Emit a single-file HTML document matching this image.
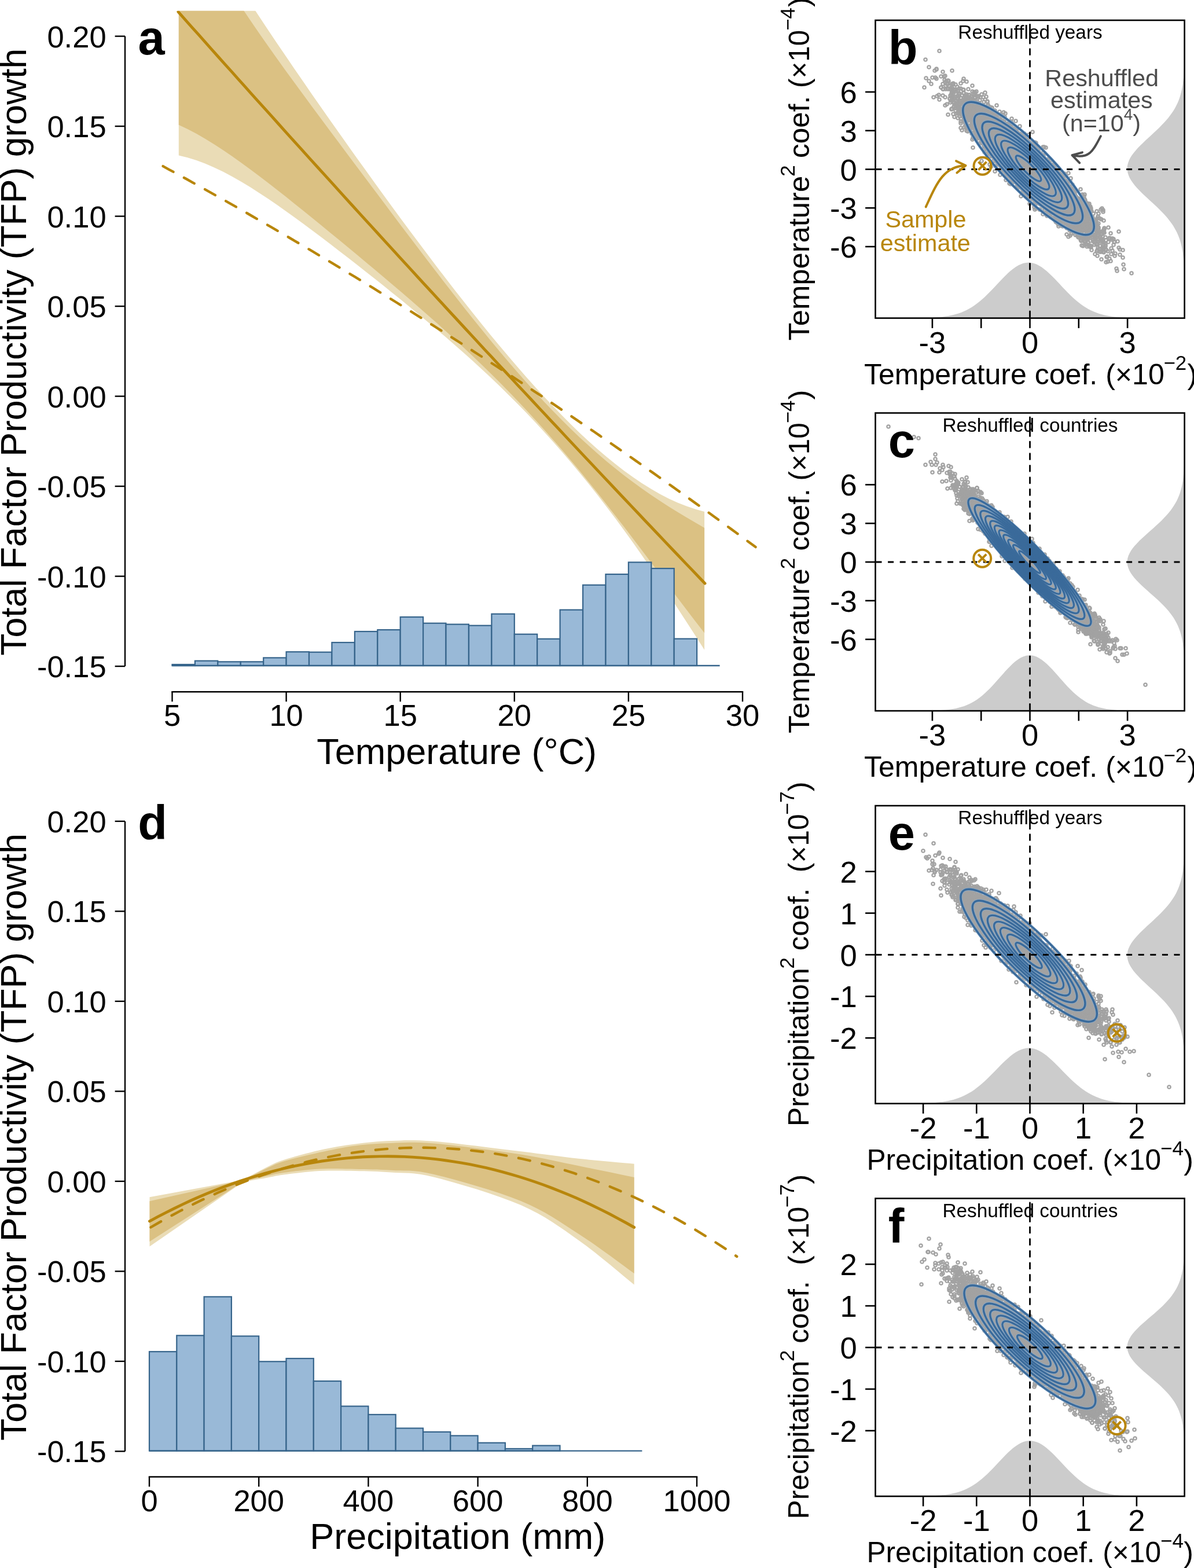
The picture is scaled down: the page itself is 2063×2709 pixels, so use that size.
<!DOCTYPE html>
<html><head><meta charset="utf-8"><title>Figure</title>
<style>html,body{margin:0;padding:0;background:#fff;}svg{display:block;}</style></head>
<body><svg xmlns="http://www.w3.org/2000/svg" width="2063" height="2709" viewBox="0 0 2063 2709" font-family="'Liberation Sans', Arial, Helvetica, sans-serif"><defs><marker id="ring" markerUnits="userSpaceOnUse" markerWidth="10" markerHeight="10" refX="5" refY="5" overflow="visible"><circle cx="5" cy="5" r="2.65" fill="none" stroke="#a2a2a2" stroke-width="2.3"/></marker><clipPath id="clipA"><rect x="216" y="18.75" width="1100" height="1176"/></clipPath><clipPath id="clipD"><rect x="216" y="1375" width="1100" height="1176"/></clipPath></defs><g clip-path="url(#clipA)"><polygon points="308.8,-194.6 324.1,-168.4 339.5,-142.5 354.9,-117.2 370.3,-92.2 385.7,-67.6 401.1,-43.3 416.5,-19.4 431.9,4.3 447.3,27.7 462.7,50.9 478.1,73.9 493.5,96.6 508.9,119.2 524.3,141.6 539.7,163.9 555.1,186 570.5,208 585.9,229.8 601.3,251.6 616.7,273.2 632.1,294.6 647.5,316 662.9,337.2 678.2,358.3 693.6,379.2 709,400 724.4,420.6 739.8,441.1 755.2,461.4 770.6,481.5 786,501.4 801.4,521.1 816.8,540.6 832.2,559.8 847.6,578.7 863,597.3 878.4,615.6 893.8,633.6 909.2,651.2 924.6,668.4 940,685.2 955.4,701.6 970.8,717.5 986.2,733 1001.6,747.9 1017,762.2 1032.4,776 1047.7,789.1 1063.1,801.6 1078.5,813.5 1093.9,824.6 1109.3,835 1124.7,844.6 1140.1,853.4 1155.5,861.4 1170.9,868.4 1186.3,874.6 1201.7,879.8 1217.1,884.1 1217.1,1122.7 1201.7,1098.6 1186.3,1074.7 1170.9,1051 1155.5,1027.6 1140.1,1004.6 1124.7,981.9 1109.3,959.7 1093.9,937.8 1078.5,916.5 1063.1,895.6 1047.7,875.2 1032.4,855.3 1017,835.8 1001.6,816.9 986.2,798.4 970.8,780.4 955.4,762.9 940,745.9 924.6,729.3 909.2,713.1 893.8,697.3 878.4,681.9 863,666.8 847.6,652.1 832.2,637.7 816.8,623.6 801.4,609.8 786,596.2 770.6,582.8 755.2,569.7 739.8,556.7 724.4,543.9 709,531.2 693.6,518.6 678.2,506.2 662.9,493.8 647.5,481.6 632.1,469.4 616.7,457.3 601.3,445.3 585.9,433.4 570.5,421.5 555.1,409.8 539.7,398.2 524.3,386.8 508.9,375.5 493.5,364.4 478.1,353.6 462.7,343.1 447.3,332.9 431.9,323.1 416.5,313.8 401.1,305 385.7,296.8 370.3,289.4 354.9,282.7 339.5,276.9 324.1,272.2 308.8,268.5" fill="#eadcb6"/><polygon points="308.8,-171.9 324.1,-142.4 339.5,-114.3 354.9,-87.4 370.3,-61.5 385.7,-36.4 401.1,-12.2 416.5,11.3 431.9,34.3 447.3,56.8 462.7,78.8 478.1,100.5 493.5,121.9 508.9,143.1 524.3,164.1 539.7,185 555.1,205.8 570.5,226.5 585.9,247.1 601.3,267.7 616.7,288.2 632.1,308.8 647.5,329.3 662.9,349.8 678.2,370.2 693.6,390.7 709,411 724.4,431.3 739.8,451.5 755.2,471.6 770.6,491.5 786,511.3 801.4,530.9 816.8,550.2 832.2,569.3 847.6,588.2 863,606.7 878.4,624.9 893.8,642.8 909.2,660.2 924.6,677.3 940,693.9 955.4,710.1 970.8,725.8 986.2,741 1001.6,755.7 1017,769.8 1032.4,783.5 1047.7,796.7 1063.1,809.3 1078.5,821.4 1093.9,833.1 1109.3,844.3 1124.7,855 1140.1,865.3 1155.5,875.2 1170.9,884.7 1186.3,894 1201.7,903.1 1217.1,912 1217.1,1093.6 1201.7,1073.7 1186.3,1053.6 1170.9,1033.2 1155.5,1012.7 1140.1,992.1 1124.7,971.6 1109.3,951.1 1093.9,930.8 1078.5,910.6 1063.1,890.7 1047.7,871 1032.4,851.5 1017,832.4 1001.6,813.6 986.2,795.2 970.8,777.1 955.4,759.4 940,742 924.6,725 909.2,708.3 893.8,692 878.4,676 863,660.3 847.6,645 832.2,629.9 816.8,615.2 801.4,600.7 786,586.4 770.6,572.4 755.2,558.5 739.8,544.9 724.4,531.4 709,518 693.6,504.8 678.2,491.7 662.9,478.7 647.5,465.7 632.1,452.9 616.7,440 601.3,427.3 585.9,414.6 570.5,401.9 555.1,389.3 539.7,376.8 524.3,364.3 508.9,351.9 493.5,339.6 478.1,327.5 462.7,315.5 447.3,303.7 431.9,292.2 416.5,280.9 401.1,270 385.7,259.5 370.3,249.5 354.9,240 339.5,231.1 324.1,223 308.8,215.7" fill="#dbc183"/><polyline points="307.9,20.4 319.4,33.4 330.9,46.3 342.5,59.2 354,72.2 365.5,85.1 377,98 388.5,110.9 400.1,123.7 411.6,136.6 423.1,149.4 434.6,162.3 446.1,175.1 457.7,187.9 469.2,200.7 480.7,213.5 492.2,226.3 503.7,239.1 515.3,251.8 526.8,264.6 538.3,277.3 549.8,290 561.3,302.7 572.9,315.4 584.4,328.1 595.9,340.8 607.4,353.5 618.9,366.1 630.5,378.8 642,391.4 653.5,404 665,416.6 676.5,429.2 688.1,441.8 699.6,454.4 711.1,466.9 722.6,479.5 734.1,492 745.7,504.5 757.2,517 768.7,529.5 780.2,542 791.8,554.5 803.3,567 814.8,579.4 826.3,591.9 837.8,604.3 849.4,616.7 860.9,629.1 872.4,641.5 883.9,653.9 895.4,666.3 907,678.7 918.5,691 930,703.3 941.5,715.7 953,728 964.6,740.3 976.1,752.6 987.6,764.9 999.1,777.1 1010.6,789.4 1022.2,801.6 1033.7,813.9 1045.2,826.1 1056.7,838.3 1068.2,850.5 1079.8,862.7 1091.3,874.9 1102.8,887 1114.3,899.2 1125.8,911.3 1137.4,923.5 1148.9,935.6 1160.4,947.7 1171.9,959.8 1183.4,971.9 1195,983.9 1206.5,996 1218,1008" fill="none" stroke="#b8860b" stroke-width="4.9" stroke-linecap="round"/><polyline points="281.6,287.1 291.9,292.8 302.3,298.4 312.6,304.1 323,309.8 333.3,315.6 343.7,321.3 354,327.1 364.3,332.9 374.7,338.7 385,344.5 395.4,350.4 405.7,356.2 416.1,362.1 426.4,368 436.7,374 447.1,379.9 457.4,385.9 467.8,391.9 478.1,397.9 488.4,403.9 498.8,410 509.1,416.1 519.5,422.2 529.8,428.3 540.2,434.4 550.5,440.6 560.8,446.7 571.2,452.9 581.5,459.2 591.9,465.4 602.2,471.7 612.6,477.9 622.9,484.2 633.2,490.6 643.6,496.9 653.9,503.3 664.3,509.6 674.6,516 685,522.5 695.3,528.9 705.6,535.4 716,541.8 726.3,548.3 736.7,554.9 747,561.4 757.4,568 767.7,574.6 778,581.2 788.4,587.8 798.7,594.4 809.1,601.1 819.4,607.8 829.7,614.5 840.1,621.2 850.4,628 860.8,634.7 871.1,641.5 881.5,648.3 891.8,655.2 902.1,662 912.5,668.9 922.8,675.8 933.2,682.7 943.5,689.6 953.9,696.6 964.2,703.6 974.5,710.6 984.9,717.6 995.2,724.6 1005.6,731.7 1015.9,738.7 1026.3,745.8 1036.6,752.9 1046.9,760.1 1057.3,767.2 1067.6,774.4 1078,781.6 1088.3,788.8 1098.7,796.1 1109,803.3 1119.3,810.6 1129.7,817.9 1140,825.2 1150.4,832.6 1160.7,839.9 1171,847.3 1181.4,854.7 1191.7,862.1 1202.1,869.6 1212.4,877 1222.8,884.5 1233.1,892 1243.4,899.5 1253.8,907.1 1264.1,914.6 1274.5,922.2 1284.8,929.8 1295.2,937.5 1305.5,945.1" fill="none" stroke="#b8860b" stroke-width="4.4" stroke-linecap="round" stroke-dasharray="20.4 21"/></g><g fill="#99b9d7" stroke="#36648b" stroke-width="2.2"><rect x="297.5" y="1148" width="39.4" height="2"/><rect x="336.9" y="1141.7" width="39.4" height="8.3"/><rect x="376.3" y="1143.3" width="39.4" height="6.7"/><rect x="415.8" y="1143.3" width="39.4" height="6.7"/><rect x="455.2" y="1136.4" width="39.4" height="13.6"/><rect x="494.6" y="1126.2" width="39.4" height="23.8"/><rect x="534" y="1126.7" width="39.4" height="23.3"/><rect x="573.4" y="1110" width="39.4" height="40"/><rect x="612.9" y="1091" width="39.4" height="59"/><rect x="652.3" y="1088.1" width="39.4" height="61.9"/><rect x="691.7" y="1066" width="39.4" height="84"/><rect x="731.1" y="1076.7" width="39.4" height="73.3"/><rect x="770.5" y="1078.6" width="39.4" height="71.4"/><rect x="810" y="1080.7" width="39.4" height="69.3"/><rect x="849.4" y="1060.7" width="39.4" height="89.3"/><rect x="888.8" y="1095.7" width="39.4" height="54.3"/><rect x="928.2" y="1103.8" width="39.4" height="46.2"/><rect x="967.6" y="1053.6" width="39.4" height="96.4"/><rect x="1007.1" y="1010.7" width="39.4" height="139.3"/><rect x="1046.5" y="992.1" width="39.4" height="157.9"/><rect x="1085.9" y="971.4" width="39.4" height="178.6"/><rect x="1125.3" y="982.1" width="39.4" height="167.9"/><rect x="1164.7" y="1103.6" width="39.4" height="46.4"/></g><line x1="297.5" y1="1150" x2="1243.6" y2="1150" stroke="#36648b" stroke-width="2.4"/><line x1="216" y1="62.6" x2="216" y2="1151.1" stroke="#000" stroke-width="2.4"/><line x1="198.6" y1="62.6" x2="216" y2="62.6" stroke="#000" stroke-width="2.4"/><text x="183.6" y="81.6" font-size="52.5" text-anchor="end" font-weight="normal" fill="#000" >0.20</text><line x1="198.6" y1="218.1" x2="216" y2="218.1" stroke="#000" stroke-width="2.4"/><text x="183.6" y="237.1" font-size="52.5" text-anchor="end" font-weight="normal" fill="#000" >0.15</text><line x1="198.6" y1="373.6" x2="216" y2="373.6" stroke="#000" stroke-width="2.4"/><text x="183.6" y="392.6" font-size="52.5" text-anchor="end" font-weight="normal" fill="#000" >0.10</text><line x1="198.6" y1="529.1" x2="216" y2="529.1" stroke="#000" stroke-width="2.4"/><text x="183.6" y="548.1" font-size="52.5" text-anchor="end" font-weight="normal" fill="#000" >0.05</text><line x1="198.6" y1="684.6" x2="216" y2="684.6" stroke="#000" stroke-width="2.4"/><text x="183.6" y="703.6" font-size="52.5" text-anchor="end" font-weight="normal" fill="#000" >0.00</text><line x1="198.6" y1="840.1" x2="216" y2="840.1" stroke="#000" stroke-width="2.4"/><text x="183.6" y="859.1" font-size="52.5" text-anchor="end" font-weight="normal" fill="#000" >-0.05</text><line x1="198.6" y1="995.6" x2="216" y2="995.6" stroke="#000" stroke-width="2.4"/><text x="183.6" y="1014.6" font-size="52.5" text-anchor="end" font-weight="normal" fill="#000" >-0.10</text><line x1="198.6" y1="1151.1" x2="216" y2="1151.1" stroke="#000" stroke-width="2.4"/><text x="183.6" y="1170.1" font-size="52.5" text-anchor="end" font-weight="normal" fill="#000" >-0.15</text><line x1="297.5" y1="1195.2" x2="1283" y2="1195.2" stroke="#000" stroke-width="2.4" stroke-linecap="square"/><line x1="297.5" y1="1195.2" x2="297.5" y2="1212.2" stroke="#000" stroke-width="2.4"/><text x="297.5" y="1254.2" font-size="52.5" text-anchor="middle" font-weight="normal" fill="#000" >5</text><line x1="494.6" y1="1195.2" x2="494.6" y2="1212.2" stroke="#000" stroke-width="2.4"/><text x="494.6" y="1254.2" font-size="52.5" text-anchor="middle" font-weight="normal" fill="#000" >10</text><line x1="691.7" y1="1195.2" x2="691.7" y2="1212.2" stroke="#000" stroke-width="2.4"/><text x="691.7" y="1254.2" font-size="52.5" text-anchor="middle" font-weight="normal" fill="#000" >15</text><line x1="888.8" y1="1195.2" x2="888.8" y2="1212.2" stroke="#000" stroke-width="2.4"/><text x="888.8" y="1254.2" font-size="52.5" text-anchor="middle" font-weight="normal" fill="#000" >20</text><line x1="1085.9" y1="1195.2" x2="1085.9" y2="1212.2" stroke="#000" stroke-width="2.4"/><text x="1085.9" y="1254.2" font-size="52.5" text-anchor="middle" font-weight="normal" fill="#000" >25</text><line x1="1283" y1="1195.2" x2="1283" y2="1212.2" stroke="#000" stroke-width="2.4"/><text x="1283" y="1254.2" font-size="52.5" text-anchor="middle" font-weight="normal" fill="#000" >30</text><text x="789.2" y="1319.6" font-size="63" text-anchor="middle" font-weight="normal" fill="#000" >Temperature (°C)</text><text transform="translate(45.3,608.2) rotate(-90)" font-size="62.5" text-anchor="middle">Total Factor Productivity (TFP) growth</text><text x="238.6" y="93.5" font-size="83" text-anchor="start" font-weight="bold" fill="#000" >a</text><g clip-path="url(#clipD)"><polygon points="258.5,2068.3 420,2038.5 423.2,2036.8 427.4,2034.4 432.5,2031.6 438.1,2028.6 444,2025.4 449.8,2022.3 455.2,2019.4 460,2017 464,2015 467.5,2013.2 470.6,2011.7 473.6,2010.2 476.9,2008.8 480.5,2007.3 484.8,2005.7 490,2004 496.2,2002 503.2,1999.9 510.9,1997.8 519,1995.5 527.3,1993.3 535.7,1991.2 543.9,1989.1 551.9,1987.3 559.6,1985.6 567.4,1984 575.1,1982.5 582.8,1981.1 590.6,1979.8 598.3,1978.6 606.1,1977.5 613.8,1976.4 621.5,1975.4 629,1974.5 636.5,1973.7 644,1973 651.6,1972.3 659.4,1971.8 667.4,1971.3 675.7,1971 683.9,1970.7 691.6,1970.4 699.3,1970.1 707.3,1970 716,1970 725.8,1970.3 737,1970.9 750,1971.8 765.5,1973.2 783.3,1975.1 802.9,1977.4 823.4,1979.8 844.1,1982.4 864.2,1984.9 883.1,1987.2 900,1989.3 914.9,1991.1 928.6,1992.9 941.4,1994.5 953.4,1996.1 965,1997.6 976.5,1999 988,2000.4 1000,2001.8 1012.8,2003.1 1026.5,2004.5 1040.4,2005.8 1054.1,2007 1067,2008.2 1078.6,2009.2 1088.3,2010 1095.7,2010.7 1095.7,2219.6 1088.3,2213.6 1078.6,2205.4 1067,2195.8 1054.1,2185.1 1040.4,2173.9 1026.5,2162.8 1012.8,2152.3 1000,2142.9 988,2134.5 976.5,2126.3 965,2118.4 953.4,2110.7 941.4,2103.3 928.6,2096.1 914.9,2089 900,2082.1 883.1,2075.2 864.2,2068.2 844.1,2061.3 823.4,2054.6 802.9,2048.4 783.3,2042.7 765.5,2037.7 750,2033.7 737,2030.7 725.8,2028.7 716,2027.4 707.3,2026.7 699.3,2026.4 691.6,2026.2 683.9,2026 675.7,2025.5 667.4,2024.9 659.4,2024.4 651.6,2024 644,2023.7 636.5,2023.5 629,2023.3 621.5,2023.2 613.8,2023 606.1,2022.8 598.3,2022.7 590.6,2022.5 582.8,2022.4 575.1,2022.4 567.4,2022.5 559.6,2022.7 551.9,2023 543.9,2023.5 535.7,2024.2 527.3,2025 519,2025.9 510.9,2026.9 503.2,2027.8 496.2,2028.7 490,2029.5 484.8,2030.2 480.5,2030.9 476.9,2031.6 473.6,2032.2 470.6,2032.9 467.5,2033.5 464,2034.2 460,2035 455.2,2035.9 449.8,2036.8 444,2037.8 438.1,2038.8 432.5,2039.8 427.4,2040.7 423.2,2041.4 420,2042 258.5,2153.5" fill="#eadcb6"/><polygon points="258.5,2075.3 420,2039 423.2,2037.4 427.4,2035.2 432.5,2032.6 438.1,2029.8 444,2026.8 449.8,2023.9 455.2,2021.3 460,2019 464,2017.1 467.5,2015.4 470.6,2013.9 473.6,2012.5 476.9,2011.1 480.5,2009.7 484.8,2008.2 490,2006.5 496.2,2004.7 503.2,2002.8 510.9,2000.8 519,1998.7 527.3,1996.7 535.7,1994.8 543.9,1992.9 551.9,1991.1 559.6,1989.4 567.4,1987.8 575.1,1986.2 582.8,1984.6 590.6,1983.2 598.3,1981.8 606.1,1980.6 613.8,1979.5 621.5,1978.6 629,1977.7 636.5,1977 644,1976.4 651.6,1975.9 659.4,1975.5 667.4,1975.2 675.7,1974.9 683.9,1974.6 691.6,1974.3 699.3,1973.9 707.3,1973.7 716,1973.7 725.8,1973.9 737,1974.5 750,1975.5 765.5,1977 783.3,1979 802.9,1981.3 823.4,1983.9 844.1,1986.6 864.2,1989.3 883.1,1992.1 900,1994.6 914.9,1997 928.6,1999.5 941.4,2001.9 953.4,2004.4 965,2006.9 976.5,2009.4 988,2011.8 1000,2014.3 1012.8,2016.9 1026.5,2019.7 1040.4,2022.5 1054.1,2025.3 1067,2028 1078.6,2030.4 1088.3,2032.4 1095.7,2033.9 1095.7,2200 1088.3,2194.7 1078.6,2187.5 1067,2179 1054.1,2169.6 1040.4,2159.7 1026.5,2149.8 1012.8,2140.4 1000,2132 988,2124.3 976.5,2116.7 965,2109.3 953.4,2102.1 941.4,2095.1 928.6,2088.2 914.9,2081.5 900,2075 883.1,2068.5 864.2,2061.8 844.1,2055.2 823.4,2048.9 802.9,2042.9 783.3,2037.5 765.5,2032.8 750,2029 737,2026.2 725.8,2024.3 716,2023.2 707.3,2022.6 699.3,2022.4 691.6,2022.3 683.9,2022.2 675.7,2021.8 667.4,2021.3 659.4,2020.9 651.6,2020.6 644,2020.4 636.5,2020.2 629,2020.1 621.5,2019.9 613.8,2019.8 606.1,2019.6 598.3,2019.4 590.6,2019.3 582.8,2019.1 575.1,2019 567.4,2019.1 559.6,2019.2 551.9,2019.5 543.9,2020 535.7,2020.7 527.3,2021.5 519,2022.4 510.9,2023.3 503.2,2024.3 496.2,2025.2 490,2026 484.8,2026.8 480.5,2027.5 476.9,2028.1 473.6,2028.8 470.6,2029.5 467.5,2030.3 464,2031.1 460,2032 455.2,2033.1 449.8,2034.4 444,2035.7 438.1,2037.1 432.5,2038.5 427.4,2039.7 423.2,2040.7 420,2041.5 258.5,2145" fill="#dbc183"/><polyline points="258.5,2109.9 272.7,2102.2 286.9,2094.8 301.1,2087.7 315.3,2080.9 329.4,2074.3 343.6,2068.1 357.8,2062 372,2056.3 386.2,2050.8 400.4,2045.6 414.6,2040.6 428.8,2036 443,2031.6 457.2,2027.4 471.3,2023.6 485.5,2020 499.7,2016.6 513.9,2013.6 528.1,2010.8 542.3,2008.3 556.5,2006 570.7,2004.1 584.9,2002.4 599.1,2000.9 613.2,1999.7 627.4,1998.8 641.6,1998.2 655.8,1997.9 670,1997.8 684.2,1998 698.4,1998.4 712.6,1999.1 726.8,2000.1 741,2001.4 755.1,2002.9 769.3,2004.7 783.5,2006.8 797.7,2009.1 811.9,2011.7 826.1,2014.6 840.3,2017.7 854.5,2021.2 868.7,2024.8 882.9,2028.8 897,2033 911.2,2037.5 925.4,2042.3 939.6,2047.3 953.8,2052.6 968,2058.2 982.2,2064 996.4,2070.1 1010.6,2076.5 1024.8,2083.2 1038.9,2090.1 1053.1,2097.3 1067.3,2104.8 1081.5,2112.5 1095.7,2120.5" fill="none" stroke="#b8860b" stroke-width="4.9" stroke-linecap="round"/><polyline points="260.5,2120.4 273.3,2113 286.1,2105.7 299,2098.7 311.8,2091.9 324.6,2085.2 337.4,2078.8 350.2,2072.6 363.1,2066.6 375.9,2060.8 388.7,2055.2 401.5,2049.9 414.3,2044.7 427.1,2039.7 440,2035 452.8,2030.4 465.6,2026.1 478.4,2021.9 491.2,2018 504.1,2014.3 516.9,2010.8 529.7,2007.5 542.5,2004.4 555.3,2001.5 568.2,1998.8 581,1996.3 593.8,1994.1 606.6,1992 619.4,1990.2 632.3,1988.5 645.1,1987.1 657.9,1985.9 670.7,1984.8 683.5,1984 696.3,1983.4 709.2,1983 722,1982.8 734.8,1982.8 747.6,1983.1 760.4,1983.5 773.3,1984.1 786.1,1985 798.9,1986 811.7,1987.3 824.5,1988.8 837.4,1990.4 850.2,1992.3 863,1994.4 875.8,1996.7 888.6,1999.2 901.4,2001.9 914.3,2004.9 927.1,2008 939.9,2011.3 952.7,2014.9 965.5,2018.6 978.4,2022.6 991.2,2026.7 1004,2031.1 1016.8,2035.7 1029.6,2040.5 1042.5,2045.5 1055.3,2050.7 1068.1,2056.1 1080.9,2061.7 1093.7,2067.5 1106.6,2073.6 1119.4,2079.8 1132.2,2086.3 1145,2092.9 1157.8,2099.8 1170.6,2106.8 1183.5,2114.1 1196.3,2121.6 1209.1,2129.3 1221.9,2137.2 1234.7,2145.3 1247.6,2153.6 1260.4,2162.1 1273.2,2170.9" fill="none" stroke="#b8860b" stroke-width="4.4" stroke-linecap="round" stroke-dasharray="20.4 21"/></g><g fill="#99b9d7" stroke="#36648b" stroke-width="2.2"><rect x="258" y="2335.2" width="47.3" height="171.4"/><rect x="305.3" y="2307.3" width="47.3" height="199.3"/><rect x="352.6" y="2240.4" width="47.3" height="266.2"/><rect x="399.9" y="2308.4" width="47.3" height="198.2"/><rect x="447.2" y="2352.3" width="47.3" height="154.3"/><rect x="494.5" y="2347" width="47.3" height="159.6"/><rect x="541.8" y="2386.1" width="47.3" height="120.5"/><rect x="589.1" y="2429.5" width="47.3" height="77.1"/><rect x="636.4" y="2443.9" width="47.3" height="62.7"/><rect x="683.7" y="2467.5" width="47.3" height="39.1"/><rect x="731" y="2473.9" width="47.3" height="32.7"/><rect x="778.3" y="2480.4" width="47.3" height="26.2"/><rect x="825.6" y="2492.7" width="47.3" height="13.9"/><rect x="872.9" y="2502.9" width="47.3" height="3.7"/><rect x="920.2" y="2497.5" width="47.3" height="9.1"/></g><line x1="258" y1="2506.6" x2="1109.4" y2="2506.6" stroke="#36648b" stroke-width="2.4"/><line x1="216" y1="1418.9" x2="216" y2="2507.4" stroke="#000" stroke-width="2.4"/><line x1="198.6" y1="1418.9" x2="216" y2="1418.9" stroke="#000" stroke-width="2.4"/><text x="183.6" y="1437.9" font-size="52.5" text-anchor="end" font-weight="normal" fill="#000" >0.20</text><line x1="198.6" y1="1574.4" x2="216" y2="1574.4" stroke="#000" stroke-width="2.4"/><text x="183.6" y="1593.4" font-size="52.5" text-anchor="end" font-weight="normal" fill="#000" >0.15</text><line x1="198.6" y1="1729.9" x2="216" y2="1729.9" stroke="#000" stroke-width="2.4"/><text x="183.6" y="1748.9" font-size="52.5" text-anchor="end" font-weight="normal" fill="#000" >0.10</text><line x1="198.6" y1="1885.4" x2="216" y2="1885.4" stroke="#000" stroke-width="2.4"/><text x="183.6" y="1904.4" font-size="52.5" text-anchor="end" font-weight="normal" fill="#000" >0.05</text><line x1="198.6" y1="2040.9" x2="216" y2="2040.9" stroke="#000" stroke-width="2.4"/><text x="183.6" y="2059.9" font-size="52.5" text-anchor="end" font-weight="normal" fill="#000" >0.00</text><line x1="198.6" y1="2196.4" x2="216" y2="2196.4" stroke="#000" stroke-width="2.4"/><text x="183.6" y="2215.4" font-size="52.5" text-anchor="end" font-weight="normal" fill="#000" >-0.05</text><line x1="198.6" y1="2351.9" x2="216" y2="2351.9" stroke="#000" stroke-width="2.4"/><text x="183.6" y="2370.9" font-size="52.5" text-anchor="end" font-weight="normal" fill="#000" >-0.10</text><line x1="198.6" y1="2507.4" x2="216" y2="2507.4" stroke="#000" stroke-width="2.4"/><text x="183.6" y="2526.4" font-size="52.5" text-anchor="end" font-weight="normal" fill="#000" >-0.15</text><line x1="258" y1="2551.5" x2="1204" y2="2551.5" stroke="#000" stroke-width="2.4" stroke-linecap="square"/><line x1="258" y1="2551.5" x2="258" y2="2568.5" stroke="#000" stroke-width="2.4"/><text x="258" y="2610.5" font-size="52.5" text-anchor="middle" font-weight="normal" fill="#000" >0</text><line x1="447.2" y1="2551.5" x2="447.2" y2="2568.5" stroke="#000" stroke-width="2.4"/><text x="447.2" y="2610.5" font-size="52.5" text-anchor="middle" font-weight="normal" fill="#000" >200</text><line x1="636.4" y1="2551.5" x2="636.4" y2="2568.5" stroke="#000" stroke-width="2.4"/><text x="636.4" y="2610.5" font-size="52.5" text-anchor="middle" font-weight="normal" fill="#000" >400</text><line x1="825.6" y1="2551.5" x2="825.6" y2="2568.5" stroke="#000" stroke-width="2.4"/><text x="825.6" y="2610.5" font-size="52.5" text-anchor="middle" font-weight="normal" fill="#000" >600</text><line x1="1014.8" y1="2551.5" x2="1014.8" y2="2568.5" stroke="#000" stroke-width="2.4"/><text x="1014.8" y="2610.5" font-size="52.5" text-anchor="middle" font-weight="normal" fill="#000" >800</text><line x1="1204" y1="2551.5" x2="1204" y2="2568.5" stroke="#000" stroke-width="2.4"/><text x="1204" y="2610.5" font-size="52.5" text-anchor="middle" font-weight="normal" fill="#000" >1000</text><text x="790.7" y="2675.9" font-size="63" text-anchor="middle" font-weight="normal" fill="#000" >Precipitation (mm)</text><text transform="translate(45.3,1964.5) rotate(-90)" font-size="62.5" text-anchor="middle">Total Factor Productivity (TFP) growth</text><text x="238.2" y="1449.8" font-size="83" text-anchor="start" font-weight="bold" fill="#000" >d</text><clipPath id="clipb"><rect x="1512.5" y="35" width="534.0999999999999" height="514.6"/></clipPath><g clip-path="url(#clipb)"><polygon points="1512.5,549.6 1512.5,549.6 1517,549.6 1521.5,549.6 1526,549.6 1530.5,549.6 1534.9,549.6 1539.4,549.6 1543.9,549.6 1548.4,549.6 1552.9,549.6 1557.4,549.6 1561.9,549.6 1566.4,549.5 1570.8,549.5 1575.3,549.5 1579.8,549.5 1584.3,549.4 1588.8,549.4 1593.3,549.3 1597.8,549.2 1602.3,549 1606.8,548.9 1611.2,548.7 1615.7,548.4 1620.2,548.1 1624.7,547.7 1629.2,547.2 1633.7,546.6 1638.2,545.9 1642.7,545 1647.1,544 1651.6,542.8 1656.1,541.5 1660.6,539.9 1665.1,538 1669.6,535.9 1674.1,533.6 1678.6,530.9 1683.1,528 1687.5,524.8 1692,521.2 1696.5,517.5 1701,513.4 1705.5,509.1 1710,504.6 1714.5,500 1719,495.3 1723.4,490.5 1727.9,485.7 1732.4,481 1736.9,476.4 1741.4,472.1 1745.9,468.1 1750.4,464.4 1754.9,461.2 1759.4,458.5 1763.8,456.4 1768.3,454.8 1772.8,453.9 1777.3,453.6 1781.8,454 1786.3,455 1790.8,456.6 1795.3,458.9 1799.7,461.6 1804.2,464.9 1808.7,468.6 1813.2,472.7 1817.7,477 1822.2,481.6 1826.7,486.3 1831.2,491.1 1835.7,495.9 1840.1,500.6 1844.6,505.3 1849.1,509.7 1853.6,514 1858.1,518 1862.6,521.7 1867.1,525.2 1871.6,528.4 1876,531.3 1880.5,533.9 1885,536.2 1889.5,538.3 1894,540.1 1898.5,541.7 1903,543 1907.5,544.2 1912,545.2 1916.4,546 1920.9,546.7 1925.4,547.3 1929.9,547.8 1934.4,548.1 1938.9,548.5 1943.4,548.7 1947.9,548.9 1952.3,549.1 1956.8,549.2 1961.3,549.3 1965.8,549.4 1970.3,549.4 1974.8,549.5 1979.3,549.5 1983.8,549.5 1988.3,549.5 1992.7,549.6 1997.2,549.6 2001.7,549.6 2006.2,549.6 2010.7,549.6 2015.2,549.6 2019.7,549.6 2024.2,549.6 2028.6,549.6 2033.1,549.6 2037.6,549.6 2042.1,549.6 2046.6,549.6 2046.6,549.6" fill="#cccccc"/><polygon points="2046.6,35 2046.6,35 2046.6,39.3 2046.6,43.6 2046.6,48 2046.6,52.3 2046.6,56.6 2046.6,60.9 2046.6,65.3 2046.6,69.6 2046.6,73.9 2046.5,78.2 2046.5,82.6 2046.5,86.9 2046.5,91.2 2046.4,95.5 2046.4,99.9 2046.3,104.2 2046.2,108.5 2046.1,112.8 2045.9,117.2 2045.7,121.5 2045.5,125.8 2045.2,130.1 2044.9,134.5 2044.4,138.8 2043.9,143.1 2043.3,147.4 2042.5,151.8 2041.7,156.1 2040.6,160.4 2039.4,164.7 2038.1,169.1 2036.5,173.4 2034.7,177.7 2032.6,182 2030.3,186.4 2027.8,190.7 2024.9,195 2021.8,199.3 2018.5,203.7 2014.8,208 2010.9,212.3 2006.8,216.6 2002.5,220.9 1998,225.3 1993.4,229.6 1988.7,233.9 1984,238.2 1979.3,242.6 1974.8,246.9 1970.3,251.2 1966.1,255.5 1962.2,259.9 1958.7,264.2 1955.5,268.5 1952.8,272.8 1950.7,277.2 1949.1,281.5 1948,285.8 1947.6,290.1 1947.8,294.5 1948.6,298.8 1950,303.1 1951.9,307.4 1954.4,311.8 1957.4,316.1 1960.8,320.4 1964.5,324.7 1968.6,329.1 1973,333.4 1977.5,337.7 1982.1,342 1986.9,346.4 1991.6,350.7 1996.2,355 2000.7,359.3 2005.1,363.7 2009.3,368 2013.3,372.3 2017,376.6 2020.5,380.9 2023.7,385.3 2026.7,389.6 2029.3,393.9 2031.7,398.2 2033.9,402.6 2035.8,406.9 2037.5,411.2 2038.9,415.5 2040.2,419.9 2041.3,424.2 2042.2,428.5 2043,432.8 2043.7,437.2 2044.2,441.5 2044.7,445.8 2045.1,450.1 2045.4,454.5 2045.6,458.8 2045.8,463.1 2046,467.4 2046.1,471.8 2046.3,476.1 2046.3,480.4 2046.4,484.7 2046.4,489.1 2046.5,493.4 2046.5,497.7 2046.5,502 2046.6,506.4 2046.6,510.7 2046.6,515 2046.6,519.3 2046.6,523.7 2046.6,528 2046.6,532.3 2046.6,536.6 2046.6,541 2046.6,545.3 2046.6,549.6 2046.6,549.6" fill="#cccccc"/><polygon points="1870.2,385.5 1868.2,386 1868.2,388.5 1866.5,389.4 1864.2,389.5 1861.4,389.2 1858.6,388.7 1855.3,387.7 1852.4,387 1849.8,386.9 1846.8,386.3 1843.3,384.9 1838.9,382.4 1834.4,379.5 1830.1,377 1825.2,373.4 1821.2,371.4 1816.9,368.8 1812.4,366 1807.4,361.9 1802.8,358.9 1798.2,356.1 1793.5,353.3 1788.4,349.6 1783.2,345.6 1777.9,341.9 1772.5,336.9 1767.3,331.5 1762.3,325.6 1757.3,320.5 1752.3,315.4 1747.6,310.1 1742.5,305.1 1737.1,300 1732.9,294.7 1728,289.4 1723.7,284.2 1719.7,279 1716.3,274 1712.4,269 1709.1,264.1 1705.4,259.2 1702.7,254.6 1699,249.6 1694.9,244.3 1691.2,239.2 1688.4,234.6 1685.5,229.9 1683.4,225.7 1680.3,220.7 1680,217.8 1679.2,214.6 1679,211.8 1676.3,207.1 1677.4,205.4 1675.4,201.2 1675.6,198.7 1674.7,195.3 1677.2,195 1678.1,193.4 1681,193.6 1680.7,190.7 1683.3,190.7 1684.7,189.5 1687.5,189.8 1690.5,190.4 1693.4,190.9 1695.5,190.4 1698.9,191.5 1700.5,190.3 1704.4,191.9 1709.4,195.2 1713.2,196.8 1717.1,198.6 1722.7,203.1 1725.9,203.7 1730,205.6 1734.2,207.5 1739.9,212.5 1744.9,216.1 1750.2,220.4 1755,223.3 1760.3,228 1765.4,231.6 1770.7,235.8 1776.1,240.5 1781.4,245.5 1786.6,251.2 1791.8,256 1796.7,261.6 1801.9,266.5 1806.3,272 1811.5,276.9 1816.5,282.1 1822,287.3 1826,292.6 1831.4,298 1835.8,303.3 1839.3,308.4 1843,313.5 1847.2,318.8 1849.6,323.3 1852.8,328.1 1857.6,333.8 1861.7,339.1 1864.1,343.6 1864.8,346.9 1867.5,351.5 1869.2,355.4 1869.8,358.4 1871.6,362.4 1875.3,367.8 1874.7,369.9 1875.4,373.1 1877.2,377.1 1877.5,379.9 1877,382 1875.9,383.5 1874.4,384.6 1872.5,385.3" fill="#a2a2a2" stroke="#a2a2a2" stroke-width="3" stroke-linejoin="round"/><path d="M1599 103 1623 88 1597 151 1605 140 1955 472 1942 465 1930 468 1693 181 1686 194 1655 157 1704 208 1860 346 1725 277 1856 358 1718 216 1829 305 1750 293 1711 185 1764 321 1790 266 1661 190 1682 209 1798 283 1826 369 1715 213 1867 369 1862 349 1681 208 1733 223 1698 229 1740 282 1706 235 1858 401 1735 216 1714 187 1748 233 1689 212 1893 382 1797 269 1761 237 1618 119 1727 222 1850 393 1821 286 1762 305 1670 213 1848 374 1730 274 1699 207 1857 366 1781 334 1725 217 1850 348 1817 361 1878 389 1785 334 1688 208 1692 178 1786 267 1788 345 1823 358 1725 211 1697 195 1819 297 1907 419 1863 366 1801 284 1703 237 1737 226 1700 213 1860 360 1791 273 1686 198 1847 333 1733 212 1874 383 1883 379 1708 202 1702 230 1874 336 1777 262 1714 254 1751 229 1873 385 1782 256 1821 304 1802 287 1689 220 1794 260 1810 296 1774 321 1859 372 1689 212 1695 201 1666 172 1842 304 1795 342 1804 356 1844 330 1758 243 1871 425 1856 368 1707 193 1706 199 1734 295 1793 347 1858 406 1668 193 1688 208 1649 184 1877 393 1694 190 1800 276 1809 294 1692 204 1851 404 1729 270 1893 407 1862 364 1871 349 1863 348 1750 224 1773 258 1778 322 1782 266 1763 239 1693 237 1693 201 1917 413 1773 247 1708 213 1692 196 1745 306 1692 199 1801 355 1768 316 1812 371 1881 393 1767 311 1700 233 1771 244 1850 339 1709 246 1900 400 1855 402 1687 182 1657 181 1746 229 1736 288 1779 327 1780 259 1787 259 1699 191 1683 177 1868 363 1823 311 1864 383 1884 362 1760 320 1845 339 1735 219 1763 234 1784 333 1847 340 1787 270 1874 344 1855 329 1723 275 1908 396 1768 330 1759 230 1759 235 1721 269 1807 368 1903 403 1703 198 1696 187 1880 353 1791 269 1825 362 1697 193 1791 339 1747 233 1704 242 1803 288 1827 364 1840 367 1701 211 1716 257 1818 285 1700 252 1745 313 1728 268 1816 360 1731 217 1866 365 1854 388 1875 357 1686 220 1811 276 1853 373 1832 381 1687 216 1907 436 1714 253 1723 212 1770 248 1724 207 1893 380 1867 375 1731 219 1717 211 1823 304 1768 241 1878 351 1920 414 1814 352 1765 231 1913 443 1878 376 1836 381 1856 370 1682 162 1862 402 1835 326 1767 312 1701 241 1892 417 1773 254 1713 211 1855 386 1745 287 1686 227 1770 231 1896 442 1709 209 1903 405 1808 286 1701 239 1903 435 1700 244 1786 334 1803 346 1925 418 1820 367 1814 301 1868 406 1815 296 1787 358 1672 204 1860 352 1771 314 1866 364 1835 325 1643 155 1868 361 1708 249 1768 312 1728 279 1703 190 1881 410 1676 186 1695 201 1852 353 1671 167 1735 227 1859 380 1730 285 1879 399 1821 308 1785 258 1722 217 1847 342 1846 377 1719 200 1802 276 1816 303 1732 219 1662 198 1666 177 1804 273 1839 318 1724 280 1821 368 1758 239 1826 362 1721 207 1892 409 1863 388 1694 215 1744 216 1721 212 1654 180 1727 220 1682 230 1870 391 1761 318 1823 360 1678 182 1757 245 1859 368 1866 379 1745 297 1884 403 1875 377 1786 256 1849 369 1815 356 1727 279 1753 309 1892 390 1872 381 1851 345 1789 332 1680 191 1693 217 1815 353 1842 384 1697 210 1724 214 1859 387 1856 398 1759 324 1802 276 1722 218 1696 207 1833 369 1806 287 1861 382 1813 298 1812 352 1732 219 1649 177 1883 401 1738 284 1880 377 1857 359 1797 278 1689 238 1694 237 1709 241 1873 371 1775 327 1694 247 1761 233 1877 386 1858 372 1852 340 1827 360 1804 288 1839 300 1807 369 1712 255 1847 338 1849 373 1886 365 1686 192 1689 229 1865 392 1777 260 1722 203 1736 228 1720 207 1776 339 1724 274 1677 197 1831 307 1830 388 1789 266 1884 376 1818 372 1717 258 1866 361 1705 200 1832 384 1695 201 1705 244 1784 228 1800 278 1719 255 1864 373 1734 293 1732 217 1912 444 1860 355 1846 386 1771 257 1702 197 1781 342 1821 286 1870 399 1813 359 1758 231 1762 238 1686 212 1843 394 1706 239 1714 207 1814 293 1659 197 1878 403 1692 216 1739 289 1745 216 1776 249 1783 329 1669 204 1726 284 1768 248 1883 392 1711 198 1754 297 1855 365 1859 373 1769 329 1790 247 1863 377 1772 255 1704 251 1698 215 1831 322 1731 215 1878 405 1748 234 1906 428 1866 387 1848 344 1693 233 1847 371 1728 270 1893 398 1690 213 1788 362 1718 205 1682 239 1690 188 1879 383 1888 383 1824 305 1853 379 1704 191 1859 368 1761 245 1673 176 1879 381 1823 364 1861 360 1878 395 1843 337 1878 370 1703 203 1867 360 1660 144 1719 283 1701 200 1720 211 1796 272 1719 264 1842 376 1651 187 1675 200 1791 339 1831 313 1731 274 1647 146 1828 311 1933 400 1835 379 1701 213 1872 412 1842 375 1772 249 1794 276 1757 309 1701 234 1700 248 1706 175 1693 211 1674 180 1733 285 1740 221 1836 324 1690 218 1641 170 1893 409 1881 374 1858 370 1697 230 1760 312 1663 177 1687 241 1738 292 1838 368 1883 397 1929 464 1636 145 1768 318 1689 238 1647 162 1722 208 1838 367 1884 404 1709 246 1772 333 1716 211 1784 329 1834 368 1734 285 1855 382 1760 305 1910 425 1692 228 1846 409 1852 378 1777 324 1810 285 1725 218 1686 201 1710 210 1826 360 1746 289 1744 229 1695 196 1869 358 1716 208 1825 365 1683 181 1742 286 1882 363 1820 301 1862 378 1898 393 1774 333 1825 359 1834 390 1672 191 1690 226 1687 180 1677 221 1767 247 1870 392 1725 266 1898 369 1783 329 1746 229 1812 355 1781 253 1838 380 1678 173 1870 379 1855 396 1681 200 1702 235 1767 241 1748 227 1867 375 1781 252 1665 183 1830 316 1743 293 1830 365 1706 201 1685 218 1745 218 1734 275 1673 181 1901 410 1728 302 1777 262 1652 158 1697 202 1866 399 1847 336 1711 245 1835 298 1797 338 1859 357 1881 398 1876 364 1858 368 1856 364 1692 215 1804 358 1858 386 1787 253 1899 430 1669 209 1805 353 1795 338 1825 384 1816 304 1842 338 1835 319 1775 245 1908 394 1693 173 1637 153 1854 390 1645 145 1766 248 1828 363 1696 241 1780 255 1854 370 1686 220 1856 388 1778 256 1882 402 1795 277 1872 410 1697 190 1706 193 1712 211 1813 354 1736 281 1784 333 1881 374 1869 365 1690 210 1701 263 1702 234 1851 348 1682 202 1840 380 1849 336 1836 326 1751 230 1883 399 1851 326 1757 313 1646 172 1687 178 1849 385 1907 400 1815 356 1715 252 1709 192 1899 401 1859 392 1663 198 1883 424 1813 353 1671 190 1755 242 1844 330 1811 364 1789 353 1869 358 1744 291 1847 376 1773 317 1687 233 1866 388 1862 349 1779 324 1683 196 1690 167 1694 247 1660 169 1846 370 1700 220 1860 389 1766 325 1767 310 1692 214 1774 258 1846 322 1714 186 1805 278 1755 209 1767 243 1677 205 1831 309 1706 196 1715 207 1834 323 1774 322 1832 363 1770 249 1695 198 1751 296 1844 370 1809 291 1741 224 1717 202 1718 257 1696 231 1711 264 1807 284 1749 233 1729 271 1806 283 1729 214 1701 197 1685 195 1849 391 1884 388 1817 367 1772 322 1735 290 1658 189 1889 417 1827 312 1760 243 1817 304 1836 314 1852 322 1752 302 1805 346 1689 194 1836 391 1752 299 1652 182 1733 290 1669 209 1654 183 1864 374 1654 150 1675 181 1873 380 1827 311 1670 193 1799 346 1780 261 1892 408 1819 297 1720 266 1742 291 1742 223 1665 155 1670 207 1661 195 1757 306 1699 207 1866 372 1681 219 1720 207 1748 290 1834 326 1699 195 1843 378 1722 207 1700 213 1837 376 1828 376 1703 207 1737 295 1749 237 1714 214 1691 166 1753 239 1787 259 1685 216 1862 394 1764 321 1673 204 1686 223 1742 284 1901 378 1869 411 1717 257 1873 381 1657 163 1858 360 1702 241 1657 153 1732 287 1827 309 1860 389 1815 375 1807 255 1822 361 1861 385 1713 254 1927 438 1629 124 1761 309 1853 375 1670 190 1701 239 1690 183 1669 173 1864 368 1696 163 1856 369 1709 248 1756 304 1789 259 1750 294 1830 363 1851 373 1695 210 1703 201 1807 291 1868 375 1854 373 1712 258 1888 414 1864 356 1811 291 1767 316 1728 275 1864 369 1875 346 1701 226 1849 348 1692 231 1802 276 1857 352 1677 171 1708 264 1787 338 1827 312 1731 223 1709 208 1743 229 1748 300 1869 377 1781 265 1769 245 1878 423 1816 355 1844 332 1851 395 1814 289 1825 371 1864 376 1851 389 1616 134 1684 200 1862 345 1675 200 1710 284 1774 254 1768 321 1818 354 1906 401 1847 394 1851 347 1861 362 1757 306 1852 341 1728 220 1699 201 1715 259 1859 343 1670 141 1705 238 1785 267 1836 321 1875 362 1687 195 1795 349 1686 203 1850 372 1716 196 1876 391 1823 302 1851 395 1880 374 1668 216 1658 181 1699 232 1716 194 1836 323 1828 310 1672 199 1741 282 1670 163 1816 302 1886 401 1876 374 1820 356 1631 132 1884 366 1791 336 1687 201 1833 323 1757 307 1646 156 1744 317 1862 407 1757 243 1695 193 1833 382 1830 317 1819 305 1705 244 1898 395 1653 184 1869 359 1771 245 1876 410 1759 245 1674 183 1686 206 1774 259 1761 321 1674 192 1693 211 1858 380 1672 186 1686 201 1854 372 1857 357 1757 243 1690 206 1675 168 1773 244 1682 197 1716 270 1856 383 1798 283 1805 351 1860 370 1848 396 1799 348 1810 361 1828 362 1822 362 1787 270 1683 159 1872 353 1787 329 1738 283 1861 395 1891 418 1691 248 1730 216 1872 408 1865 390 1798 272 1747 292 1820 373 1681 212 1741 222 1863 384 1772 326 1857 333 1782 259 1698 203 1694 190 1882 407 1861 378 1618 136 1813 366 1796 278 1694 195 1820 359 1917 411 1674 206 1854 378 1708 211 1680 217 1706 236 1805 291 1866 390 1816 301 1671 176 1846 299 1805 290 1848 370 1854 349 1860 393 1894 383 1871 363 1895 399 1704 232 1688 229 1825 366 1689 216 1809 349 1812 295 1882 352 1848 343 1776 255 1869 388 1858 370 1774 333 1697 235 1857 338 1717 213 1725 272 1678 196 1879 394 1731 225 1698 197 1818 286 1855 398 1856 351 1924 423 1866 365 1737 196 1792 275 1731 215 1800 350 1896 377 1797 280 1673 169 1758 242 1682 204 1752 233 1892 411 1723 266 1711 199 1862 347 1772 328 1762 246 1810 293 1863 410 1694 194 1648 170 1815 299 1701 230 1812 284 1716 255 1669 216 1728 270 1746 233 1852 336 1685 199 1891 402 1859 366 1791 276 1888 410 1668 166 1844 372 1721 202 1764 240 1737 224 1761 236 1940 432 1794 277 1859 369 1731 272 1736 278 1794 340 1853 351 1768 249 1819 358 1875 370 1697 225 1775 323 1868 373 1763 250 1767 311 1712 250 1832 306 1772 254 1764 250 1747 300 1692 194 1679 199 1788 257 1706 204 1795 269 1831 375 1853 382 1783 330 1754 310 1926 418 1703 231 1862 380 1693 231 1788 246 1688 180 1818 296 1681 189 1662 174 1706 236 1714 260 1788 330 1907 381 1760 239 1854 394 1858 377 1709 206 1694 212 1753 319 1670 182 1781 248 1853 347 1720 265 1647 197 1761 317 1740 294 1683 207 1700 214 1800 351 1855 344 1787 336 1714 207 1723 210 1864 355 1681 237 1854 371 1687 192 1726 265 1854 366 1886 432 1670 184 1899 403 1772 316 1728 211 1709 206 1797 362 1752 295 1818 361 1701 205 1857 359 1699 182 1715 196 1792 339 1880 396 1873 339 1676 202 1816 353 1869 424 1722 213 1711 249 1707 241 1817 305 1680 198 1736 202 1836 377 1818 357 1691 216 1827 314 1808 349 1681 192 1869 366 1829 318 1821 294 1680 214 1856 360 1801 285 1685 224 1780 329 1805 288 1760 309 1837 326 1722 259 1859 351 1699 205 1689 192 1701 196 1696 229 1694 218 1817 297 1837 327 1791 334 1670 185 1734 194 1709 208 1817 281 1678 218 1702 209 1703 197 1772 321 1783 268 1656 192 1702 236 1898 414 1859 365 1704 199 1739 230 1868 374 1675 188 1683 215 1691 210 1780 251 1700 226 1654 166 1644 189 1742 214 1780 322 1812 355 1833 369 1704 235 1720 287 1725 263 1678 203 1740 287 1675 192 1877 412 1844 377 1804 283 1702 202 1725 268 1837 327 1718 267 1837 320 1809 295 1859 377 1794 336 1662 165 1673 185 1672 220 1702 239 1677 218 1857 349 1853 371 1801 282 1868 399 1890 392 1707 244 1825 371 1851 393 1698 227 1785 332 1839 367 1757 245 1685 224 1819 304 1771 252 1791 332 1687 212 1764 319 1692 219 1870 377 1787 332 1756 241 1721 217 1833 324 1883 378 1911 431 1657 161 1791 258 1725 262 1679 175 1671 206 1739 301 1849 339 1690 206 1882 426 1722 200 1868 388 1854 374 1856 360 1787 330 1839 370 1706 235 1643 174 1704 189 1719 267 1819 358 1656 188 1825 367 1671 171 1713 207 1838 323 1626 132 1876 389 1877 391 1786 260 1849 387 1831 368 1820 359 1700 229 1826 315 1807 353 1771 252 1873 389 1726 264 1881 357 1864 353 1762 319 1686 173 1856 365 1882 388 1763 245 1687 186 1874 384 1769 254 1876 386 1872 364 1856 372 1658 181 1754 311 1870 372 1722 263 1900 435 1787 343 1853 373 1905 427 1881 392 1728 222 1941 457 1650 181 1863 371 1796 350 1701 206 1852 335 1646 166 1878 407 1702 211 1844 368 1671 191 1683 209 1833 376 1830 387 1723 211 1761 234 1761 245 1791 343 1787 269 1736 221 1636 180 1747 299 1701 207 1658 179 1805 353 1670 197 1725 275 1871 375 1712 249 1892 439 1725 264 1793 277 1807 276 1655 195 1690 224 1836 320 1746 233 1856 339 1768 322 1860 387 1827 308 1780 263 1776 327 1711 212 1693 199 1786 265 1771 313 1655 170 1658 174 1792 261 1868 416 1861 395 1716 196 1695 211 1857 332 1754 297 1701 210 1673 154 1738 311 1880 410 1738 287 1903 379 1810 291 1701 225 1677 198 1629 145 1880 387 1860 400 1742 226 1744 291 1857 371 1808 371 1764 238 1678 189 1705 211 1714 264 1793 334 1770 252 1695 184 1730 274 1813 287 1626 151 1672 181 1754 242 1820 302 1842 325 1820 359 1681 255 1853 319 1646 172 1805 283 1919 403 1896 421 1880 418 1694 197 1804 254 1906 435 1693 192 1657 194 1843 334 1845 340 1795 281 1718 203 1690 187 1859 357 1707 186 1638 145 1861 359 1838 377 1922 433 1715 211 1685 210 1736 287 1670 205 1729 215 1786 268 1866 381 1835 318 1824 383 1849 313 1734 274 1808 350 1862 368 1864 379 1814 297 1747 210 1785 269 1807 352 1696 194 1691 204 1689 214 1742 228 1801 287 1935 431 1853 328 1685 239 1755 300 1803 279 1857 364 1745 228 1858 338 1817 303 1774 247 1891 423 1856 343 1781 258 1740 227 1720 259 1693 212 1873 396 1786 327 1886 377 1838 375 1726 273 1895 365 1692 218 1848 372 1803 351 1677 195 1775 257 1785 270 1737 281 1824 367 1911 453 1914 452 1834 320 1814 285 1878 362 1672 178 1723 274 1702 242 1764 239 1605 116 1865 379 1773 316 1684 191 1711 261 1908 428 1679 196 1655 204 1705 249 1783 265 1834 379 1864 396 1866 368 1720 203 1862 377 1680 191 1699 188 1791 273 1882 378 1851 383 1650 156 1683 189 1750 295 1872 379 1870 342 1656 196 1695 215 1791 341 1704 249 1786 271 1741 302 1686 201 1832 367 1855 347 1749 297 1701 224 1898 386 1875 376 1715 269 1850 370 1729 268 1873 388 1795 337 1756 300 1810 292 1876 393 1829 391 1848 340 1721 200 1824 366 1719 203 1735 286 1706 242 1883 408 1702 253 1826 360 1731 280 1746 296 1740 291 1838 367 1714 255 1688 196 1875 350 1794 342 1763 319 1780 324 1827 302 1722 217 1887 374 1831 315 1873 354 1834 324 1805 362 1826 315 1837 330 1758 318 1852 384 1865 349 1725 274 1806 279 1717 213 1666 184 1828 387 1708 240 1858 362 1811 369 1665 160 1645 122 1872 392 1713 270 1823 361 1822 306 1833 375 1751 232 1702 209 1649 155 1716 266 1737 300 1803 280 1796 362 1696 278 1726 220 1657 193 1720 218 1853 375 1760 313 1877 388 1629 154 1828 311 1652 178 1713 256 1821 293 1866 385 1682 199 1660 153 1838 378 1653 196 1703 204 1794 271 1680 148 1718 195 1834 367 1786 332 1857 338 1719 275 1770 255 1866 385 1902 413 1803 275 1731 284 1758 234 1728 277 1693 237 1683 206 1822 284 1886 397 1673 198 1841 391 1718 200 1723 205 1709 242 1691 213 1691 234 1924 413 1705 209 1722 216 1875 417 1694 168 1709 244 1707 181 1792 335 1758 306 1826 304 1690 229 1713 248 1870 372 1696 218 1750 297 1808 285 1834 381 1792 275 1712 259 1867 382 1794 347 1710 254 1704 212 1866 344 1806 291 1885 425 1827 316 1674 170 1743 300 1828 366 1842 330 1688 212 1619 166 1887 375 1701 257 1766 316 1855 395 1709 208 1696 198 1733 210 1869 353 1669 195 1689 212 1853 368 1692 206 1853 349 1683 192 1694 225 1814 300 1666 168 1779 263 1795 340 1710 249 1861 395 1693 215 1821 306 1888 381 1896 432 1863 394 1742 216 1747 311 1848 375 1845 391 1870 378 1706 176 1639 140 1865 349 1780 258 1854 390 1742 221 1874 387 1889 394 1790 267 1812 293 1851 378 1720 261 1788 332 1701 248 1801 276 1672 197 1852 369 1757 312 1689 197 1704 235 1907 423 1666 210 1885 390 1732 206 1779 263 1720 216 1910 424 1703 188 1700 224 1822 379 1650 155 1861 368 1854 361 1749 234 1838 321 1788 336 1836 367 1776 259 1778 328 1860 363 1707 183 1751 236 1743 285 1751 304 1733 279 1692 212 1704 237 1600 135 1852 339 1795 278 1868 351 1853 347 1855 355 1866 373 1782 259 1867 368 1764 314 1856 385 1811 351 1852 375 1803 353 1723 277 1693 204 1787 260 1709 200 1715 250 1866 354 1674 181 1750 311 1735 277 1847 371 1703 254 1858 346 1848 341 1747 290 1884 375 1673 188 1822 310 1872 370 1756 227 1734 225 1851 390 1696 246 1756 237 1691 203 1770 237 1709 247 1846 375 1818 300 1680 195 1857 384 1692 225 1792 334 1883 399 1858 361 1729 272 1813 290 1755 234 1678 174 1710 256 1673 188 1638 154 1805 345 1813 296 1920 439 1718 202 1665 136 1685 235 1933 428 1732 221 1843 375 1748 205 1695 221 1889 391 1731 282 1897 414 1840 368 1878 415 1695 241 1693 202 1697 229 1711 212 1876 376 1701 206 1885 398 1780 336 1689 215 1670 209 1762 243 1701 201 1878 426 1779 329 1904 400 1857 360 1694 203 1709 244 1698 230 1671 207 1806 347 1750 219 1682 229 1762 307 1830 362 1848 344 1769 255 1804 345 1735 276 1730 199 1873 378 1806 289 1660 213 1839 376 1690 207 1716 255 1716 214 1739 216 1723 216 1842 370 1903 448 1907 430 1783 263 1722 216 1674 220 1682 202 1869 401 1803 289 1872 398 1688 166 1875 397 1687 197 1718 216 1662 225 1741 232 1880 370 1865 347 1697 212 1695 189 1910 410 1706 203 1741 230 1805 348 1828 362 1810 296 1778 257 1853 394 1868 401 1697 206 1665 161 1658 162 1703 210 1891 400 1659 176 1699 200 1694 215 1698 203 1866 371 1710 246 1705 251 1812 350 1739 298 1809 358 1678 196 1671 165 1744 293 1679 184 1709 207 1659 174 1722 182 1704 253 1804 283 1800 352 1633 168 1727 222 1700 239 1863 373 1706 200 1740 287 1805 344 1723 263 1654 169 1892 409 1720 217 1698 204 1753 231 1878 357 1739 302 1874 373 1712 206 1808 293 1772 329 1714 248 1843 316 1678 167 1695 216 1768 320 1840 323 1842 318 1674 199 1750 237 1704 239 1638 198 1701 224 1682 201 1695 195 1822 297 1890 406 1842 386 1789 341 1885 360 1885 407 1779 255 1783 252 1874 382 1820 358 1885 396 1831 315 1717 257 1867 386 1754 301 1713 214 1896 400 1926 442 1735 224 1762 237 1644 188 1838 375 1707 240 1877 367 1898 406 1881 398 1773 322 1687 158 1700 223 1749 295 1825 309 1785 327 1693 231 1719 191 1783 336 1765 308 1688 210 1847 389 1731 220 1768 332 1858 359 1822 305 1709 196 1705 199 1680 176 1647 144 1754 303 1850 308 1814 296 1910 421 1847 338 1885 388 1866 395 1723 265 1685 160 1714 215 1754 311 1887 380 1774 330 1727 266 1668 208 1684 191 1690 228 1699 231 1785 339 1774 252 1708 247 1855 363 1838 326 1713 265 1678 220 1746 227 1751 233 1876 399 1836 379 1684 210 1850 328 1824 303 1764 312 1885 427 1757 313 1686 222 1860 380 1684 175 1823 364 1860 353 1790 273 1862 352 1847 314 1702 254 1823 312 1856 361 1826 377 1847 370 1881 372 1858 362 1690 185 1674 164 1697 215 1780 351 1772 332 1863 346 1673 169 1801 281 1882 390 1856 361 1794 337 1864 382 1716 212 1788 273 1854 331 1749 235 1827 303 1810 290 1720 266 1756 308 1742 221 1906 417 1883 401 1724 265 1692 210 1857 353 1867 391 1857 387 1860 361 1853 390 1705 206 1879 394 1812 282 1817 299 1823 365 1902 362 1633 131 1840 330 1782 331 1778 325 1809 373 1808 348 1882 399 1857 390 1762 245 1645 173 1874 365 1622 164 1818 303 1874 418 1696 247 1746 290 1868 374 1884 387 1705 204 1864 395 1709 208 1822 357 1920 429 1747 219 1746 214 1679 178 1766 251 1714 195 1830 308 1683 200 1780 257 1700 232 1721 259 1823 297 1695 191 1767 319 1861 361 1660 188 1728 293 1689 193 1699 240 1700 189 1780 261 1866 358 1794 270 1753 234 1861 386 1787 354 1689 222 1769 325 1859 353 1881 409 1671 180 1727 193 1804 356 1675 179 1734 275 1725 278 1642 154 1648 178 1722 264 1803 263 1755 240 1867 386 1790 275 1849 337 1821 308 1861 354 1857 357 1718 212 1832 369 1690 192 1813 281 1917 447 1777 328 1863 379 1870 386 1611 134 1817 354 1671 176 1828 374 1783 339 1880 372 1733 274 1723 281 1737 217 1710 212 1867 381 1765 320 1868 364 1859 363 1849 342 1803 269 1802 254 1684 164 1866 346 1719 214 1811 362 1856 384 1869 381 1685 176 1802 285 1678 219 1869 394 1808 350 1810 296 1696 247 1906 429 1759 245 1833 311 1772 251 1721 266 1697 233 1752 302 1826 364 1669 192 1679 173 1771 253 1644 168 1754 303 1674 202 1626 151 1876 368 1827 380 1885 399 1853 398 1759 308 1775 259 1736 277 1696 191 1736 282 1855 394 1855 398 1689 222 1712 260 1754 300 1706 211 1682 205 1713 262 1748 303 1818 297 1790 255 1900 409 1851 387 1676 194 1729 223 1853 375 1841 334 1876 367 1701 213 1851 336 1842 370 1669 192 1781 266 1859 365 1774 242 1723 212 1809 351 1837 324 1709 245 1852 381 1855 375 1804 279 1696 228 1745 292 1877 370 1766 334 1852 334 1834 325 1676 197 1757 239 1781 251 1747 289 1634 154 1846 338 1669 203 1755 310 1865 376 1703 231 1899 377 1824 376 1687 188 1819 357 1847 376 1697 237 1702 227 1672 220 1743 227 1848 335 1720 211 1761 236 1799 353 1874 356 1753 308 1843 405 1787 331 1686 196 1684 180 1700 205 1897 428 1811 275 1837 318 1904 415 1732 273 1743 295 1876 421 1746 233 1848 346 1791 275 1773 253 1866 398 1691 236 1711 211 1710 208 1679 192 1848 398 1814 355 1734 281 1735 286 1680 241 1853 378 1860 357 1843 325 1679 209 1709 199 1791 264 1711 200 1737 226 1826 381 1798 342 1696 236 1861 407 1761 240 1710 260 1709 241 1848 380 1795 342 1714 251 1767 311 1857 384 1740 283 1714 195 1702 172 1689 229 1875 391 1687 193 1686 220 1823 305 1848 393 1679 180 1880 371 1775 260 1831 318 1708 202 1762 218 1633 142 1832 377 1775 257 1856 378 1843 320 1698 247 1717 277 1672 195 1904 360 1805 349 1642 165 1824 312 1634 148 1778 248 1841 312 1708 246 1678 188 1754 301 1808 349 1700 197 1672 227 1613 168 1701 203 1882 383 1804 348 1677 174 1836 373 1734 214 1833 312 1681 189 1853 368 1818 357 1861 355 1832 320 1878 382 1906 366 1887 385 1901 411 1865 361 1667 183 1764 249 1721 217 1800 341 1700 196 1814 355 1708 254 1744 233 1711 211 1857 375 1728 219 1885 386 1747 299 1746 289 1701 191 1908 402 1747 236 1875 380 1787 264 1682 188 1853 392 1686 231 1824 367 1682 201 1728 273 1736 218 1707 249 1861 342 1739 210 1874 384 1798 342 1785 336 1873 395 1690 199 1857 389 1776 322 1651 146 1762 322 1866 364 1676 190 1671 176 1859 382 1880 406 1638 139 1824 304 1875 416 1705 245 1852 379 1669 169 1835 328 1874 372 1865 377 1726 203 1778 262 1789 263 1831 370 1907 397 1809 361 1719 261 1730 291 1642 177 1742 229 1660 221 1863 368 1889 369 1834 367 1669 220 1648 184 1874 369 1839 378 1813 358 1701 227 1704 262 1740 230 1792 339 1849 385 1860 369 1729 219 1752 232 1651 180 1785 264 1931 417 1684 194 1707 195 1766 310 1804 285 1735 294 1897 374 1711 252 1906 431 1731 273 1766 318 1903 418 1717 206 1895 434 1742 289 1840 372 1879 375 1854 357 1719 271 1852 369 1676 204 1831 317 1781 249 1856 363 1749 214 1818 366 1846 336 1645 188 1879 360 1857 351 1868 347 1905 417 1736 216 1787 270 1713 250 1822 298 1697 202 1692 226 1862 379 1688 223 1687 205 1846 341 1755 302 1865 402 1789 273 1678 187 1935 440 1808 350 1764 315 1792 338 1869 378 1829 384 1883 404 1784 268 1752 313 1713 197 1686 198 1810 296 1839 329 1758 242 1807 352 1632 138 1863 343 1860 389 1751 239 1814 283 1855 340 1751 313 1776 260 1865 369 1863 357 1750 304 1764 339 1686 204 1911 415 1694 221 1657 166 1730 295 1699 209 1856 380 1709 208 1855 351 1709 266 1704 238 1851 336 1731 271 1897 392 1870 338 1712 288 1699 208 1698 219 1850 344 1676 219 1879 356 1830 308 1709 197 1710 205 1779 247 1782 263 1806 289 1685 209 1668 193 1799 343 1759 234 1884 405 1673 203 1906 363 1829 315 1771 314 1651 191 1710 196 1815 355 1771 257 1860 349 1890 388 1790 258 1708 251 1715 208 1679 173 1759 322 1756 225 1794 273 1835 323 1862 364 1675 164 1690 209 1829 366 1783 264 1870 387 1825 300 1699 258 1884 416 1869 395 1726 266 1760 309 1745 231 1689 193 1756 308 1850 343 1849 407 1668 167 1684 200 1854 360 1738 226 1705 239 1689 207 1696 226 1660 188 1892 397 1819 357 1846 370 1841 390 1768 250 1675 200 1884 359 1732 218 1729 274 1847 374 1841 380 1851 379 1809 350 1764 250 1818 366 1757 222 1779 346 1819 300 1715 214 1754 314 1661 205 1747 232 1875 410 1686 196 1803 284 1822 380 1869 390 1855 378 1837 388 1736 286 1809 356 1684 211 1713 254 1696 208 1809 281 1836 390 1836 366 1726 284 1802 345 1829 305 1689 184 1742 285 1840 333 1836 326 1848 370 1750 223 1844 336 1695 193 1717 253 1765 251 1853 348 1846 379 1666 220 1870 366 1846 338 1791 272 1747 232 1686 220 1790 269 1792 343 1775 260 1743 287 1841 321 1835 379 1770 254 1860 377 1788 271 1719 296 1704 204 1863 375 1699 214 1753 301 1706 193 1888 376 1859 340 1826 365 1754 302 1724 270 1680 158 1635 140 1688 191 1692 231 1785 328 1869 387 1828 369 1714 270 1739 280 1670 182 1687 224 1814 356 1811 351 1667 211 1778 336 1677 177 1728 273 1862 374 1849 375 1859 380 1894 386 1879 388 1800 347 1867 365 1766 249 1859 375 1752 300 1811 357 1657 189 1741 295 1748 301 1846 338 1822 363 1854 360 1783 267 1783 325 1896 388 1729 220 1810 350 1826 312 1697 184 1785 267 1839 374 1704 167 1866 363 1844 371 1684 169 1744 220 1690 219 1675 201 1698 204 1870 379 1719 257 1687 205 1711 250 1911 432 1640 148 1717 252 1707 243 1877 378 1689 198 1781 254 1836 304 1805 345 1879 375 1866 407 1846 377 1847 342 1609 145 1864 361 1844 375 1675 217 1722 268 1710 204 1761 244 1883 394 1824 372 1701 228 1786 268 1915 393 1697 216 1686 233 1701 244 1803 345 1842 382 1659 188 1679 231 1819 355 1875 385 1687 240 1817 366 1840 373 1790 251 1774 318 1830 320 1770 251 1761 308 1669 214 1709 260 1867 358 1663 174 1746 232 1836 374 1721 265 1889 407 1860 357 1681 219 1629 165 1746 318 1646 159 1832 317 1674 189 1817 354 1690 236 1867 366 1774 259 1826 361 1618 120 1790 275 1633 182 1861 351 1862 381 1698 215 1716 200 1685 223 1842 378 1672 186 1681 226 1652 184 1733 212 1714 191 1869 369 1827 361 1744 289 1654 171 1857 385 1641 171 1707 239 1845 378 1714 213 1691 186 1809 352 1859 343 1843 336 1721 211 1723 268 1834 317 1870 336 1875 407 1805 345 1712 248 1699 194 1727 221 1800 270 1874 369 1865 374 1696 208 1660 210 1693 197 1649 202 1694 204 1684 207 1839 323 1753 313 1845 335 1850 342 1915 418 1896 422 1788 350 1676 198 1750 294 1783 266 1804 276 1685 168 1840 329 1739 220 1859 364 1717 210 1826 374 1660 205 1674 213 1872 410 1711 196 1717 215 1790 336 1714 206 1688 180 1732 287 1922 412 1864 366 1716 193 1693 188 1733 225 1802 370 1864 376 1861 355 1740 283 1897 401 1786 271 1757 312 1827 291 1894 422 1862 358 1810 288 1813 297 1658 179 1805 358 1715 205 1714 249 1702 246 1876 381 1644 164 1728 274 1712 247 1872 381 1729 222 1652 174 1667 196 1691 217 1904 414 1699 248 1867 327 1714 201 1760 235 1693 214 1678 173 1869 342 1700 200 1847 341 1778 324 1857 373 1850 382 1757 243 1833 314 1697 191 1733 215 1709 240 1735 215 1862 373 1852 337 1815 355 1673 207 1733 274 1845 338 1804 346 1881 375 1857 396 1770 247 1734 219 1666 201 1821 302 1859 389 1816 290 1884 357 1782 327 1767 240 1724 220 1743 299 1843 383 1872 378 1742 291 1707 195 1734 224 1788 271 1705 207 1712 200 1865 364 1664 190 1914 434 1734 277 1690 207 1901 435 1739 305 1615 122 1828 310 1844 375 1871 390 1831 307 1692 193 1750 234 1820 285 1856 334 1765 234 1861 382 1863 371 1819 368 1688 202 1851 375 1695 221 1854 375 1689 220 1765 311 1695 224 1836 379 1722 264 1863 365 1787 334 1714 256 1705 234 1678 218 1803 286 1827 373 1787 255 1874 397 1790 269 1865 354 1728 267 1705 212 1646 153 1623 172 1775 259 1778 333 1694 212 1752 303 1716 263 1865 362 1706 199 1818 304 1840 383 1765 319 1869 385 1855 374 1878 389 1861 377 1824 365 1752 234 1940 445 1692 216 1724 220 1877 380 1860 358 1701 198 1746 290 1700 216 1775 319 1722 208 1862 363 1698 211 1664 140 1768 254 1777 233 1735 220 1735 223 1739 284 1872 358 1670 170 1842 368 1866 374 1866 367 1754 226 1804 345 1778 262 1830 292 1776 322 1701 238 1670 226 1804 280 1684 204 1869 373 1858 366 1680 188 1707 198 1738 287 1865 395 1834 302 1825 376 1790 360 1667 184 1682 204 1868 416 1733 221 1717 216 1684 189 1664 155 1706 237 1661 198 1697 186 1746 227 1744 227 1804 349 1779 352 1704 198 1860 343 1697 225 1857 376 1688 188 1680 195 1704 194 1793 258 1743 229 1715 250 1734 300 1665 179 1731 219 1779 326 1905 408 1784 263 1869 373 1707 265 1838 371 1723 276 1761 313 1755 300 1869 365 1805 364 1849 382 1752 233 1867 359 1864 409 1687 212 1855 340 1686 190 1678 199 1689 229 1817 303 1785 330 1658 201 1801 343 1797 350 1869 398 1766 310 1696 211 1839 330 1719 266 1699 200 1839 374 1781 266 1722 275 1826 364 1710 198 1700 176 1862 385 1862 376 1867 414 1858 363 1677 222 1650 168 1824 373 1809 359 1699 168 1919 451 1723 216 1877 404 1644 161 1712 213 1699 221 1686 222 1721 205 1718 209 1728 220 1799 341 1847 329 1825 362 1683 183 1744 288 1647 159 1767 310 1839 329 1870 408 1678 189 1745 297 1901 425 1694 210 1860 397 1699 224 1846 388 1862 372 1852 370 1705 198 1708 210 1794 260 1793 276 1710 197 1747 306 1762 305 1841 333 1680 170 1837 368 1716 254 1786 267 1851 334 1707 266 1805 353 1843 330 1702 160 1643 152 1850 348 1705 206 1765 315 1807 291 1833 365 1729 198 1688 207 1897 417 1794 344 1849 345 1684 199 1630 154" fill="none" stroke="none" marker-start="url(#ring)" marker-mid="url(#ring)" marker-end="url(#ring)"/><g fill="none" stroke="#8aaccd" stroke-width="4.8"><ellipse cx="1777" cy="291" rx="156" ry="39.9" transform="rotate(45.40 1777 291)"/><ellipse cx="1777" cy="291" rx="129" ry="33" transform="rotate(45.40 1777 291)"/><ellipse cx="1777" cy="291" rx="110.2" ry="28.2" transform="rotate(45.40 1777 291)"/><ellipse cx="1777" cy="291" rx="94.5" ry="24.2" transform="rotate(45.40 1777 291)"/><ellipse cx="1777" cy="291" rx="79.5" ry="20.4" transform="rotate(45.40 1777 291)"/><ellipse cx="1777" cy="291" rx="65.2" ry="16.7" transform="rotate(45.40 1777 291)"/><ellipse cx="1777" cy="291" rx="49.5" ry="12.7" transform="rotate(45.40 1777 291)"/><ellipse cx="1777" cy="291" rx="30" ry="7.7" transform="rotate(45.40 1777 291)"/></g><g fill="none" stroke="#3a6a9a" stroke-width="3.3"><ellipse cx="1777" cy="291" rx="156" ry="39.9" transform="rotate(45.40 1777 291)"/><ellipse cx="1777" cy="291" rx="129" ry="33" transform="rotate(45.40 1777 291)"/><ellipse cx="1777" cy="291" rx="110.2" ry="28.2" transform="rotate(45.40 1777 291)"/><ellipse cx="1777" cy="291" rx="94.5" ry="24.2" transform="rotate(45.40 1777 291)"/><ellipse cx="1777" cy="291" rx="79.5" ry="20.4" transform="rotate(45.40 1777 291)"/><ellipse cx="1777" cy="291" rx="65.2" ry="16.7" transform="rotate(45.40 1777 291)"/><ellipse cx="1777" cy="291" rx="49.5" ry="12.7" transform="rotate(45.40 1777 291)"/><ellipse cx="1777" cy="291" rx="30" ry="7.7" transform="rotate(45.40 1777 291)"/></g></g><line x1="1512.5" y1="292.5" x2="2046.6" y2="292.5" stroke="#000" stroke-width="2.8" stroke-dasharray="10 10.6" stroke-dashoffset="-1"/><line x1="1779.5" y1="42.5" x2="1779.5" y2="75" stroke="#000" stroke-width="2.8" stroke-linecap="round"/><line x1="1779.5" y1="84.6" x2="1779.5" y2="549.6" stroke="#000" stroke-width="2.8" stroke-dasharray="10 10.6" stroke-linecap="round"/><circle cx="1697.5" cy="286.7" r="15" fill="none" stroke="#b8860b" stroke-width="4"/><path d="M1690.5,279.7L1704.5,293.7M1704.5,279.7L1690.5,293.7" stroke="#b8860b" stroke-width="4"/><rect x="1512.5" y="35" width="534.1" height="514.6" fill="none" stroke="#000" stroke-width="2.6"/><line x1="1610.9" y1="549.6" x2="1610.9" y2="566.9" stroke="#000" stroke-width="2.6"/><text x="1610.9" y="609.6" font-size="52.5" text-anchor="middle" font-weight="normal" fill="#000" >-3</text><line x1="1695.2" y1="549.6" x2="1695.2" y2="566.9" stroke="#000" stroke-width="2.6"/><line x1="1779.5" y1="549.6" x2="1779.5" y2="566.9" stroke="#000" stroke-width="2.6"/><text x="1779.5" y="609.6" font-size="52.5" text-anchor="middle" font-weight="normal" fill="#000" >0</text><line x1="1863.8" y1="549.6" x2="1863.8" y2="566.9" stroke="#000" stroke-width="2.6"/><line x1="1948.1" y1="549.6" x2="1948.1" y2="566.9" stroke="#000" stroke-width="2.6"/><text x="1948.1" y="609.6" font-size="52.5" text-anchor="middle" font-weight="normal" fill="#000" >3</text><line x1="1495.1" y1="158.9" x2="1512.5" y2="158.9" stroke="#000" stroke-width="2.6"/><text x="1480.8" y="177.9" font-size="52.5" text-anchor="end" font-weight="normal" fill="#000" >6</text><line x1="1495.1" y1="225.7" x2="1512.5" y2="225.7" stroke="#000" stroke-width="2.6"/><text x="1480.8" y="244.7" font-size="52.5" text-anchor="end" font-weight="normal" fill="#000" >3</text><line x1="1495.1" y1="292.5" x2="1512.5" y2="292.5" stroke="#000" stroke-width="2.6"/><text x="1480.8" y="311.5" font-size="52.5" text-anchor="end" font-weight="normal" fill="#000" >0</text><line x1="1495.1" y1="359.3" x2="1512.5" y2="359.3" stroke="#000" stroke-width="2.6"/><text x="1480.8" y="378.3" font-size="52.5" text-anchor="end" font-weight="normal" fill="#000" >-3</text><line x1="1495.1" y1="426.1" x2="1512.5" y2="426.1" stroke="#000" stroke-width="2.6"/><text x="1480.8" y="445.1" font-size="52.5" text-anchor="end" font-weight="normal" fill="#000" >-6</text><text x="1780" y="67.3" font-size="33.3" text-anchor="middle" font-weight="normal" fill="#000" >Reshuffled years</text><text x="1534.8" y="111.3" font-size="83" text-anchor="start" font-weight="bold" fill="#000" >b</text><text x="1492.9" y="663.9" font-size="50.05">Temperature coef. (×10</text><text x="2010.4" y="638.7" font-size="34.81">−2</text><text x="2051.5" y="663.9" font-size="50.00">)</text><text transform="translate(1397.9,600.0) rotate(-90)" xml:space="preserve"><tspan x="11.4" y="0.0" font-size="50.74">Temperature</tspan><tspan x="294.9" y="-25.0" font-size="35.50">2</tspan><tspan x="327.1" y="0.0" font-size="49.45">coef. (×10</tspan><tspan x="547.3" y="-25.0" font-size="34.62">−4</tspan><tspan x="588.1" y="0.0" font-size="50.70">)</tspan></text><clipPath id="clipc"><rect x="1512.5" y="713.5" width="534.0999999999999" height="514.6"/></clipPath><g clip-path="url(#clipc)"><polygon points="1512.5,1228.1 1512.5,1228.1 1517,1228.1 1521.5,1228.1 1526,1228.1 1530.5,1228.1 1534.9,1228.1 1539.4,1228.1 1543.9,1228.1 1548.4,1228.1 1552.9,1228.1 1557.4,1228.1 1561.9,1228.1 1566.4,1228.1 1570.8,1228.1 1575.3,1228.1 1579.8,1228.1 1584.3,1228 1588.8,1228 1593.3,1228 1597.8,1227.9 1602.3,1227.9 1606.8,1227.8 1611.2,1227.7 1615.7,1227.5 1620.2,1227.3 1624.7,1227.1 1629.2,1226.8 1633.7,1226.4 1638.2,1226 1642.7,1225.4 1647.1,1224.7 1651.6,1223.9 1656.1,1222.8 1660.6,1221.6 1665.1,1220.2 1669.6,1218.5 1674.1,1216.6 1678.6,1214.3 1683.1,1211.8 1687.5,1208.9 1692,1205.7 1696.5,1202.2 1701,1198.3 1705.5,1194.1 1710,1189.7 1714.5,1185 1719,1180.1 1723.4,1175.1 1727.9,1170 1732.4,1164.9 1736.9,1159.8 1741.4,1155 1745.9,1150.4 1750.4,1146.1 1754.9,1142.3 1759.4,1139 1763.8,1136.3 1768.3,1134.2 1772.8,1132.8 1777.3,1132.2 1781.8,1132.2 1786.3,1133.1 1790.8,1134.6 1795.3,1136.9 1799.7,1139.7 1804.2,1143.2 1808.7,1147.1 1813.2,1151.5 1817.7,1156.1 1822.2,1161 1826.7,1166.1 1831.2,1171.2 1835.7,1176.3 1840.1,1181.3 1844.6,1186.2 1849.1,1190.8 1853.6,1195.2 1858.1,1199.3 1862.6,1203.1 1867.1,1206.5 1871.6,1209.6 1876,1212.4 1880.5,1214.9 1885,1217.1 1889.5,1218.9 1894,1220.6 1898.5,1221.9 1903,1223.1 1907.5,1224.1 1912,1224.9 1916.4,1225.6 1920.9,1226.1 1925.4,1226.5 1929.9,1226.9 1934.4,1227.2 1938.9,1227.4 1943.4,1227.6 1947.9,1227.7 1952.3,1227.8 1956.8,1227.9 1961.3,1227.9 1965.8,1228 1970.3,1228 1974.8,1228 1979.3,1228.1 1983.8,1228.1 1988.3,1228.1 1992.7,1228.1 1997.2,1228.1 2001.7,1228.1 2006.2,1228.1 2010.7,1228.1 2015.2,1228.1 2019.7,1228.1 2024.2,1228.1 2028.6,1228.1 2033.1,1228.1 2037.6,1228.1 2042.1,1228.1 2046.6,1228.1 2046.6,1228.1" fill="#cccccc"/><polygon points="2046.6,713.5 2046.6,713.5 2046.6,717.8 2046.6,722.1 2046.6,726.5 2046.6,730.8 2046.6,735.1 2046.6,739.4 2046.6,743.8 2046.6,748.1 2046.6,752.4 2046.6,756.7 2046.6,761.1 2046.5,765.4 2046.5,769.7 2046.5,774 2046.5,778.4 2046.4,782.7 2046.4,787 2046.3,791.3 2046.2,795.7 2046.1,800 2045.9,804.3 2045.7,808.6 2045.4,813 2045.1,817.3 2044.7,821.6 2044.3,825.9 2043.7,830.3 2043,834.6 2042.2,838.9 2041.2,843.2 2040,847.6 2038.7,851.9 2037.1,856.2 2035.3,860.5 2033.3,864.9 2030.9,869.2 2028.3,873.5 2025.5,877.8 2022.3,882.2 2018.8,886.5 2015.1,890.8 2011,895.1 2006.8,899.4 2002.3,903.8 1997.6,908.1 1992.8,912.4 1987.9,916.7 1983.1,921.1 1978.2,925.4 1973.5,929.7 1968.9,934 1964.7,938.4 1960.7,942.7 1957.2,947 1954.2,951.3 1951.7,955.7 1949.7,960 1948.4,964.3 1947.7,968.6 1947.7,973 1948.3,977.3 1949.6,981.6 1951.5,985.9 1953.9,990.3 1956.9,994.6 1960.4,998.9 1964.3,1003.2 1968.5,1007.6 1973.1,1011.9 1977.8,1016.2 1982.6,1020.5 1987.5,1024.9 1992.4,1029.2 1997.2,1033.5 2001.9,1037.8 2006.4,1042.2 2010.7,1046.5 2014.7,1050.8 2018.5,1055.1 2022,1059.4 2025.2,1063.8 2028.1,1068.1 2030.7,1072.4 2033,1076.7 2035.1,1081.1 2036.9,1085.4 2038.5,1089.7 2039.9,1094 2041.1,1098.4 2042.1,1102.7 2042.9,1107 2043.6,1111.3 2044.2,1115.7 2044.7,1120 2045.1,1124.3 2045.4,1128.6 2045.7,1133 2045.9,1137.3 2046,1141.6 2046.2,1145.9 2046.3,1150.3 2046.4,1154.6 2046.4,1158.9 2046.5,1163.2 2046.5,1167.6 2046.5,1171.9 2046.5,1176.2 2046.6,1180.5 2046.6,1184.9 2046.6,1189.2 2046.6,1193.5 2046.6,1197.8 2046.6,1202.2 2046.6,1206.5 2046.6,1210.8 2046.6,1215.1 2046.6,1219.5 2046.6,1223.8 2046.6,1228.1 2046.6,1228.1" fill="#cccccc"/><polygon points="1871.3,1067.2 1869.9,1067.5 1869.2,1068.5 1869.2,1070.3 1866.5,1069.1 1864.3,1068.4 1860.7,1066.1 1859.1,1066 1855,1063.1 1852.5,1062 1848.6,1059.3 1847.2,1059.7 1843.7,1057.4 1840.6,1055.6 1835.4,1051 1831,1047.4 1826.5,1043.6 1821.8,1039.2 1818.3,1037 1815.4,1035.9 1811.6,1033.4 1806.7,1029 1801.8,1024.5 1796.5,1018.8 1791.7,1014.1 1787,1009.4 1782.3,1005.2 1777.5,1000.6 1772.5,996.6 1767.6,991.7 1762.6,986.7 1758.3,981.3 1753.1,976.4 1748.8,971.3 1744.4,966.2 1741.6,961.6 1736.6,956.5 1732.6,951.7 1729,947.2 1725,942.3 1719.3,936.6 1715.1,931.6 1711.6,926.9 1707,921.6 1703.5,916.9 1701.9,913.6 1698.7,909.1 1696.1,905.2 1693.6,901.3 1692,898 1688.7,893.5 1689.5,892.3 1687.3,888.7 1686.7,886.4 1685.6,883.7 1684.3,880.7 1684,878.8 1683.7,876.8 1685.3,876.7 1686.3,876 1688.5,876.7 1688.5,874.9 1692.5,877.5 1692.4,875.7 1695.8,877.8 1696.7,877 1699,877.9 1699.7,876.8 1703.2,879.1 1704.1,878.2 1706.6,879.2 1710.1,881.4 1713.8,884 1717.1,885.9 1721.5,889.5 1726.3,893.6 1729.6,895.6 1733.2,898 1738,902.2 1742.6,906.1 1746.7,909.1 1751.9,914.2 1756.8,919 1761.6,923.5 1765.9,926.7 1771,932.5 1775.7,936.6 1780.5,941.6 1785.3,946.2 1789.6,951.9 1794.2,956.4 1798.4,961.3 1802.8,966 1807.6,970.7 1812.3,975.6 1818,980.8 1823.4,986.2 1827.7,991.2 1831.8,996.2 1835.6,1001 1839.4,1005.8 1843.7,1010.9 1847.6,1015.8 1850.6,1020.2 1855.2,1025.6 1856.9,1029 1859.1,1032.7 1862.2,1037.1 1863.9,1040.3 1865,1043.1 1865.8,1045.5 1867.1,1048.4 1867.2,1050.2 1867.7,1052.3 1868.9,1055 1869.2,1057 1869.3,1058.7 1869.6,1060.6 1870,1062.6 1869.6,1063.8" fill="#a2a2a2" stroke="#a2a2a2" stroke-width="3" stroke-linejoin="round"/><path d="M1535 737 1579 755 1587 757 1979 1183 1616 785 1616 793 1619 799 1599 803 1611 816 1608 798 1822 1040 1738 948 1768 985 1875 1074 1774 947 1821 988 1841 1023 1794 1007 1832 1059 1711 893 1902 1103 1755 966 1739 951 1732 943 1850 1055 1785 958 1735 942 1848 1052 1706 910 1732 951 1729 907 1845 1018 1909 1112 1780 951 1865 1029 1828 1007 1854 1048 1935 1120 1784 996 1683 849 1703 897 1780 936 1807 1024 1667 833 1874 1064 1834 1043 1859 1073 1856 1029 1855 1034 1822 996 1677 875 1705 899 1734 910 1735 946 1828 1038 1784 954 1679 875 1690 873 1721 901 1867 1054 1742 952 1623 816 1893 1066 1851 1061 1769 985 1750 962 1870 1063 1664 873 1720 924 1843 1025 1642 825 1735 907 1861 1050 1852 1038 1721 901 1705 890 1852 1034 1706 891 1664 841 1731 899 1793 1011 1792 962 1764 928 1838 1054 1758 928 1734 947 1698 899 1807 973 1715 885 1654 833 1702 885 1848 1021 1854 1043 1738 906 1699 889 1867 1053 1716 925 1863 1035 1687 879 1854 1058 1769 938 1702 894 1792 965 1693 890 1836 1004 1818 994 1846 1048 1867 1055 1704 907 1836 1016 1677 854 1883 1085 1853 1050 1735 948 1765 937 1700 889 1834 1042 1743 956 1694 908 1824 1037 1862 1037 1796 1008 1683 879 1691 891 1699 888 1707 884 1780 953 1694 879 1685 892 1811 1022 1841 1047 1762 922 1827 1003 1737 910 1764 975 1857 1064 1901 1094 1845 1018 1702 910 1811 1021 1864 1035 1794 1007 1738 952 1883 1090 1711 892 1853 1065 1859 1073 1851 1030 1792 1003 1700 894 1693 894 1820 993 1822 994 1872 1091 1847 1048 1669 869 1804 978 1863 1052 1858 1064 1814 1024 1724 899 1746 955 1875 1060 1701 885 1650 838 1719 897 1783 953 1838 1018 1728 940 1714 890 1689 878 1848 1059 1818 1029 1696 893 1861 1066 1666 869 1674 867 1732 940 1727 941 1872 1082 1868 1048 1847 1057 1713 943 1824 1035 1760 973 1713 873 1697 893 1868 1047 1895 1089 1711 893 1764 977 1779 990 1867 1058 1767 938 1899 1090 1849 1030 1696 882 1819 1040 1891 1108 1674 873 1918 1128 1869 1071 1893 1092 1696 891 1672 833 1697 871 1831 1006 1862 1051 1854 1036 1803 1013 1675 900 1855 1053 1857 1050 1679 859 1757 967 1826 1004 1814 1030 1704 911 1696 897 1694 851 1730 900 1806 1039 1709 909 1692 899 1845 1022 1770 943 1867 1085 1871 1065 1696 889 1779 992 1895 1098 1724 892 1710 888 1821 1035 1842 1052 1661 849 1877 1066 1871 1050 1786 953 1722 886 1617 803 1663 854 1805 1016 1812 1030 1686 876 1856 1063 1674 865 1824 990 1800 1012 1847 1029 1700 915 1690 849 1785 956 1722 892 1686 878 1680 875 1842 1045 1867 1056 1712 896 1796 965 1857 1062 1708 876 1752 964 1686 871 1710 913 1866 1054 1760 980 1844 1013 1669 840 1910 1086 1702 880 1857 1054 1838 1044 1767 978 1709 915 1818 990 1866 1052 1813 986 1788 999 1710 894 1780 1003 1879 1057 1754 928 1807 1023 1720 898 1694 883 1835 1012 1798 971 1798 954 1753 928 1697 881 1735 893 1712 921 1874 1074 1840 1017 1835 1046 1695 909 1643 830 1885 1096 1896 1081 1804 1016 1821 1030 1681 867 1761 979 1681 859 1784 996 1656 857 1868 1056 1654 861 1739 911 1803 975 1848 1065 1817 992 1743 953 1723 895 1737 896 1694 896 1697 896 1678 861 1719 895 1796 955 1692 895 1852 1041 1662 855 1851 1069 1915 1093 1756 975 1738 952 1822 1036 1760 929 1854 1053 1801 963 1902 1101 1629 803 1703 897 1783 939 1670 865 1829 1039 1703 881 1724 902 1887 1071 1869 1067 1749 965 1668 854 1800 968 1703 909 1850 1049 1731 957 1683 870 1868 1067 1862 1062 1861 1036 1808 980 1861 1050 1849 1059 1810 975 1898 1095 1838 1018 1715 921 1807 1020 1827 1035 1695 882 1704 879 1863 1041 1866 1072 1928 1104 1756 969 1891 1079 1719 926 1736 908 1724 901 1716 887 1724 889 1793 958 1715 876 1875 1067 1816 1026 1848 1059 1872 1063 1812 974 1786 1009 1858 1065 1699 878 1751 921 1691 883 1705 902 1706 920 1716 929 1848 1032 1887 1098 1793 962 1887 1094 1825 1041 1837 1010 1808 979 1771 986 1879 1071 1720 936 1849 1050 1661 858 1680 897 1692 897 1729 904 1873 1088 1825 985 1709 936 1740 913 1714 929 1694 886 1703 895 1678 855 1694 900 1851 1040 1850 1054 1814 990 1784 1006 1894 1074 1908 1087 1878 1094 1819 1045 1749 920 1690 899 1665 856 1777 945 1674 876 1829 1008 1862 1050 1846 1024 1736 898 1860 1035 1893 1084 1808 977 1694 860 1770 942 1835 1049 1849 1027 1823 1000 1858 1078 1824 1032 1743 961 1799 1013 1800 1010 1696 888 1710 919 1721 926 1841 1047 1720 893 1717 898 1708 908 1714 935 1830 1050 1700 890 1695 892 1729 935 1775 996 1713 921 1737 908 1818 1028 1663 861 1725 930 1679 876 1837 1014 1801 1030 1713 888 1812 987 1898 1073 1759 972 1680 862 1708 888 1734 908 1738 945 1659 853 1794 968 1697 888 1807 1017 1696 852 1804 1018 1704 884 1682 876 1898 1070 1847 1056 1737 946 1815 982 1756 927 1695 874 1807 977 1868 1054 1826 998 1664 866 1690 848 1643 843 1846 1054 1675 872 1690 891 1675 878 1692 869 1728 938 1884 1083 1854 1051 1731 940 1819 1027 1804 1018 1688 888 1867 1056 1743 910 1789 1002 1728 897 1790 947 1711 875 1848 1018 1694 877 1685 878 1772 942 1817 990 1792 1006 1831 1009 1880 1056 1797 1013 1709 885 1781 942 1886 1074 1839 1044 1842 1011 1853 1057 1694 871 1733 943 1754 976 1871 1060 1824 1001 1857 1079 1852 1039 1824 991 1727 949 1797 969 1897 1094 1868 1080 1698 901 1796 965 1751 970 1689 883 1708 905 1745 915 1695 890 1765 981 1859 1055 1794 964 1816 984 1850 1051 1850 1058 1838 1018 1801 974 1651 845 1874 1075 1828 1006 1818 1032 1869 1065 1745 912 1881 1088 1871 1068 1864 1052 1697 897 1695 896 1712 919 1897 1082 1882 1057 1826 1035 1875 1093 1670 876 1873 1078 1855 1052 1639 805 1696 877 1876 1077 1680 860 1889 1087 1748 960 1775 985 1876 1061 1802 961 1748 960 1794 1008 1700 885 1827 1002 1814 987 1835 1054 1869 1051 1801 965 1703 902 1756 925 1743 952 1691 883 1685 878 1884 1079 1746 960 1757 970 1810 1019 1735 907 1874 1066 1791 963 1812 1028 1689 884 1844 1019 1777 948 1866 1050 1701 902 1746 918 1810 1020 1709 908 1845 1005 1716 890 1740 912 1873 1075 1826 1004 1878 1088 1899 1088 1810 980 1697 900 1712 916 1699 878 1785 995 1930 1106 1872 1074 1754 927 1813 969 1688 880 1676 852 1880 1064 1789 1009 1730 950 1675 846 1815 990 1680 850 1818 995 1779 946 1857 1048 1850 1049 1694 883 1844 1001 1781 995 1689 875 1734 910 1863 1053 1860 1045 1688 896 1821 996 1777 992 1843 1024 1657 854 1752 961 1672 882 1829 1039 1683 860 1705 899 1768 981 1756 966 1675 879 1785 938 1841 1052 1856 1063 1860 1044 1744 917 1863 1052 1851 1026 1803 974 1705 903 1836 1053 1808 1032 1815 984 1679 860 1701 890 1747 921 1698 882 1781 993 1754 965 1744 956 1701 891 1863 1049 1694 902 1818 991 1912 1103 1827 1048 1859 1044 1702 913 1763 979 1687 879 1715 915 1834 1003 1686 873 1682 869 1696 874 1703 879 1741 915 1838 997 1825 1002 1750 919 1883 1094 1773 987 1689 878 1837 1017 1786 1005 1777 942 1715 894 1828 999 1786 951 1887 1070 1827 1000 1774 932 1791 963 1685 858 1740 904 1703 899 1858 1038 1718 920 1780 942 1732 909 1842 1067 1672 871 1845 1028 1708 909 1783 942 1845 1021 1803 1019 1749 920 1813 985 1819 1034 1689 878 1703 891 1800 1013 1813 987 1822 1038 1767 978 1860 1057 1763 981 1690 880 1850 1055 1686 867 1699 873 1709 890 1833 1009 1857 1079 1670 825 1865 1051 1684 863 1841 1059 1871 1059 1782 993 1720 924 1750 960 1697 878 1706 878 1837 1053 1670 861 1877 1081 1876 1054 1702 887 1835 1047 1871 1053 1863 1058 1876 1054 1708 892 1858 1066 1864 1046 1848 1033 1717 889 1676 852 1866 1052 1784 1007 1834 1049 1876 1070 1689 885 1884 1075 1714 923 1741 905 1674 866 1762 976 1861 1043 1836 1012 1857 1052 1862 1068 1825 1033 1879 1074 1852 1036 1754 927 1835 1049 1906 1121 1833 1057 1698 891 1839 1020 1732 899 1767 980 1849 1076 1703 897 1725 901 1847 1029 1874 1070 1698 881 1818 1036 1701 890 1847 1049 1743 914 1854 1051 1860 1052 1853 1044 1680 855 1718 897 1866 1055 1802 1018 1697 877 1868 1055 1679 863 1706 897 1668 832 1772 946 1787 999 1699 918 1849 1063 1749 959 1703 876 1662 828 1630 807 1850 1026 1831 1010 1715 892 1738 906 1849 1029 1875 1059 1853 1030 1799 1009 1737 909 1861 1057 1875 1087 1675 866 1833 1013 1747 913 1853 1020 1858 1062 1835 1010 1702 911 1738 952 1814 986 1799 971 1727 899 1747 956 1791 953 1713 916 1734 947 1687 878 1803 1024 1677 856 1721 927 1825 1033 1732 948 1771 983 1853 1031 1722 925 1871 1059 1735 910 1852 1057 1705 897 1794 1004 1787 998 1729 906 1743 914 1818 1028 1854 1049 1662 855 1652 852 1824 1034 1843 1053 1863 1088 1867 1065 1700 890 1807 1021 1775 1003 1707 882 1849 1060 1751 924 1926 1116 1754 964 1799 1016 1705 883 1751 963 1773 989 1876 1095 1866 1062 1891 1094 1745 914 1882 1075 1851 1040 1797 968 1911 1102 1852 1042 1712 888 1858 1045 1752 918 1886 1099 1700 866 1784 954 1840 1009 1796 1015 1800 961 1773 983 1719 889 1726 895 1850 1037 1832 1043 1728 893 1875 1069 1775 994 1832 1039 1753 965 1829 1053 1737 945 1694 895 1733 948 1864 1053 1712 895 1704 903 1837 1047 1773 986 1846 1046 1901 1070 1759 969 1841 1059 1702 893 1831 987 1807 981 1868 1059 1853 1050 1791 963 1701 883 1831 1004 1703 900 1776 943 1679 873 1722 890 1735 909 1731 908 1686 886 1690 862 1759 932 1760 972 1848 1017 1845 1015 1750 971 1687 851 1800 969 1711 933 1857 1067 1628 812 1673 842 1901 1073 1782 950 1706 907 1667 880 1668 854 1878 1064 1762 931 1826 1036 1825 1037 1880 1083 1845 1051 1738 910 1751 923 1819 1031 1704 902 1769 982 1664 849 1815 985 1779 944 1807 977 1708 908 1861 1051 1883 1074 1723 897 1860 1061 1858 1046 1699 883 1880 1057 1855 1054 1857 1047 1692 884 1661 870 1878 1089 1744 954 1796 948 1682 847 1843 1008 1858 1030 1733 900 1735 911 1678 879 1764 929 1721 891 1708 908 1817 1031 1872 1068 1700 895 1805 976 1901 1101 1708 911 1727 940 1713 927 1732 951 1852 1059 1873 1065 1799 970 1718 896 1825 999 1841 1023 1765 983 1802 1023 1721 897 1747 921 1710 921 1872 1047 1759 977 1689 890 1869 1082 1844 1062 1688 868 1693 879 1688 862 1853 1061 1826 1035 1703 878 1775 989 1826 1033 1840 1011 1825 1032 1770 984 1730 939 1692 872 1690 892 1650 847 1763 924 1676 867 1880 1080 1845 1050 1801 974 1859 1036 1879 1076 1734 950 1846 1029 1792 1016 1701 911 1749 971 1854 1028 1664 842 1845 1007 1855 1035 1865 1063 1872 1081 1755 973 1877 1074 1637 844 1746 958 1844 1026 1700 885 1821 1037 1782 996 1726 898 1849 1029 1685 873 1863 1059 1763 926 1829 1037 1815 1025 1894 1091 1719 894 1747 959 1743 918 1766 976 1831 1006 1888 1062 1704 886 1808 1021 1854 1076 1881 1059 1786 957 1822 1030 1722 896 1869 1068 1772 995 1695 904 1726 941 1896 1093 1692 887 1786 957 1792 963 1650 846 1860 1039 1910 1098 1800 965 1735 910 1852 1011 1868 1064 1765 938 1698 886 1695 890 1843 1023 1687 873 1843 1050 1916 1108 1694 894 1840 1043 1716 918 1804 1022 1851 1050 1775 990 1724 899 1839 1018 1699 874 1799 1010 1757 923 1869 1074 1852 1032 1848 1056 1841 1010 1703 872 1885 1080 1856 1043 1700 889 1842 1048 1708 907 1862 1045 1711 894 1805 974 1732 942 1853 1048 1826 1004 1748 958 1745 962 1710 886 1741 949 1867 1054 1794 955 1879 1087 1856 1043 1866 1061 1711 888 1678 875 1868 1055 1860 1043 1746 954 1800 1016 1801 972 1816 979 1813 1026 1803 1017 1843 1025 1720 898 1681 899 1707 903 1750 911 1754 968 1856 1034 1870 1062 1864 1069 1779 948 1849 1017 1695 887 1789 960 1712 932 1702 909 1707 911 1863 1092 1830 994 1834 1047 1705 890 1899 1104 1695 890 1813 1021 1874 1090 1806 980 1698 898 1860 1043 1705 904 1839 1013 1803 978 1841 1046 1859 1047 1702 922 1823 1034 1704 898 1700 884 1843 1058 1727 885 1780 993 1814 1025 1701 897 1709 909 1863 1083 1874 1063 1859 1071 1813 1027 1818 1028 1866 1051 1765 983 1698 903 1707 904 1863 1058 1686 865 1724 898 1710 890 1832 1011 1853 1044 1775 949 1692 885 1856 1037 1866 1075 1719 893 1739 947 1827 1034 1704 890 1895 1075 1705 889 1781 997 1851 1041 1744 906 1735 908 1861 1041 1907 1100 1741 961 1890 1093 1702 901 1756 927 1694 887 1869 1069 1803 975 1874 1072 1676 866 1778 949 1763 973 1945 1120 1799 971 1871 1071 1797 1009 1698 884 1707 914 1855 1061 1836 1016 1858 1048 1853 1029 1848 1058 1692 882 1809 982 1699 885 1844 1059 1756 976 1781 1003 1684 874 1677 856 1762 975 1691 900 1841 1046 1853 1057 1794 1005 1704 900 1676 860 1675 883 1719 925 1743 910 1855 1029 1692 882 1764 931 1847 1055 1784 955 1848 1021 1810 965 1709 930 1828 1039 1812 1030 1705 904 1776 940 1871 1071 1707 879 1709 894 1818 1044 1878 1074 1836 1010 1880 1071 1856 1050 1666 873 1883 1083 1714 877 1690 881 1857 1055 1816 988 1684 880 1783 931 1811 1021 1831 1007 1712 891 1719 922 1809 974 1863 1049 1737 899 1861 1045 1654 836 1696 892 1754 971 1845 1016 1849 1048 1752 924 1797 1009 1819 987 1679 880 1703 902 1896 1100 1746 961 1801 1015 1834 1045 1707 873 1897 1113 1715 918 1899 1067 1791 961 1697 890 1823 999 1855 1058 1728 936 1865 1040 1703 895 1836 1042 1680 863 1694 900 1744 960 1844 1005 1676 862 1712 917 1801 974 1847 1048 1694 895 1755 927 1770 984 1853 1052 1684 876 1860 1057 1738 910 1874 1067 1843 1055 1844 1026 1736 945 1834 1009 1852 1055 1852 1034 1829 1039 1696 884 1780 995 1824 1048 1849 1035 1872 1079 1744 907 1741 916 1864 1058 1829 1000 1842 1024 1784 995 1869 1057 1749 966 1703 912 1803 1028 1825 989 1712 880 1725 941 1659 870 1836 1014 1876 1077 1834 1008 1869 1059 1894 1084 1708 892 1696 869 1678 873 1707 904 1748 917 1749 921 1820 1042 1721 901 1827 1005 1866 1044 1784 952 1825 1046 1715 919 1696 876 1727 936 1681 861 1874 1081 1705 884 1696 891 1710 910 1643 807 1805 980 1806 977 1698 894 1711 918 1698 877 1669 860 1879 1073 1854 1027 1756 967 1854 1051 1783 950 1773 984 1894 1101 1706 905 1840 1052 1843 1050 1807 980 1750 920 1868 1060 1797 1013 1872 1080 1942 1131 1723 891 1873 1082 1688 897 1822 1041 1863 1063 1868 1035 1766 929 1754 964 1741 910 1836 1052 1732 957 1833 1044 1796 1014 1842 1048 1849 1028 1738 959 1707 909 1847 1061 1822 1031 1687 888 1892 1064 1840 1016 1847 1049 1843 1010 1768 982 1708 907 1807 978 1683 887 1840 1021 1777 996 1746 920 1705 896 1864 1070 1725 898 1683 847 1678 882 1873 1045 1697 891 1735 942 1691 884 1863 1059 1803 977 1881 1063 1683 885 1811 981 1853 1063 1824 1037 1880 1079 1700 879 1861 1048 1706 901 1737 954 1878 1065 1647 843 1845 1054 1881 1069 1677 871 1870 1050 1686 879 1685 864 1888 1090 1865 1069 1760 976 1674 878 1678 874 1792 957 1732 905 1851 1037 1665 836 1705 908 1767 934 1816 981 1825 1038 1781 1009 1864 1066 1865 1069 1854 1029 1687 894 1884 1076 1845 1022 1719 893 1735 905 1689 868 1694 877 1737 956 1825 1035 1860 1059 1874 1072 1767 931 1792 1008 1833 1042 1689 896 1865 1064 1872 1065 1652 845 1841 1023 1784 942 1747 901 1845 1029 1857 1068 1765 976 1767 940 1863 1063 1804 1023 1801 975 1701 919 1732 900 1728 938 1873 1064 1679 848 1683 897 1684 876 1763 974 1860 1040 1801 1017 1817 992 1717 922 1680 882 1742 913 1846 1048 1850 1057 1798 968 1675 851 1848 1024 1773 944 1860 1075 1706 895 1707 891 1846 1053 1806 977 1885 1081 1743 909 1795 967 1690 914 1834 1040 1722 900 1723 933 1838 1055 1805 963 1840 1048 1834 1045 1852 1053 1866 1064 1692 894 1897 1114 1808 983 1664 846 1821 1033 1917 1129 1831 1010 1853 1058 1816 1026 1847 1052 1893 1086 1762 977 1741 915 1731 907 1743 917 1716 927 1912 1127 1887 1084 1799 972 1696 889 1841 1045 1689 885 1829 1053 1820 1031 1887 1064 1705 900 1806 979 1787 954 1752 922 1678 869 1773 985 1774 986 1774 942 1704 884 1768 939 1872 1051 1692 871 1849 1011 1907 1073 1819 1029 1791 961 1732 947 1882 1091 1719 888 1683 890 1831 1003 1875 1056 1736 902 1818 1034 1628 832 1773 939 1760 927 1704 909 1704 874 1684 857 1791 961 1733 941 1855 1055 1665 861 1794 964 1710 914 1643 822 1715 890 1778 952 1851 1059 1681 855 1759 987 1748 960 1695 879 1862 1036 1721 933 1757 929 1741 916 1847 1049 1857 1063 1882 1050 1801 1011 1871 1075 1868 1077 1840 1021 1818 994 1796 1008 1717 894 1682 893 1869 1046 1729 935 1821 997 1849 1034 1807 1019 1680 865 1709 889 1846 1023 1702 890 1697 890 1790 1007 1873 1062 1818 1028 1856 1065 1703 910 1777 948 1873 1066 1848 1025 1724 934 1812 1023 1716 896 1674 881 1755 929 1833 1040 1703 890 1897 1112 1830 1043 1770 981 1814 1036 1742 955 1839 1053 1947 1129 1828 1003 1773 943 1864 1067 1745 955 1840 1050 1861 1077 1870 1073 1704 906 1856 1058 1690 885 1819 1030 1737 946 1696 897 1858 1062 1678 876 1670 875 1847 1047 1860 1049 1850 1067 1866 1043 1862 1019 1721 929 1761 973 1673 887 1650 827 1695 890 1768 938 1832 1007 1852 1034 1885 1062 1723 898 1703 873 1696 890 1850 1034 1856 1042 1689 884 1776 943 1709 913 1702 907 1749 962 1726 901 1887 1099 1885 1071 1741 963 1824 998 1843 1055 1887 1064 1852 1035 1826 1003 1850 1051 1770 943 1679 874 1717 923 1884 1113 1665 860 1652 842 1849 1034 1902 1108 1890 1096 1836 1000 1859 1027 1701 892 1798 1010 1729 939 1807 1018 1869 1062 1701 893 1817 989 1727 932 1875 1080 1791 959 1805 973 1723 931 1726 943 1734 959 1693 896 1716 922 1696 878 1854 1044 1905 1102 1821 1030 1866 1070 1881 1061 1824 999 1739 947 1877 1088 1766 939 1805 972 1704 888 1824 1045 1839 1043 1740 909 1758 932 1908 1104 1860 1061 1875 1047 1756 981 1886 1097 1683 895 1720 923 1855 1044 1832 1000 1882 1057 1790 963 1719 938 1715 917 1832 1003 1817 1035 1842 1021 1852 1048 1738 909 1737 954 1914 1118 1720 900 1668 872 1841 1009 1852 1054 1721 925 1839 1018 1849 1034 1883 1051 1751 924 1736 943 1742 950 1843 1023 1804 1023 1828 1003 1754 928 1786 955 1825 1037 1815 1028 1797 969 1711 911 1779 947 1761 932 1860 1061 1683 864 1856 1053 1865 1061 1864 1057 1741 966 1821 997 1854 1014 1734 942 1860 1050 1691 876 1855 1040 1841 1023 1707 912 1827 999 1865 1060 1734 907 1874 1036 1733 947 1668 845 1805 1022 1838 1044 1860 1058 1708 890 1781 995 1696 874 1680 896 1912 1107 1866 1057 1779 950 1748 961 1678 866 1854 1046 1676 876 1776 949 1805 979 1862 1051 1737 908 1715 916 1844 1012 1837 1009 1696 889 1712 918 1703 897 1767 991 1810 982 1906 1093 1764 974 1855 1057 1850 1033 1640 815 1731 937 1767 979 1870 1071 1880 1076 1869 1087 1728 906 1741 916 1875 1055 1841 1066 1888 1099 1694 870 1733 940 1740 948 1900 1100 1804 974 1755 965 1790 964 1688 893 1760 982 1798 971 1734 941 1833 1010 1692 861 1867 1050 1722 899 1719 899 1746 963 1854 1032 1775 985 1853 1062 1703 884 1705 877 1887 1093 1732 958 1891 1060 1719 900 1667 838 1866 1047 1675 867 1835 1048 1713 892 1794 1005 1758 918 1698 895 1766 984 1730 906 1825 1039 1874 1068 1750 960 1719 923 1767 988 1716 889 1700 875 1831 1045 1714 927 1700 884 1918 1125 1809 985 1737 945 1679 866 1858 1026 1804 976 1745 910 1794 1024 1830 1006 1687 864 1851 1032 1840 1021 1767 934 1696 884 1876 1093 1821 1031 1809 1022 1848 1058 1873 1074 1687 878 1877 1064 1676 861 1799 970 1744 957 1742 950 1860 1064 1851 1023 1636 817 1806 978 1700 872 1894 1081 1855 1065 1721 929 1858 1041 1857 1046 1678 878 1797 1011 1710 916 1718 924 1767 988 1893 1086 1867 1073 1855 1050 1825 1003 1832 995 1745 959 1804 1014 1848 1031 1759 929 1846 1020 1739 907 1704 902 1839 1044 1771 991 1824 1035 1743 956 1791 964 1705 907 1705 899 1829 1003 1779 938 1912 1108 1764 991 1876 1081 1770 922 1875 1059 1870 1055 1806 1021 1686 862 1842 1013 1798 966 1851 1065 1786 958 1759 931 1691 893 1870 1056 1815 1024 1825 1003 1718 924 1741 914 1875 1069 1721 932 1826 1035 1888 1093 1740 955 1844 1026 1891 1091 1702 889 1705 902 1697 861 1789 959 1785 952 1813 981 1834 1040 1911 1105 1832 1007 1861 1064 1682 884 1705 886 1689 878 1883 1095 1867 1074 1830 1007 1736 910 1820 993 1757 967 1874 1079 1725 902 1692 867 1703 922 1776 942 1714 897 1696 890 1845 1027 1716 917 1763 934 1678 882 1857 1022 1846 1021 1861 1048 1713 886 1848 1026 1828 1003 1862 1069 1856 1063 1834 1040 1851 1049 1857 1038 1866 1052 1771 991 1744 903 1884 1077 1739 951 1781 936 1696 876 1851 1022 1815 987 1702 897 1840 1022 1825 990 1824 1043 1851 1025 1865 1056 1906 1096 1797 971 1797 1013 1699 890 1722 928 1712 924 1719 892 1642 820 1700 891 1715 927 1872 1058 1703 883 1691 882 1693 900 1850 1049 1710 874 1862 1043 1662 862 1833 1046 1792 1003 1877 1066 1749 917 1863 1051 1782 996 1829 1035 1854 1065 1764 935 1751 925 1856 1045 1862 1061 1662 845 1847 1052 1689 873 1713 916 1694 884 1729 900 1667 847 1774 992 1723 896 1749 917 1714 896 1757 929 1853 1060 1710 914 1856 1056 1849 1064 1700 896 1905 1101 1729 905 1810 1025 1868 1062 1749 958 1683 879 1707 909 1828 1038 1906 1097 1808 980 1654 838 1798 965 1880 1094 1730 943 1852 1047 1857 1061 1719 923 1797 1018 1698 884 1702 888 1719 926 1710 912 1679 860 1669 860 1646 818 1701 894 1903 1106 1699 864 1849 1055 1838 1000 1685 869 1753 963 1744 919 1830 1003 1820 974 1658 841 1906 1102 1759 975 1850 1014 1718 898 1680 884 1824 1043 1714 916 1740 916 1801 975 1835 1042 1774 990 1804 1021 1827 1051 1832 1047 1731 905 1759 976 1678 887 1676 869 1713 926 1691 876 1849 1027 1854 1054 1764 983 1889 1061 1701 890 1721 941 1642 815 1753 963 1883 1089 1678 881 1842 1058 1838 1050 1661 851 1653 831 1706 911 1866 1058 1691 858 1871 1080 1795 1011 1804 977 1776 947 1716 895 1706 881 1931 1142 1690 886 1847 1047 1709 912 1857 1072 1838 1043 1718 919 1888 1093 1694 879 1787 955 1859 1063 1706 892 1715 922 1763 973 1737 947 1815 1028 1817 1048 1731 903 1833 1010 1909 1111 1708 891 1708 877 1882 1070 1688 867 1837 1017 1759 930 1784 952 1841 1057 1653 856 1855 1033 1806 1025 1836 1006 1727 898 1697 874 1771 934 1853 1056 1674 876 1869 1072 1922 1106 1866 1083 1900 1122 1782 995 1757 917 1704 869 1694 850 1842 1005 1726 897 1668 858 1703 900 1796 970 1641 819 1857 1059 1815 1024 1881 1077 1768 931 1867 1054 1815 1024 1831 1038 1742 910 1723 899 1694 892 1698 895 1807 980 1821 996 1839 1020 1871 1070 1793 1018 1855 1032 1832 1000 1725 901 1699 903 1693 889 1766 934 1892 1092 1844 1015 1855 1060 1810 981 1688 843 1808 981 1807 1033 1877 1078 1674 863 1908 1113 1881 1074 1844 1068 1742 916 1863 1048 1819 1034 1713 925 1776 994 1703 905 1857 1039 1903 1095 1722 936 1764 979 1735 948 1827 1037 1724 941 1667 860 1853 1054 1907 1118 1727 933 1862 1070 1696 875 1870 1059 1811 1027 1697 868 1771 988 1874 1062 1750 919 1899 1084 1760 930 1834 1047 1808 1019 1692 869 1869 1082 1684 861 1756 921 1776 992 1896 1081 1779 952 1695 907 1776 987 1839 1007 1703 899 1771 1000 1839 1021 1760 931 1703 919 1777 941 1818 992 1864 1071 1908 1095 1820 1029 1807 979 1707 893 1892 1062 1816 1027 1855 1052 1778 947 1727 942 1869 1047 1751 971 1749 923 1744 958 1867 1066 1816 991 1811 1021 1711 893 1724 899 1698 890 1829 1005 1701 873 1818 983 1763 936 1662 863 1716 926 1891 1079 1735 943 1713 892 1823 1048 1799 970 1684 864 1736 912 1791 956 1716 934 1832 1010 1825 1032 1855 1029 1786 956 1722 928 1698 894 1846 1026 1812 979 1818 1027 1839 1013 1861 1053 1753 925 1733 954 1676 874 1789 1003 1733 903 1697 887 1754 924 1720 899 1694 915 1730 894 1727 933 1680 887 1866 1060 1786 956 1686 886 1635 831 1786 951 1844 1023 1905 1119 1750 969 1749 959 1830 1006 1763 927 1870 1071 1876 1065 1667 881 1884 1074 1701 878 1858 1035 1741 893 1820 1034 1876 1063 1717 930 1789 1003 1857 1063 1755 926 1738 950 1726 931 1896 1080 1781 1003 1878 1095 1927 1121 1782 994 1681 882 1923 1120 1740 963 1731 944 1755 973 1712 911 1896 1109 1665 860 1737 947 1656 834 1853 1043 1739 911 1711 894 1873 1074 1798 1010 1695 880 1830 1054 1808 1019 1839 1007 1858 1058 1853 1066 1690 884 1851 1029 1811 986 1837 1018 1828 1005 1823 1033 1868 1046 1881 1079 1739 949 1860 1062 1781 940 1842 1049 1781 992 1734 940 1723 902 1743 953 1834 1040 1683 878 1709 889 1682 870 1841 1046 1836 1015 1887 1085 1682 889 1644 825 1750 923 1835 1041 1750 967 1854 1026 1776 987 1867 1038 1718 896 1865 1062 1700 901 1731 939 1787 1004 1830 1007 1794 951 1857 1053 1741 950 1679 858 1857 1036 1808 973 1847 1055 1686 866 1718 886 1747 964 1812 980 1815 990 1892 1064 1705 889 1665 879 1850 1022 1790 1002 1698 894 1772 942 1708 885 1804 1015 1786 1002 1703 894 1705 887 1710 884 1764 924 1855 1033 1866 1057 1850 1025 1710 936 1759 929 1756 927 1735 906 1838 1016 1856 1063 1699 905 1939 1131 1763 979 1731 906 1772 929 1703 916 1708 894 1738 949 1647 839 1716 927 1868 1072 1681 845 1844 1025 1722 926 1766 927 1706 908 1886 1083 1874 1069 1848 1058 1702 895 1731 939 1648 823 1714 919 1684 878 1848 1052 1853 1028 1677 864 1828 1035 1842 1047 1792 1003 1762 973 1765 983 1865 1066 1725 936 1823 1031 1848 1067 1767 985 1697 890 1806 1016 1833 1043 1885 1081 1829 995 1768 931 1715 891 1802 975 1709 876 1703 897 1823 989 1800 1013 1855 1042 1701 894 1673 866 1700 877 1799 970 1711 889 1807 970 1894 1083 1837 1043 1836 994 1825 998 1716 921 1713 917 1690 890 1887 1087 1860 1037 1709 907 1866 1055 1829 1037 1691 870 1830 996 1852 1047 1794 966 1806 979 1909 1104 1738 913 1863 1048 1775 937 1701 884 1737 950 1786 957 1675 888 1655 866 1749 981 1687 863 1786 999 1891 1088 1735 906 1653 835 1765 984 1815 985 1698 903 1877 1075 1748 971 1668 856 1848 1019 1788 959 1735 910 1854 1043 1687 868 1742 912 1694 881 1690 881 1783 954 1707 909 1849 1008 1764 931 1734 951 1672 873 1812 979 1827 1003 1833 1000 1858 1062 1759 928 1924 1118 1683 883 1864 1064 1668 869 1850 1050 1833 1003 1794 1005 1805 958 1726 937 1782 952 1779 952 1695 881 1712 888 1774 943 1873 1052 1676 858 1725 899 1734 906 1753 970 1877 1068 1696 894 1742 957 1704 893 1693 861 1733 953 1701 894 1761 933 1701 909 1753 964 1858 1039 1671 851 1746 919 1698 882 1700 886 1650 839 1756 928 1811 1023 1757 973 1912 1095 1736 908 1818 982 1833 1052 1903 1112 1808 977 1789 959 1843 1019 1698 893 1850 1025 1762 978 1863 1065 1857 1037 1836 1052 1653 834 1736 950 1726 904 1846 1026 1673 850 1917 1106 1777 940 1675 859 1649 823 1703 893 1878 1066 1702 891 1859 1042 1849 1050 1819 989 1651 837 1859 1050 1709 919 1884 1059 1835 1041 1772 942 1804 966 1795 967 1725 897 1610 803 1867 1072 1833 1042 1695 886 1833 1012 1758 922 1884 1081 1857 1061 1665 857 1850 1026 1883 1073 1862 1062 1662 848 1835 1012 1818 1028 1766 938 1854 1047 1695 882 1866 1061 1690 891 1890 1107 1814 984 1915 1102 1820 995 1806 1018 1681 883 1823 1033 1838 1009 1708 893 1805 1016 1754 925 1706 906 1766 978 1704 904 1710 914 1910 1120 1778 995 1707 890 1870 1035 1750 924 1894 1093 1815 1036 1662 871 1705 877 1823 995 1920 1108 1676 866 1845 1029 1705 885 1854 1042 1818 994 1747 971 1876 1066 1863 1070 1716 894 1705 896 1769 994 1775 992 1735 956 1853 1063 1730 893 1873 1079 1855 1060 1757 969 1738 957 1744 919 1880 1058 1856 1046 1732 902 1690 886 1811 1025 1894 1084 1819 1043 1808 1021 1707 919 1753 927 1654 837 1709 890 1837 1049 1772 945 1781 948 1687 890 1796 960 1823 1031 1729 907 1760 933 1705 888 1653 870 1701 900 1730 941 1861 1061 1749 970 1886 1078 1701 887 1772 936 1743 915 1885 1090 1816 989 1841 1009 1853 1058 1682 881 1706 901 1877 1083 1857 1069 1847 1033 1710 892 1745 918 1777 989 1698 890 1786 944 1825 1038 1841 1054 1767 939 1780 991 1724 932 1800 1013 1650 819 1712 912 1837 1009 1868 1052 1860 1048 1792 960 1772 983 1771 988 1707 875 1699 898 1755 926 1667 844 1847 1053 1824 998 1696 885 1815 985 1693 887 1767 933 1698 884 1749 959 1823 992 1801 1012 1708 874 1857 1041 1913 1098 1758 974 1693 880 1865 1080 1692 882 1858 1046 1698 886 1736 943 1736 969 1694 884 1841 1008 1886 1101 1781 996 1701 908 1842 1017 1708 890 1705 905 1784 957 1850 1015 1743 960 1841 1018 1781 954 1648 840 1723 895 1717 921 1655 837 1721 929 1788 958 1724 936 1857 1041 1818 994 1673 878 1858 1060 1876 1088 1686 882 1797 970 1826 997 1735 958 1888 1063 1865 1046 1816 980 1738 948 1886 1073 1883 1085 1833 1043 1707 892 1700 890 1851 1037 1698 870 1834 1012 1720 930 1847 1031 1853 1051 1698 888 1818 1030 1815 990 1776 987 1865 1060 1679 865 1723 898 1735 911 1716 923 1731 949 1721 932 1702 871 1894 1074 1876 1045 1661 851 1670 872 1720 928 1847 1048 1868 1054 1701 895 1733 940 1857 1062 1695 886 1732 895 1691 871 1856 1053 1862 1045 1732 897 1838 998 1789 1002 1809 1027 1684 862 1853 1039 1781 993 1892 1097 1882 1077 1835 1008 1863 1043 1732 939 1846 1029 1858 1051 1730 946 1725 931 1836 1042 1832 999 1817 1026 1711 910 1724 929 1803 1019 1814 1027 1781 992 1869 1047 1772 988 1867 1064 1728 894 1821 993 1793 965 1825 983 1881 1062 1706 890 1811 986 1852 1046 1786 997 1875 1053 1705 901 1850 1029 1856 1043 1783 1006 1736 947 1883 1078 1792 965 1844 1048 1779 952 1850 1049 1848 1027 1731 961 1712 892 1724 931 1705 912 1773 941 1790 960 1791 962 1872 1052 1664 851 1838 1046 1692 883 1911 1106 1686 880 1835 1013 1897 1085 1789 950 1844 1051 1696 871 1846 1026 1820 1031 1789 951 1905 1095 1851 1032 1715 933 1741 965 1892 1081 1829 1039 1790 1014 1777 995 1689 870 1726 935 1702 908 1753 969 1829 1046 1709 885 1775 945 1810 978 1828 1005 1853 1045 1739 950 1876 1070 1891 1073 1765 938 1730 939 1712 920 1859 1045 1792 962 1707 893 1786 1002 1704 881 1855 1067 1697 876 1728 904 1798 965 1764 980 1817 993 1829 1005 1810 1022 1696 885 1759 923 1728 935 1686 866 1708 905 1811 1021 1761 975 1925 1111 1927 1137 1845 1051 1860 1052 1688 890 1783 952 1834 1053 1864 1055 1687 883 1847 1057 1856 1068 1879 1069 1716 926 1749 907 1683 853 1789 1004 1705 866 1694 879 1717 924 1771 985 1786 959 1851 1038 1792 957 1824 1038 1839 1048 1857 1053 1851 1040 1862 1067 1837 1043 1666 875 1672 852 1873 1073 1890 1086 1854 1056 1766 937 1882 1074 1677 845 1819 995 1727 896 1757 925 1870 1064 1911 1121 1719 935 1826 998 1860 1047 1722 927 1875 1091 1764 936 1735 907 1760 930 1679 868 1868 1064 1849 1017 1907 1100 1878 1085 1875 1046 1690 888 1843 1047 1777 941 1862 1070 1907 1110 1737 902 1715 895 1695 889 1707 903 1881 1083 1717 936 1896 1084 1781 953 1854 1032 1713 885 1689 863 1719 899 1857 1065 1850 1030 1716 892 1858 1044 1658 841 1788 961 1693 869 1790 1001 1702 880 1689 878 1806 980 1691 877 1769 936 1785 959 1713 913 1696 892 1864 1057 1867 1056 1824 1034 1697 889 1882 1089 1742 954 1811 1021 1680 884 1807 974 1879 1068 1699 896 1735 894 1714 890 1797 969 1737 899 1866 1049 1701 902 1857 1066 1839 1059 1736 946 1809 980 1689 903 1746 912 1867 1049 1861 1062 1762 984 1852 1038 1717 925 1800 1014 1708 887 1871 1074 1812 1021 1847 1028 1667 856 1881 1071 1871 1036 1695 897 1754 918 1726 939 1696 896 1697 902 1825 1041 1681 859 1673 858 1937 1120 1844 1026 1781 1006 1688 892 1710 915 1832 1003 1711 914 1756 923 1821 994 1782 937 1705 908 1675 860 1685 889 1707 895 1683 891 1805 968 1673 872 1702 900 1656 850 1859 1041 1733 908 1681 864 1839 1056 1676 871 1841 1050 1672 863 1850 1048 1688 862 1791 1011 1711 891 1725 902 1857 1034 1646 838 1704 890 1869 1057 1688 843 1857 1054 1724 931 1697 892 1839 1006 1724 897 1827 1004 1688 892 1682 878 1720 897 1685 867 1863 1068 1876 1063 1864 1075 1751 913 1824 1032 1850 1048 1760 924 1855 1041 1692 879 1743 955 1846 999 1884 1077 1706 889 1681 851 1695 896 1765 978 1780 950 1850 1048 1727 935 1817 1027 1852 1058 1735 944 1843 1067 1863 1061 1762 934 1906 1079 1671 853 1624 809 1710 885 1738 913 1688 891 1847 1027 1874 1059 1787 1002 1834 1049 1714 895 1690 882 1833 1012 1809 1024 1682 875 1776 948 1868 1067 1868 1049 1858 1062 1848 1025 1701 887 1777 941 1814 1040 1660 852 1867 1048 1750 917 1689 863 1796 966 1684 870 1896 1084 1851 1034 1863 1043" fill="none" stroke="none" marker-start="url(#ring)" marker-mid="url(#ring)" marker-end="url(#ring)"/><g fill="none" stroke="#8aaccd" stroke-width="4.8"><ellipse cx="1779" cy="971" rx="150.6" ry="27" transform="rotate(46.20 1779 971)"/><ellipse cx="1779" cy="971" rx="134.7" ry="24.2" transform="rotate(46.20 1779 971)"/><ellipse cx="1779" cy="971" rx="120.9" ry="21.7" transform="rotate(46.20 1779 971)"/><ellipse cx="1779" cy="971" rx="108.6" ry="19.5" transform="rotate(46.20 1779 971)"/><ellipse cx="1779" cy="971" rx="97" ry="17.4" transform="rotate(46.20 1779 971)"/><ellipse cx="1779" cy="971" rx="86.2" ry="15.5" transform="rotate(46.20 1779 971)"/><ellipse cx="1779" cy="971" rx="75.3" ry="13.5" transform="rotate(46.20 1779 971)"/><ellipse cx="1779" cy="971" rx="64.4" ry="11.6" transform="rotate(46.20 1779 971)"/><ellipse cx="1779" cy="971" rx="52.9" ry="9.5" transform="rotate(46.20 1779 971)"/><ellipse cx="1779" cy="971" rx="40.5" ry="7.3" transform="rotate(46.20 1779 971)"/><ellipse cx="1779" cy="971" rx="26.1" ry="4.7" transform="rotate(46.20 1779 971)"/></g><g fill="none" stroke="#3a6a9a" stroke-width="3.3"><ellipse cx="1779" cy="971" rx="150.6" ry="27" transform="rotate(46.20 1779 971)"/><ellipse cx="1779" cy="971" rx="134.7" ry="24.2" transform="rotate(46.20 1779 971)"/><ellipse cx="1779" cy="971" rx="120.9" ry="21.7" transform="rotate(46.20 1779 971)"/><ellipse cx="1779" cy="971" rx="108.6" ry="19.5" transform="rotate(46.20 1779 971)"/><ellipse cx="1779" cy="971" rx="97" ry="17.4" transform="rotate(46.20 1779 971)"/><ellipse cx="1779" cy="971" rx="86.2" ry="15.5" transform="rotate(46.20 1779 971)"/><ellipse cx="1779" cy="971" rx="75.3" ry="13.5" transform="rotate(46.20 1779 971)"/><ellipse cx="1779" cy="971" rx="64.4" ry="11.6" transform="rotate(46.20 1779 971)"/><ellipse cx="1779" cy="971" rx="52.9" ry="9.5" transform="rotate(46.20 1779 971)"/><ellipse cx="1779" cy="971" rx="40.5" ry="7.3" transform="rotate(46.20 1779 971)"/><ellipse cx="1779" cy="971" rx="26.1" ry="4.7" transform="rotate(46.20 1779 971)"/></g></g><line x1="1512.5" y1="971" x2="2046.6" y2="971" stroke="#000" stroke-width="2.8" stroke-dasharray="10 10.6" stroke-dashoffset="-1"/><line x1="1779.5" y1="721" x2="1779.5" y2="753.5" stroke="#000" stroke-width="2.8" stroke-linecap="round"/><line x1="1779.5" y1="763.1" x2="1779.5" y2="1228.1" stroke="#000" stroke-width="2.8" stroke-dasharray="10 10.6" stroke-linecap="round"/><circle cx="1697.2" cy="964.7" r="15" fill="none" stroke="#b8860b" stroke-width="4"/><path d="M1690.2,957.7L1704.2,971.7M1704.2,957.7L1690.2,971.7" stroke="#b8860b" stroke-width="4"/><rect x="1512.5" y="713.5" width="534.1" height="514.6" fill="none" stroke="#000" stroke-width="2.6"/><line x1="1610.9" y1="1228.1" x2="1610.9" y2="1245.4" stroke="#000" stroke-width="2.6"/><text x="1610.9" y="1288.1" font-size="52.5" text-anchor="middle" font-weight="normal" fill="#000" >-3</text><line x1="1695.2" y1="1228.1" x2="1695.2" y2="1245.4" stroke="#000" stroke-width="2.6"/><line x1="1779.5" y1="1228.1" x2="1779.5" y2="1245.4" stroke="#000" stroke-width="2.6"/><text x="1779.5" y="1288.1" font-size="52.5" text-anchor="middle" font-weight="normal" fill="#000" >0</text><line x1="1863.8" y1="1228.1" x2="1863.8" y2="1245.4" stroke="#000" stroke-width="2.6"/><line x1="1948.1" y1="1228.1" x2="1948.1" y2="1245.4" stroke="#000" stroke-width="2.6"/><text x="1948.1" y="1288.1" font-size="52.5" text-anchor="middle" font-weight="normal" fill="#000" >3</text><line x1="1495.1" y1="837.4" x2="1512.5" y2="837.4" stroke="#000" stroke-width="2.6"/><text x="1480.8" y="856.4" font-size="52.5" text-anchor="end" font-weight="normal" fill="#000" >6</text><line x1="1495.1" y1="904.2" x2="1512.5" y2="904.2" stroke="#000" stroke-width="2.6"/><text x="1480.8" y="923.2" font-size="52.5" text-anchor="end" font-weight="normal" fill="#000" >3</text><line x1="1495.1" y1="971" x2="1512.5" y2="971" stroke="#000" stroke-width="2.6"/><text x="1480.8" y="990" font-size="52.5" text-anchor="end" font-weight="normal" fill="#000" >0</text><line x1="1495.1" y1="1037.8" x2="1512.5" y2="1037.8" stroke="#000" stroke-width="2.6"/><text x="1480.8" y="1056.8" font-size="52.5" text-anchor="end" font-weight="normal" fill="#000" >-3</text><line x1="1495.1" y1="1104.6" x2="1512.5" y2="1104.6" stroke="#000" stroke-width="2.6"/><text x="1480.8" y="1123.6" font-size="52.5" text-anchor="end" font-weight="normal" fill="#000" >-6</text><text x="1780" y="745.8" font-size="33.3" text-anchor="middle" font-weight="normal" fill="#000" >Reshuffled countries</text><text x="1534.8" y="789.8" font-size="83" text-anchor="start" font-weight="bold" fill="#000" >c</text><text x="1492.9" y="1342.4" font-size="50.05">Temperature coef. (×10</text><text x="2010.4" y="1317.2" font-size="34.81">−2</text><text x="2051.5" y="1342.4" font-size="50.00">)</text><text transform="translate(1397.9,1278.5) rotate(-90)" xml:space="preserve"><tspan x="11.4" y="0.0" font-size="50.74">Temperature</tspan><tspan x="294.9" y="-25.0" font-size="35.50">2</tspan><tspan x="327.1" y="0.0" font-size="49.45">coef. (×10</tspan><tspan x="547.3" y="-25.0" font-size="34.62">−4</tspan><tspan x="588.1" y="0.0" font-size="50.70">)</tspan></text><clipPath id="clipe"><rect x="1512.5" y="1392" width="534.0999999999999" height="514.6"/></clipPath><g clip-path="url(#clipe)"><polygon points="1512.5,1906.6 1512.5,1906.6 1517,1906.6 1521.5,1906.6 1526,1906.6 1530.5,1906.6 1534.9,1906.6 1539.4,1906.6 1543.9,1906.6 1548.4,1906.6 1552.9,1906.6 1557.4,1906.6 1561.9,1906.5 1566.4,1906.5 1570.8,1906.5 1575.3,1906.4 1579.8,1906.4 1584.3,1906.3 1588.8,1906.2 1593.3,1906.1 1597.8,1906 1602.3,1905.8 1606.8,1905.6 1611.2,1905.3 1615.7,1905 1620.2,1904.6 1624.7,1904.1 1629.2,1903.5 1633.7,1902.8 1638.2,1902 1642.7,1901 1647.1,1899.9 1651.6,1898.6 1656.1,1897.1 1660.6,1895.3 1665.1,1893.3 1669.6,1891.1 1674.1,1888.6 1678.6,1885.9 1683.1,1882.9 1687.5,1879.6 1692,1876.1 1696.5,1872.3 1701,1868.3 1705.5,1864 1710,1859.6 1714.5,1855.1 1719,1850.5 1723.4,1845.9 1727.9,1841.3 1732.4,1836.8 1736.9,1832.5 1741.4,1828.4 1745.9,1824.6 1750.4,1821.1 1754.9,1818.1 1759.4,1815.5 1763.8,1813.4 1768.3,1811.9 1772.8,1810.9 1777.3,1810.6 1781.8,1810.9 1786.3,1811.7 1790.8,1813.2 1795.3,1815.2 1799.7,1817.7 1804.2,1820.7 1808.7,1824.1 1813.2,1827.9 1817.7,1831.9 1822.2,1836.3 1826.7,1840.7 1831.2,1845.3 1835.7,1849.9 1840.1,1854.5 1844.6,1859.1 1849.1,1863.5 1853.6,1867.7 1858.1,1871.8 1862.6,1875.6 1867.1,1879.2 1871.6,1882.5 1876,1885.5 1880.5,1888.3 1885,1890.8 1889.5,1893.1 1894,1895.1 1898.5,1896.8 1903,1898.4 1907.5,1899.7 1912,1900.9 1916.4,1901.9 1920.9,1902.7 1925.4,1903.5 1929.9,1904.1 1934.4,1904.5 1938.9,1905 1943.4,1905.3 1947.9,1905.6 1952.3,1905.8 1956.8,1906 1961.3,1906.1 1965.8,1906.2 1970.3,1906.3 1974.8,1906.4 1979.3,1906.4 1983.8,1906.5 1988.3,1906.5 1992.7,1906.5 1997.2,1906.5 2001.7,1906.6 2006.2,1906.6 2010.7,1906.6 2015.2,1906.6 2019.7,1906.6 2024.2,1906.6 2028.6,1906.6 2033.1,1906.6 2037.6,1906.6 2042.1,1906.6 2046.6,1906.6 2046.6,1906.6" fill="#cccccc"/><polygon points="2046.6,1392 2046.6,1392 2046.6,1396.3 2046.6,1400.6 2046.6,1405 2046.6,1409.3 2046.6,1413.6 2046.6,1417.9 2046.6,1422.3 2046.6,1426.6 2046.6,1430.9 2046.6,1435.2 2046.5,1439.6 2046.5,1443.9 2046.5,1448.2 2046.4,1452.5 2046.4,1456.9 2046.3,1461.2 2046.3,1465.5 2046.2,1469.8 2046,1474.2 2045.9,1478.5 2045.7,1482.8 2045.4,1487.1 2045.1,1491.5 2044.7,1495.8 2044.3,1500.1 2043.7,1504.4 2043.1,1508.8 2042.3,1513.1 2041.4,1517.4 2040.3,1521.7 2039,1526.1 2037.6,1530.4 2035.9,1534.7 2034,1539 2031.9,1543.4 2029.5,1547.7 2026.8,1552 2023.9,1556.3 2020.7,1560.7 2017.2,1565 2013.5,1569.3 2009.5,1573.6 2005.3,1577.9 2000.9,1582.3 1996.4,1586.6 1991.8,1590.9 1987.1,1595.2 1982.3,1599.6 1977.7,1603.9 1973.1,1608.2 1968.8,1612.5 1964.7,1616.9 1960.9,1621.2 1957.5,1625.5 1954.5,1629.8 1952,1634.2 1950,1638.5 1948.6,1642.8 1947.8,1647.1 1947.6,1651.5 1948,1655.8 1949,1660.1 1950.6,1664.4 1952.8,1668.8 1955.5,1673.1 1958.6,1677.4 1962.2,1681.7 1966.1,1686.1 1970.3,1690.4 1974.7,1694.7 1979.3,1699 1984,1703.4 1988.7,1707.7 1993.4,1712 1998,1716.3 2002.5,1720.7 2006.8,1725 2011,1729.3 2014.8,1733.6 2018.5,1737.9 2021.9,1742.3 2025,1746.6 2027.8,1750.9 2030.4,1755.2 2032.6,1759.6 2034.7,1763.9 2036.5,1768.2 2038.1,1772.5 2039.5,1776.9 2040.7,1781.2 2041.7,1785.5 2042.6,1789.8 2043.3,1794.2 2043.9,1798.5 2044.4,1802.8 2044.9,1807.1 2045.2,1811.5 2045.5,1815.8 2045.7,1820.1 2045.9,1824.4 2046.1,1828.8 2046.2,1833.1 2046.3,1837.4 2046.4,1841.7 2046.4,1846.1 2046.5,1850.4 2046.5,1854.7 2046.5,1859 2046.5,1863.4 2046.6,1867.7 2046.6,1872 2046.6,1876.3 2046.6,1880.7 2046.6,1885 2046.6,1889.3 2046.6,1893.6 2046.6,1898 2046.6,1902.3 2046.6,1906.6 2046.6,1906.6" fill="#cccccc"/><polygon points="1880.2,1750.1 1876.4,1748.9 1874.2,1749.2 1873.1,1750.5 1872.6,1752.7 1871.8,1754.6 1869.1,1754.3 1865.8,1753.5 1861.9,1751.9 1857,1749 1852.7,1746.8 1849.4,1745.8 1844.9,1743.3 1840.3,1740.7 1836.4,1739 1832.6,1737.4 1827.2,1733.4 1823.8,1732.7 1819.5,1730.8 1814,1726.8 1807.8,1720.8 1803.1,1718.5 1797.4,1713.4 1791.8,1708.2 1786.4,1704.1 1781.1,1700.5 1775.6,1695.1 1770.1,1690.3 1764.6,1685.6 1759.2,1680.4 1753.8,1675.2 1748.2,1670.2 1743.6,1664.6 1738,1659.5 1732.4,1654.2 1728.4,1648.8 1724.2,1643.6 1719,1638.2 1715.1,1633.1 1710.8,1627.9 1706.2,1622.6 1700.7,1616.8 1696.8,1611.7 1694.1,1607.1 1692.1,1603 1686,1596.6 1683.6,1592.2 1680.8,1587.6 1678.4,1583.3 1673.9,1577.5 1674.3,1575.1 1675.6,1573.5 1675.4,1570.9 1673.8,1567.2 1673.7,1564.7 1672.3,1561 1670.8,1557.3 1671,1555 1673.2,1554.5 1676,1554.7 1678.3,1554.4 1680.9,1554.6 1682.5,1553.8 1683.7,1552.5 1685.6,1551.9 1687.8,1551.7 1689.4,1550.7 1690.3,1548.9 1693.4,1549.6 1696,1549.6 1700,1551.4 1703.9,1553.1 1709.1,1556.4 1713.7,1559 1719.3,1563.3 1723.7,1565.8 1727.6,1567.3 1732.2,1570 1736.5,1572 1741.2,1574.7 1747,1579.7 1752.9,1585.3 1758.1,1588.9 1763.6,1593.8 1768.7,1597.1 1774.1,1601.2 1779.7,1605.2 1785.2,1610.5 1790.7,1615.6 1795.7,1621.5 1800.9,1626.6 1806,1631.8 1811.2,1636.9 1817.1,1641.9 1821.8,1647.3 1827.7,1652.6 1832.4,1658 1836.7,1663.3 1840,1668.3 1845.9,1674 1848.5,1678.6 1852.6,1683.8 1857.2,1689.2 1860.2,1693.8 1863.9,1698.8 1866.8,1703.4 1868,1706.9 1870.1,1711 1873.9,1716.1 1874.3,1719 1877.3,1723.7 1879.8,1728.1 1878.7,1729.7 1880.7,1733.7 1881.5,1736.8 1879.9,1737.8 1882.1,1742.1 1884.2,1746.4 1881.3,1746.3 1880,1747.5" fill="#a2a2a2" stroke="#a2a2a2" stroke-width="3" stroke-linejoin="round"/><path d="M1599 1442 1613 1457 2020 1878 1985 1857 1942 1835 1909 1830 1595 1470 1605 1480 1692 1581 1754 1597 1886 1745 1708 1563 1844 1738 1682 1559 1863 1715 1635 1502 1629 1482 1668 1527 1791 1690 1672 1566 1697 1586 1799 1698 1835 1657 1882 1778 1721 1633 1852 1709 1779 1617 1888 1763 1805 1704 1846 1738 1701 1570 1717 1642 1776 1678 1643 1525 1712 1619 1688 1565 1822 1741 1797 1624 1686 1560 1644 1535 1882 1762 1846 1738 1794 1637 1698 1572 1795 1633 1842 1678 1796 1698 1788 1693 1724 1629 1677 1585 1784 1688 1822 1719 1804 1635 1904 1756 1658 1527 1770 1688 1816 1661 1794 1621 1681 1548 1770 1676 1800 1698 1700 1552 1854 1692 1735 1576 1706 1569 1763 1599 1707 1565 1934 1801 1675 1531 1800 1629 1701 1591 1792 1702 1695 1567 1850 1673 1860 1756 1876 1761 1714 1576 1885 1749 1720 1622 1832 1723 1710 1563 1689 1575 1877 1778 1836 1728 1784 1623 1877 1731 1825 1659 1885 1750 1743 1653 1854 1738 1912 1776 1696 1585 1804 1636 1803 1637 1889 1774 1712 1555 1808 1653 1890 1725 1788 1693 1865 1712 1814 1656 1692 1571 1879 1756 1871 1744 1723 1575 1727 1636 1819 1639 1750 1679 1702 1565 1760 1593 1788 1620 1680 1584 1783 1623 1800 1710 1721 1636 1804 1713 1666 1547 1893 1779 1866 1737 1651 1555 1689 1587 1705 1558 1781 1685 1709 1616 1858 1719 1812 1721 1702 1604 1631 1519 1648 1525 1763 1683 1735 1564 1866 1723 1664 1548 1727 1647 1855 1708 1808 1645 1676 1561 1672 1557 1850 1732 1846 1730 1840 1726 1791 1697 1705 1567 1932 1774 1691 1554 1678 1550 1847 1738 1780 1615 1692 1580 1827 1670 1790 1635 1872 1714 1748 1658 1703 1596 1730 1629 1863 1702 1688 1547 1886 1734 1669 1551 1871 1723 1700 1633 1832 1678 1863 1753 1885 1774 1658 1537 1849 1733 1876 1748 1760 1663 1723 1621 1861 1747 1692 1549 1849 1700 1650 1531 1695 1590 1820 1721 1788 1702 1873 1739 1833 1734 1864 1717 1793 1694 1721 1636 1655 1562 1915 1790 1793 1624 1834 1736 1847 1694 1834 1730 1680 1566 1886 1748 1800 1632 1879 1736 1899 1796 1737 1582 1846 1736 1650 1535 1691 1593 1821 1665 1871 1727 1787 1629 1712 1614 1921 1782 1818 1714 1701 1591 1858 1737 1837 1680 1672 1563 1863 1751 1853 1748 1867 1701 1754 1667 1757 1603 1699 1560 1853 1696 1756 1660 1866 1715 1887 1738 1855 1710 1883 1736 1783 1708 1810 1716 1802 1704 1853 1707 1747 1586 1888 1760 1816 1662 1694 1574 1800 1714 1710 1609 1848 1696 1777 1598 1854 1736 1734 1585 1703 1546 1805 1725 1898 1750 1696 1555 1683 1596 1805 1649 1886 1736 1858 1713 1734 1588 1701 1598 1810 1649 1666 1549 1678 1570 1877 1743 1878 1755 1873 1754 1761 1608 1843 1693 1734 1650 1874 1773 1669 1561 1783 1689 1684 1577 1840 1726 1786 1689 1728 1581 1852 1738 1893 1745 1696 1590 1868 1745 1657 1549 1680 1554 1845 1750 1808 1705 1710 1605 1794 1693 1862 1742 1694 1570 1854 1743 1693 1561 1766 1596 1782 1682 1841 1729 1829 1734 1861 1740 1739 1573 1602 1483 1843 1674 1892 1772 1770 1676 1696 1575 1801 1704 1721 1552 1741 1584 1655 1527 1845 1681 1839 1676 1708 1604 1693 1591 1769 1673 1714 1627 1898 1739 1943 1775 1878 1732 1744 1650 1660 1557 1711 1605 1820 1665 1850 1692 1773 1675 1770 1671 1775 1691 1691 1568 1866 1703 1893 1754 1745 1655 1795 1705 1681 1539 1769 1673 1860 1708 1689 1571 1720 1620 1697 1566 1779 1680 1650 1518 1719 1563 1819 1723 1866 1719 1628 1511 1859 1722 1660 1537 1742 1648 1662 1536 1649 1498 1790 1693 1829 1722 1709 1613 1902 1780 1714 1557 1669 1556 1850 1693 1861 1723 1771 1677 1726 1628 1820 1713 1870 1734 1865 1741 1880 1729 1862 1733 1868 1707 1831 1673 1670 1546 1938 1818 1851 1701 1856 1712 1856 1737 1729 1629 1925 1796 1875 1739 1692 1548 1835 1683 1701 1566 1806 1647 1818 1647 1626 1496 1678 1596 1685 1592 1895 1731 1887 1739 1820 1662 1697 1569 1913 1784 1687 1601 1755 1664 1724 1573 1699 1537 1684 1568 1776 1617 1760 1584 1877 1761 1864 1730 1764 1675 1882 1749 1764 1589 1673 1563 1653 1507 1853 1742 1687 1569 1776 1621 1721 1579 1843 1729 1858 1738 1675 1573 1855 1711 1750 1586 1717 1575 1738 1641 1656 1527 1734 1579 1699 1590 1859 1719 1811 1707 1713 1610 1785 1627 1683 1577 1959 1816 1761 1665 1848 1697 1696 1553 1794 1637 1684 1566 1878 1735 1853 1733 1880 1756 1888 1760 1743 1593 1881 1793 1706 1560 1743 1592 1711 1609 1743 1655 1740 1661 1864 1709 1698 1606 1751 1653 1864 1721 1862 1753 1700 1607 1708 1562 1712 1606 1888 1764 1842 1692 1637 1506 1823 1649 1855 1705 1709 1545 1656 1545 1672 1575 1788 1707 1700 1588 1893 1764 1754 1589 1862 1760 1872 1757 1847 1660 1743 1591 1849 1678 1748 1582 1661 1559 1738 1589 1801 1634 1711 1573 1709 1612 1905 1760 1826 1666 1694 1591 1703 1593 1631 1524 1709 1563 1867 1722 1692 1561 1871 1711 1668 1559 1857 1714 1824 1716 1810 1655 1849 1702 1700 1613 1649 1515 1872 1720 1861 1753 1865 1729 1787 1686 1796 1705 1774 1610 1742 1652 1814 1717 1724 1623 1651 1507 1801 1633 1721 1574 1860 1682 1727 1580 1758 1604 1739 1587 1696 1614 1702 1570 1676 1539 1778 1684 1877 1739 1778 1686 1919 1801 1762 1603 1869 1757 1937 1791 1797 1700 1912 1747 1878 1736 1743 1646 1696 1566 1898 1766 1903 1748 1836 1727 1881 1719 1723 1571 1870 1743 1857 1734 1710 1568 1768 1598 1672 1550 1737 1569 1779 1625 1697 1625 1730 1660 1788 1627 1680 1551 1815 1644 1782 1626 1859 1745 1651 1539 1769 1606 1710 1609 1669 1559 1790 1634 1789 1620 1824 1719 1814 1653 1862 1702 1776 1613 1716 1554 1820 1733 1861 1731 1728 1574 1739 1588 1862 1706 1736 1572 1687 1555 1710 1605 1854 1690 1720 1552 1734 1585 1866 1733 1855 1741 1840 1687 1716 1576 1737 1589 1792 1634 1788 1693 1850 1749 1675 1538 1871 1722 1866 1718 1829 1672 1720 1630 1723 1569 1673 1542 1912 1801 1829 1727 1671 1541 1808 1647 1823 1714 1776 1685 1791 1635 1825 1658 1756 1593 1805 1721 1886 1759 1762 1598 1699 1607 1683 1574 1759 1668 1898 1722 1705 1620 1757 1661 1872 1748 1875 1770 1788 1694 1866 1717 1648 1531 1802 1699 1871 1741 1688 1569 1682 1592 1866 1720 1734 1582 1730 1639 1911 1781 1696 1587 1666 1534 1861 1740 1715 1563 1798 1636 1791 1702 1694 1578 1827 1669 1796 1641 1768 1678 1887 1736 1869 1735 1837 1738 1808 1650 1873 1745 1690 1535 1899 1741 1682 1554 1818 1714 1701 1603 1834 1732 1641 1521 1736 1643 1810 1653 1911 1752 1775 1603 1897 1770 1786 1628 1681 1582 1727 1638 1786 1692 1833 1722 1693 1587 1822 1720 1747 1669 1871 1717 1819 1660 1858 1713 1880 1738 1736 1640 1700 1620 1863 1709 1824 1657 1793 1692 1804 1648 1678 1543 1723 1555 1695 1562 1681 1591 1740 1592 1704 1537 1748 1650 1729 1631 1753 1594 1792 1629 1695 1586 1830 1671 1829 1660 1862 1702 1775 1690 1834 1739 1665 1566 1891 1745 1769 1612 1779 1615 1781 1625 1911 1744 1782 1681 1661 1549 1769 1676 1890 1748 1706 1599 1891 1748 1738 1640 1767 1611 1770 1685 1722 1579 1792 1692 1829 1719 1749 1660 1802 1633 1851 1732 1837 1735 1773 1612 1772 1608 1799 1616 1647 1524 1711 1568 1745 1594 1860 1712 1870 1722 1832 1666 1894 1754 1684 1598 1825 1650 1696 1565 1673 1527 1811 1655 1789 1632 1856 1732 1819 1711 1713 1622 1735 1650 1850 1745 1809 1651 1771 1679 1759 1666 1729 1584 1864 1720 1893 1771 1721 1577 1887 1733 1768 1603 1771 1617 1776 1615 1861 1742 1754 1663 1735 1635 1736 1583 1658 1575 1710 1611 1678 1560 1847 1753 1850 1739 1818 1712 1863 1729 1823 1654 1747 1580 1735 1639 1612 1500 1774 1678 1887 1752 1649 1506 1662 1530 1727 1583 1877 1737 1745 1588 1916 1765 1665 1553 1735 1635 1877 1761 1715 1624 1809 1706 1939 1796 1706 1603 1848 1674 1644 1546 1698 1572 1765 1666 1811 1721 1817 1726 1869 1746 1708 1604 1683 1552 1725 1638 1763 1610 1690 1578 1681 1570 1641 1502 1716 1569 1758 1673 1863 1747 1707 1609 1873 1719 1778 1621 1701 1599 1682 1550 1675 1571 1699 1617 1896 1745 1842 1749 1847 1739 1858 1703 1770 1674 1905 1776 1875 1750 1719 1616 1650 1519 1858 1703 1646 1540 1863 1754 1874 1704 1699 1585 1843 1748 1879 1739 1851 1734 1831 1739 1846 1665 1865 1770 1792 1691 1665 1538 1869 1676 1751 1592 1791 1691 1653 1541 1809 1705 1678 1599 1760 1662 1850 1704 1649 1525 1929 1805 1763 1596 1712 1609 1854 1707 1786 1700 1863 1699 1809 1642 1867 1758 1822 1723 1811 1719 1673 1551 1646 1550 1862 1736 1781 1618 1661 1546 1725 1582 1834 1734 1848 1735 1800 1702 1686 1593 1695 1572 1857 1737 1784 1707 1889 1746 1743 1581 1676 1535 1864 1737 1875 1714 1698 1569 1945 1812 1831 1724 1899 1750 1689 1565 1660 1554 1687 1594 1687 1549 1872 1747 1734 1636 1856 1711 1829 1721 1777 1678 1755 1585 1600 1481 1740 1644 1801 1642 1709 1609 1808 1718 1855 1747 1901 1778 1713 1539 1714 1613 1632 1524 1765 1611 1736 1580 1736 1637 1776 1681 1751 1599 1749 1595 1772 1605 1855 1734 1691 1558 1699 1604 1792 1690 1749 1650 1745 1654 1859 1729 1713 1575 1765 1671 1852 1739 1726 1628 1844 1744 1882 1742 1719 1556 1751 1662 1866 1709 1710 1616 1748 1582 1752 1597 1896 1762 1697 1585 1774 1618 1839 1727 1693 1556 1829 1722 1818 1658 1723 1621 1697 1573 1739 1584 1674 1558 1791 1635 1895 1747 1738 1655 1715 1573 1888 1728 1726 1580 1751 1663 1740 1589 1849 1698 1874 1743 1866 1724 1769 1670 1697 1585 1860 1730 1694 1597 1884 1760 1752 1566 1796 1628 1758 1594 1880 1749 1794 1692 1740 1591 1865 1715 1867 1725 1763 1684 1900 1767 1821 1650 1870 1730 1872 1734 1856 1711 1732 1639 1833 1681 1803 1703 1822 1717 1742 1588 1737 1580 1889 1769 1841 1660 1719 1569 1745 1649 1790 1688 1695 1555 1742 1578 1693 1569 1707 1609 1882 1714 1725 1577 1890 1750 1896 1765 1814 1722 1670 1553 1704 1604 1667 1530 1667 1580 1674 1584 1681 1570 1782 1608 1743 1591 1774 1611 1780 1620 1729 1561 1899 1778 1751 1658 1660 1538 1908 1760 1870 1730 1795 1640 1892 1740 1856 1709 1876 1723 1868 1747 1834 1680 1743 1651 1766 1602 1845 1737 1849 1704 1696 1576 1876 1728 1766 1610 1800 1635 1685 1560 1858 1736 1683 1556 1809 1706 1652 1540 1874 1709 1776 1619 1817 1710 1870 1742 1944 1790 1735 1574 1825 1671 1815 1720 1743 1584 1750 1657 1730 1634 1758 1670 1707 1568 1722 1576 1890 1761 1695 1602 1696 1593 1763 1608 1683 1537 1713 1565 1690 1559 1740 1591 1802 1703 1863 1725 1846 1681 1695 1578 1692 1562 1816 1657 1862 1704 1738 1645 1762 1663 1746 1657 1767 1673 1647 1516 1893 1764 1761 1677 1684 1559 1664 1541 1863 1753 1937 1792 1877 1751 1906 1781 1791 1690 1795 1634 1689 1577 1699 1540 1894 1759 1853 1748 1671 1543 1806 1633 1899 1759 1850 1734 1688 1557 1852 1689 1747 1585 1864 1761 1793 1631 1798 1699 1833 1725 1879 1734 1758 1663 1889 1743 1801 1707 1856 1697 1802 1646 1732 1586 1830 1668 1848 1729 1740 1589 1715 1623 1762 1664 1865 1731 1936 1771 1641 1507 1860 1759 1829 1729 1864 1718 1685 1539 1662 1532 1921 1808 1651 1489 1872 1739 1723 1623 1703 1572 1887 1757 1758 1606 1853 1709 1741 1588 1672 1566 1807 1707 1809 1642 1842 1679 1773 1619 1757 1662 1719 1573 1674 1548 1859 1711 1815 1661 1684 1532 1771 1607 1816 1713 1676 1534 1683 1538 1754 1597 1830 1728 1708 1606 1884 1736 1706 1622 1836 1679 1728 1639 1859 1704 1755 1659 1865 1705 1669 1564 1679 1542 1724 1581 1641 1484 1884 1726 1874 1721 1734 1582 1654 1543 1788 1687 1837 1686 1771 1611 1813 1647 1803 1632 1850 1704 1696 1600 1732 1585 1706 1551 1882 1739 1779 1625 1832 1734 1803 1702 1780 1623 1761 1600 1780 1603 1746 1586 1802 1631 1810 1706 1823 1660 1675 1541 1690 1533 1700 1600 1867 1755 1773 1702 1810 1712 1866 1752 1710 1619 1729 1630 1650 1538 1852 1704 1819 1652 1935 1801 1833 1680 1767 1680 1740 1660 1757 1665 1853 1733 1734 1639 1843 1686 1848 1744 1847 1742 1714 1561 1791 1631 1859 1741 1646 1540 1825 1725 1704 1610 1686 1571 1714 1610 1830 1722 1773 1615 1795 1694 1873 1770 1872 1713 1695 1555 1841 1730 1786 1693 1813 1725 1735 1584 1906 1780 1741 1662 1893 1767 1840 1726 1824 1653 1738 1584 1863 1700 1677 1589 1822 1662 1726 1639 1767 1611 1707 1563 1683 1568 1832 1724 1825 1721 1833 1722 1706 1597 1758 1666 1680 1573 1898 1720 1695 1592 1859 1709 1895 1762 1681 1560 1845 1742 1707 1609 1719 1578 1826 1717 1671 1556 1674 1558 1694 1579 1663 1533 1721 1625 1699 1604 1835 1667 1679 1568 1704 1596 1890 1761 1756 1660 1699 1589 1668 1527 1757 1603 1778 1611 1861 1753 1785 1688 1703 1599 1682 1571 1779 1617 1725 1625 1742 1583 1849 1730 1709 1617 1855 1711 1885 1772 1850 1748 1684 1574 1704 1559 1826 1651 1852 1759 1892 1785 1643 1523 1683 1584 1646 1525 1836 1732 1634 1518 1708 1608 1699 1602 1729 1630 1804 1643 1703 1602 1791 1637 1706 1571 1830 1674 1751 1654 1699 1604 1652 1524 1794 1633 1808 1704 1690 1563 1753 1658 1713 1561 1803 1711 1857 1710 1777 1614 1764 1672 1911 1773 1709 1603 1868 1730 1798 1642 1719 1619 1800 1635 1693 1568 1772 1616 1866 1736 1821 1718 1664 1571 1695 1580 1807 1614 1712 1612 1716 1573 1857 1750 1658 1525 1776 1677 1887 1766 1808 1718 1799 1636 1835 1754 1605 1504 1855 1745 1681 1548 1817 1730 1736 1646 1833 1724 1856 1729 1681 1589 1868 1743 1864 1747 1694 1583 1791 1633 1685 1607 1766 1668 1711 1555 1872 1724 1806 1716 1872 1740 1719 1569 1721 1574 1865 1747 1724 1560 1687 1563 1691 1572 1836 1728 1642 1511 1677 1590 1888 1765 1883 1733 1829 1723 1697 1591 1865 1731 1792 1704 1870 1725 1773 1612 1791 1695 1665 1550 1779 1595 1842 1748 1727 1644 1688 1608 1728 1568 1885 1770 1714 1633 1863 1753 1715 1625 1663 1548 1799 1638 1773 1676 1804 1633 1758 1606 1670 1562 1759 1662 1861 1710 1684 1567 1832 1722 1846 1696 1851 1744 1852 1697 1756 1665 1676 1552 1733 1574 1688 1584 1698 1613 1796 1627 1724 1581 1798 1705 1788 1633 1869 1730 1878 1730 1838 1680 1830 1731 1660 1533 1739 1641 1777 1618 1703 1606 1863 1716 1732 1642 1880 1749 1763 1607 1685 1572 1704 1567 1783 1690 1861 1728 1707 1626 1738 1641 1791 1630 1748 1653 1891 1749 1625 1535 1730 1581 1939 1776 1823 1670 1671 1565 1775 1679 1703 1558 1715 1568 1779 1625 1723 1573 1728 1562 1708 1555 1860 1725 1699 1597 1803 1644 1816 1654 1730 1639 1666 1550 1716 1574 1626 1512 1758 1604 1683 1532 1785 1628 1710 1571 1907 1805 1705 1608 1618 1503 1694 1578 1834 1676 1738 1582 1891 1770 1697 1581 1919 1800 1702 1557 1939 1792 1862 1717 1824 1730 1699 1554 1700 1553 1671 1576 1849 1699 1668 1543 1830 1652 1723 1572 1875 1748 1888 1740 1880 1721 1814 1725 1782 1622 1752 1654 1783 1612 1874 1738 1671 1548 1867 1743 1844 1680 1744 1593 1846 1683 1697 1572 1929 1795 1773 1685 1913 1776 1814 1659 1656 1525 1679 1522 1839 1690 1742 1586 1693 1580 1709 1562 1742 1575 1674 1565 1734 1582 1857 1710 1827 1717 1815 1711 1854 1710 1759 1660 1612 1527 1729 1640 1686 1586 1716 1623 1706 1603 1890 1741 1864 1721 1686 1598 1708 1615 1848 1692 1742 1663 1813 1657 1888 1776 1711 1570 1871 1730 1733 1573 1847 1669 1681 1581 1673 1545 1761 1607 1713 1608 1693 1582 1801 1632 1703 1564 1746 1592 1691 1536 1859 1710 1694 1563 1852 1731 1790 1615 1812 1657 1706 1603 1885 1730 1687 1569 1665 1546 1829 1674 1659 1557 1891 1742 1807 1652 1694 1572 1655 1568 1851 1734 1680 1537 1887 1773 1752 1600 1881 1771 1898 1740 1736 1570 1824 1670 1683 1545 1840 1727 1898 1734 1856 1732 1811 1652 1776 1606 1800 1642 1885 1728 1877 1761 1849 1694 1884 1765 1709 1548 1694 1559 1802 1646 1834 1728 1873 1733 1705 1604 1794 1699 1695 1591 1869 1723 1626 1547 1826 1729 1797 1700 1656 1548 1801 1698 1851 1702 1858 1736 1892 1757 1766 1602 1752 1654 1755 1576 1821 1661 1768 1602 1803 1708 1642 1513 1774 1674 1792 1613 1778 1622 1851 1700 1667 1549 1829 1677 1647 1548 1832 1723 1888 1785 1882 1744 1709 1607 1674 1523 1669 1561 1774 1608 1781 1699 1875 1728 1849 1735 1880 1728 1794 1636 1773 1615 1709 1603 1735 1589 1732 1634 1843 1685 1736 1582 1752 1597 1643 1502 1883 1773 1749 1652 1713 1568 1892 1761 1729 1634 1766 1668 1645 1529 1887 1764 1773 1675 1864 1739 1652 1554 1838 1731 1689 1600 1864 1727 1839 1727 1720 1574 1632 1504 1852 1744 1775 1620 1713 1609 1820 1713 1741 1642 1782 1627 1842 1728 1722 1579 1805 1643 1796 1628 1851 1729 1837 1739 1779 1691 1826 1660 1830 1667 1685 1591 1706 1566 1691 1605 1766 1675 1866 1740 1864 1748 1787 1627 1873 1738 1862 1735 1695 1580 1782 1623 1862 1710 1757 1605 1686 1574 1686 1562 1831 1676 1683 1543 1830 1668 1688 1547 1732 1633 1769 1689 1677 1549 1694 1587 1866 1700 1745 1647 1717 1629 1842 1739 1870 1697 1854 1705 1808 1709 1857 1743 1826 1672 1848 1702 1681 1584 1702 1555 1886 1762 1734 1584 1864 1731 1672 1590 1758 1675 1770 1616 1669 1555 1676 1590 1752 1592 1730 1637 1684 1559 1725 1629 1844 1744 1665 1560 1721 1619 1649 1499 1779 1617 1686 1566 1740 1647 1771 1684 1872 1738 1699 1541 1858 1709 1706 1605 1864 1740 1709 1567 1887 1775 1796 1700 1870 1749 1783 1684 1873 1742 1708 1557 1864 1765 1756 1697 1850 1669 1672 1568 1724 1638 1732 1646 1904 1786 1700 1550 1611 1487 1930 1793 1829 1668 1666 1554 1915 1772 1717 1617 1857 1729 1874 1736 1742 1591 1723 1574 1702 1606 1696 1594 1678 1530 1862 1737 1728 1646 1783 1696 1834 1725 1867 1738 1723 1569 1677 1571 1821 1721 1761 1608 1865 1721 1869 1735 1818 1660 1673 1572 1881 1775 1656 1552 1821 1653 1862 1717 1852 1708 1711 1632 1858 1744 1718 1561 1673 1577 1798 1701 1769 1607 1877 1740 1809 1707 1684 1550 1796 1699 1683 1565 1719 1620 1733 1585 1858 1740 1897 1784 1770 1672 1842 1690 1778 1623 1801 1638 1890 1749 1715 1616 1688 1573 1851 1732 1750 1659 1769 1615 1736 1589 1802 1639 1668 1527 1834 1728 1802 1646 1879 1741 1834 1726 1861 1725 1864 1732 1686 1594 1777 1682 1737 1587 1717 1575 1669 1510 1856 1711 1896 1743 1788 1633 1862 1742 1713 1619 1677 1573 1712 1573 1698 1588 1704 1571 1892 1762 1888 1754 1698 1569 1676 1546 1870 1720 1705 1554 1802 1708 1748 1596 1854 1694 1875 1729 1868 1714 1815 1657 1841 1682 1693 1573 1643 1503 1872 1746 1667 1574 1889 1748 1743 1587 1656 1526 1829 1720 1695 1570 1703 1617 1841 1741 1682 1559 1696 1538 1889 1754 1846 1697 1774 1614 1734 1580 1695 1587 1694 1560 1796 1696 1703 1600 1702 1606 1782 1609 1887 1777 1664 1522 1675 1516 1688 1587 1698 1596 1703 1557 1785 1687 1883 1749 1706 1566 1775 1616 1869 1735 1667 1568 1765 1607 1751 1664 1672 1566 1721 1626 1692 1566 1696 1570 1705 1599 1804 1637 1765 1670 1860 1732 1713 1614 1849 1734 1734 1588 1763 1611 1751 1572 1873 1733 1653 1509 1711 1610 1668 1550 1705 1565 1927 1773 1740 1645 1797 1638 1832 1680 1736 1589 1811 1705 1771 1610 1876 1768 1848 1677 1685 1555 1909 1759 1846 1737 1864 1733 1647 1535 1807 1639 1890 1743 1862 1669 1814 1711 1775 1615 1771 1611 1882 1727 1674 1547 1915 1761 1796 1636 1867 1724 1721 1574 1656 1531 1822 1737 1650 1536 1838 1724 1700 1572 1862 1730 1852 1707 1863 1744 1866 1723 1716 1615 1677 1542 1751 1597 1789 1703 1786 1702 1881 1744 1741 1590 1669 1547 1890 1776 1753 1596 1884 1745 1730 1639 1871 1725 1862 1699 1856 1686 1760 1665 1691 1578 1674 1551 1636 1507 1868 1749 1774 1690 1859 1715 1882 1735 1848 1694 1757 1603 1778 1695 1894 1765 1712 1569 1762 1600 1693 1538 1718 1621 1784 1692 1712 1615 1789 1610 1660 1534 1886 1779 1658 1549 1632 1518 1780 1693 1870 1696 1679 1545 1756 1581 1825 1666 1874 1753 1898 1780 1768 1669 1931 1789 1755 1592 1832 1663 1846 1693 1790 1634 1799 1697 1691 1607 1615 1505 1637 1542 1862 1734 1885 1745 1893 1744 1812 1647 1657 1536 1687 1572 1722 1580 1796 1698 1857 1715 1838 1726 1685 1570 1779 1622 1859 1721 1826 1670 1818 1749 1699 1556 1845 1694 1932 1817 1842 1675 1850 1742 1848 1742 1838 1731 1798 1642 1808 1633 1787 1630 1827 1717 1857 1714 1918 1783 1725 1578 1699 1569 1697 1600 1848 1739 1756 1665 1785 1688 1852 1751 1689 1590 1751 1663 1852 1700 1663 1570 1899 1779 1715 1613 1817 1649 1869 1729 1866 1733 1862 1705 1724 1579 1674 1564 1783 1609 1697 1588 1715 1570 1694 1577 1824 1734 1701 1605 1711 1555 1863 1741 1730 1639 1749 1675 1749 1661 1833 1748 1767 1596 1668 1552 1781 1689 1824 1723 1686 1563 1726 1543 1871 1738 1857 1738 1724 1625 1707 1615 1721 1621 1850 1702 1794 1695 1697 1558 1709 1571 1833 1724 1870 1746 1691 1593 1678 1540 1693 1573 1796 1641 1855 1742 1902 1761 1883 1755 1667 1559 1879 1733 1743 1645 1694 1553 1849 1733 1707 1570 1782 1614 1790 1625 1833 1725 1740 1652 1848 1697 1731 1642 1756 1661 1646 1512 1893 1786 1811 1710 1877 1750 1686 1575 1857 1737 1863 1699 1845 1670 1726 1628 1705 1558 1800 1700 1724 1580 1850 1732 1841 1688 1903 1764 1706 1611 1876 1720 1876 1734 1904 1752 1872 1737 1670 1545 1814 1716 1829 1677 1835 1673 1796 1716 1886 1749 1886 1761 1906 1747 1878 1720 1896 1783 1711 1570 1741 1653 1728 1628 1623 1473 1685 1559 1868 1752 1770 1670 1704 1598 1805 1702 1795 1710 1709 1607 1872 1747 1675 1558 1806 1645 1691 1559 1882 1733 1699 1603 1756 1605 1821 1724 1889 1717 1871 1734 1840 1670 1884 1734 1898 1765 1670 1564 1725 1560 1712 1616 1721 1619 1872 1725 1700 1564 1859 1699 1699 1568 1691 1600 1881 1738 1793 1635 1895 1748 1795 1634 1679 1562 1683 1566 1790 1631 1677 1567 1742 1588 1840 1730 1894 1750 1735 1575 1880 1771 1803 1702 1879 1747 1685 1585 1831 1735 1843 1689 1657 1518 1681 1585 1882 1758 1803 1726 1840 1741 1845 1688 1799 1698 1757 1659 1712 1558 1696 1590 1681 1539 1834 1721 1730 1563 1817 1714 1858 1715 1789 1692 1697 1589 1853 1742 1907 1749 1677 1557 1791 1622 1850 1686 1854 1697 1679 1549 1875 1761 1858 1723 1842 1684 1847 1742 1711 1606 1717 1620 1831 1720 1751 1677 1661 1512 1827 1647 1884 1734 1871 1756 1730 1573 1825 1724 1851 1705 1861 1735 1912 1774 1704 1618 1801 1702 1852 1748 1687 1570 1766 1613 1686 1552 1692 1560 1705 1567 1874 1727 1880 1734 1787 1690 1699 1589 1829 1677 1818 1661 1886 1773 1872 1747 1665 1576 1867 1756 1887 1744 1852 1730 1852 1731 1745 1659 1795 1639 1849 1684 1811 1708 1808 1652 1711 1609 1826 1722 1763 1664 1891 1780 1661 1562 1885 1782 1671 1555 1733 1636 1845 1739 1845 1732 1923 1753 1701 1562 1640 1528 1775 1683 1643 1541 1828 1732 1755 1657 1645 1546 1785 1686 1629 1508 1714 1619 1683 1556 1836 1665 1851 1698 1797 1629 1657 1552 1890 1743 1854 1760 1675 1587 1912 1775 1708 1554 1847 1694 1695 1566 1762 1667 1736 1582 1698 1550 1866 1760 1747 1656 1858 1713 1821 1720 1889 1750 1697 1571 1741 1645 1723 1571 1761 1665 1792 1713 1730 1638 1712 1630 1760 1662 1753 1593 1902 1729 1804 1710 1751 1659 1845 1695 1805 1639 1879 1748 1670 1534 1751 1654 1615 1507 1902 1721 1770 1689 1909 1785 1726 1579 1703 1605 1834 1727 1861 1722 1759 1661 1703 1554 1893 1772 1692 1580 1822 1654 1835 1741 1613 1512 1695 1553 1660 1537 1723 1572 1806 1711 1869 1723 1697 1589 1881 1746 1865 1728 1713 1564 1628 1522 1727 1584 1779 1704 1802 1710 1735 1637 1858 1756 1698 1572 1815 1657 1756 1604 1747 1594 1814 1655 1823 1666 1860 1758 1919 1784 1785 1686 1844 1733 1858 1727 1773 1615 1756 1594 1836 1726 1704 1599 1880 1752 1774 1684 1710 1566 1792 1631 1757 1602 1662 1539 1728 1639 1803 1700 1700 1600 1890 1746 1650 1533 1756 1658 1713 1560 1698 1591 1839 1755 1795 1695 1933 1826 1850 1730 1863 1696 1874 1766 1751 1590 1857 1700 1794 1692 1697 1559 1862 1739 1693 1553 1676 1568 1667 1532 1810 1736 1793 1625 1869 1733 1764 1680 1860 1717 1796 1694 1856 1713 1741 1592 1753 1594 1714 1563 1869 1744 1631 1497 1861 1718 1808 1718 1698 1573 1866 1748 1690 1567 1743 1590 1880 1742 1677 1570 1827 1734 1870 1764 1847 1731 1771 1616 1818 1658 1727 1636 1736 1644 1759 1603 1738 1581 1708 1601 1696 1582 1655 1502 1890 1756 1761 1662 1745 1584 1769 1689 1687 1552 1789 1694 1891 1771 1862 1729 1808 1640 1648 1527 1693 1569 1712 1564 1736 1582 1700 1556 1674 1542 1856 1746 1679 1548 1787 1632 1870 1717 1687 1546 1785 1625 1698 1588 1865 1739 1838 1724 1751 1594 1767 1608 1689 1554 1837 1678 1670 1542 1692 1561 1868 1721 1770 1692 1690 1566 1888 1742 1862 1717 1902 1768 1783 1613 1876 1765 1863 1716 1672 1567 1684 1574 1866 1752 1729 1629 1709 1606 1783 1622 1857 1716 1713 1562 1830 1671 1768 1679 1864 1736 1798 1629 1805 1650 1747 1652 1851 1735 1850 1694 1690 1591 1849 1695 1770 1612 1753 1654 1861 1730 1839 1688 1793 1697 1856 1732 1679 1559 1725 1632 1673 1545 1676 1548 1865 1720 1860 1751 1705 1565 1859 1717 1731 1581 1894 1759 1836 1683 1768 1669 1710 1567 1689 1572 1714 1609 1733 1643 1853 1701 1693 1550 1857 1742 1888 1718 1721 1572 1732 1579 1741 1641 1663 1559 1856 1706 1753 1670 1684 1553 1867 1689 1873 1719 1903 1774 1695 1568 1879 1718 1919 1778 1868 1762 1867 1706 1739 1582 1807 1707 1872 1739 1691 1594 1694 1554 1858 1741 1873 1707 1911 1763 1610 1503 1691 1534 1709 1606 1799 1696 1731 1583 1718 1578 1676 1570 1767 1677 1703 1559 1770 1682 1753 1595 1671 1573 1701 1570 1858 1710 1762 1666 1687 1555 1654 1542 1870 1733 1692 1604 1707 1570 1890 1762 1625 1502 1893 1782 1660 1518 1820 1646 1687 1592 1803 1709 1797 1703 1831 1725 1658 1537 1851 1744 1796 1615 1808 1719 1867 1758 1715 1573 1678 1585 1853 1709 1683 1574 1921 1749 1719 1557 1809 1706 1864 1741 1611 1493 1862 1723 1701 1592 1805 1645 1823 1668 1692 1568 1774 1609 1844 1746 1749 1585 1755 1597 1730 1638 1713 1562 1851 1691 1842 1729 1869 1727 1701 1620 1715 1615 1751 1592 1694 1586 1689 1556 1674 1555 1738 1581 1687 1541 1687 1564 1685 1565 1797 1638 1855 1704 1876 1733 1693 1573 1860 1726 1752 1600 1755 1674 1736 1589 1793 1629 1816 1718 1697 1580 1748 1594 1695 1568 1702 1564 1863 1722 1712 1568 1763 1582 1847 1685 1721 1623 1755 1658 1858 1738 1857 1740 1864 1733 1804 1644 1692 1580 1735 1642 1865 1759 1863 1716 1729 1629 1855 1737 1698 1608 1706 1606 1756 1660 1672 1556 1818 1664 1778 1609 1872 1726 1766 1610 1899 1750 1627 1510 1842 1729 1738 1644 1828 1726 1849 1755 1680 1548 1864 1731 1799 1642 1700 1590 1862 1724 1816 1659 1797 1702 1836 1659 1858 1742 1858 1706 1734 1641 1704 1632 1837 1737 1711 1574 1867 1692 1794 1634 1786 1622 1632 1530 1861 1747 1671 1560 1866 1687 1848 1697 1875 1718 1667 1536 1722 1620 1853 1743 1791 1690 1764 1684 1758 1606 1788 1632 1709 1564 1707 1607 1752 1656 1746 1647 1887 1762 1697 1557 1676 1542 1770 1671 1724 1625 1822 1652 1743 1657 1765 1601 1864 1718 1875 1709 1825 1670 1858 1729 1879 1736 1676 1546 1707 1562 1822 1662 1832 1676 1625 1507 1704 1564 1870 1736 1863 1748 1668 1550 1737 1657 1671 1527 1833 1680 1872 1730 1867 1718 1740 1651 1762 1604 1677 1545 1775 1614 1808 1710 1663 1539 1876 1728 1710 1563 1665 1569 1743 1655 1806 1721 1708 1572 1836 1723 1877 1765 1775 1605 1665 1519 1789 1623 1872 1738 1714 1574 1863 1757 1730 1632 1822 1663 1848 1700 1844 1693 1667 1548 1796 1641 1763 1602 1699 1545 1770 1672 1828 1662 1869 1755 1855 1761 1884 1761 1845 1687 1675 1554 1679 1564 1928 1779 1776 1683 1696 1598 1870 1738 1798 1702 1788 1692 1735 1577 1810 1655 1707 1568 1765 1594 1744 1645 1888 1728 1763 1677 1681 1557 1678 1570 1854 1732 1848 1760 1813 1658 1716 1564 1746 1582 1665 1531 1706 1601 1699 1608 1704 1604 1883 1749 1849 1747 1821 1726 1854 1747 1824 1665 1847 1728 1702 1552 1726 1581 1700 1602 1948 1791 1926 1769 1857 1729 1807 1715 1885 1751 1847 1692 1734 1643 1691 1577 1643 1523 1788 1633 1698 1586 1701 1596 1696 1576 1644 1524 1702 1569 1679 1551 1787 1623 1747 1663 1797 1708 1833 1726 1744 1586 1692 1590 1855 1756 1705 1561 1778 1678 1688 1561 1859 1702 1794 1633 1688 1531 1684 1595 1685 1551 1808 1646 1849 1731 1749 1597 1866 1744 1754 1663 1823 1660 1820 1656 1650 1539 1825 1720 1868 1746 1735 1639 1695 1601 1694 1571 1903 1756 1700 1565 1821 1719 1911 1788 1709 1605 1781 1684 1850 1730 1750 1661 1667 1524 1695 1581 1830 1722 1861 1717 1865 1732 1697 1582 1764 1607 1843 1735 1831 1734 1869 1722 1692 1572 1802 1705 1717 1623 1687 1574 1815 1659 1718 1624 1763 1676 1689 1564 1695 1576 1854 1711 1868 1751 1755 1662 1700 1611 1780 1612 1703 1545 1747 1588 1789 1615 1773 1610 1850 1700 1640 1515 1705 1572 1699 1568 1865 1721 1741 1654 1862 1746 1714 1565 1889 1741 1807 1637 1758 1660 1790 1616 1753 1672 1733 1587 1743 1654 1862 1738 1719 1563 1705 1599 1698 1586 1735 1586 1614 1493 1792 1696 1732 1645 1867 1737 1870 1735 1693 1572 1753 1600 1672 1557 1736 1652 1693 1567 1864 1740 1730 1647 1781 1621 1740 1642 1691 1565 1858 1702 1875 1701 1686 1590 1683 1564 1922 1744 1821 1716 1790 1697 1736 1581 1781 1626 1768 1610 1692 1546 1780 1626 1816 1657 1845 1690 1923 1819 1942 1789 1778 1622 1807 1716 1703 1605 1818 1714 1873 1718 1759 1672 1704 1551 1853 1739 1711 1611 1764 1611 1666 1584 1768 1606 1686 1579 1776 1682 1854 1706 1673 1579 1839 1678 1744 1584 1662 1546 1752 1601 1729 1575 1712 1573 1715 1555 1716 1630 1773 1611 1763 1605 1686 1591 1696 1601 1892 1773 1741 1577 1792 1618 1707 1573 1939 1782 1681 1580 1655 1554 1694 1553 1685 1561 1931 1763 1708 1624 1692 1572 1706 1611 1770 1600 1875 1756 1744 1592 1872 1732 1868 1733 1827 1673 1730 1580 1676 1538 1765 1672 1759 1664 1813 1729 1854 1710 1712 1557 1838 1726 1719 1619 1769 1613 1715 1624 1729 1633 1842 1728 1669 1536 1675 1554 1776 1600 1707 1629 1628 1495 1835 1727 1824 1666 1657 1538 1810 1720 1840 1684 1782 1687 1674 1558 1791 1722 1794 1708 1864 1737 1661 1521 1666 1565 1646 1525 1880 1742 1890 1735 1756 1604 1706 1571 1730 1646 1769 1596 1689 1561 1703 1602 1704 1613 1884 1737 1691 1569 1813 1713 1819 1665 1872 1737 1726 1630 1772 1683 1871 1742 1665 1522 1708 1566 1671 1548 1768 1614 1685 1519 1750 1678 1887 1756 1622 1475 1708 1613 1681 1541 1711 1637 1822 1668 1805 1633 1761 1602 1790 1626 1781 1618 1705 1562 1863 1762 1632 1520 1761 1665 1773 1674 1785 1622 1672 1598 1920 1780 1717 1570 1695 1535 1847 1743 1647 1539 1676 1523 1695 1574 1764 1666 1689 1572 1689 1550 1875 1749 1695 1586 1847 1744 1952 1817 1770 1672 1824 1715 1783 1618 1634 1497 1683 1581 1725 1568 1699 1588 1699 1586 1885 1755 1686 1533 1790 1695 1723 1576 1774 1676 1776 1604 1688 1598 1904 1744 1789 1631 1875 1740 1696 1590 1889 1769 1696 1574 1840 1685 1778 1694 1793 1638 1697 1571 1760 1605 1812 1710 1734 1576 1708 1566 1785 1691 1694 1546 1833 1662 1664 1562 1681 1563 1653 1528 1695 1550 1866 1740 1774 1676 1693 1583 1815 1713 1907 1758 1703 1637 1835 1729 1819 1716 1849 1701 1742 1645 1734 1567 1688 1594 1859 1712 1719 1624 1852 1694 1715 1618 1846 1692 1855 1711 1883 1742 1718 1575 1749 1665 1782 1691 1675 1554 1707 1573 1852 1708 1838 1725 1867 1699 1875 1750 1675 1538 1705 1606 1861 1728 1722 1625 1878 1770 1838 1664 1852 1735 1838 1665 1870 1716 1709 1608 1799 1709 1869 1748 1818 1657 1776 1614 1797 1696 1764 1609 1695 1571 1855 1736 1814 1715 1788 1691 1818 1662 1851 1691 1754 1664 1675 1572 1861 1726 1655 1561 1857 1709 1867 1716 1847 1683 1795 1635 1819 1727 1754 1678 1711 1558 1910 1756 1916 1759 1723 1622 1743 1675 1719 1616 1691 1573 1701 1595 1721 1623 1875 1754 1842 1693 1858 1703 1860 1728 1675 1540 1868 1717 1751 1597 1827 1672 1718 1615 1839 1682 1671 1571 1774 1676 1730 1577 1651 1503 1895 1749 1760 1662 1827 1719 1870 1736 1709 1623 1900 1726 1803 1699 1738 1584 1695 1554 1862 1717 1745 1655 1730 1585 1846 1728 1827 1652 1850 1698 1695 1576 1866 1725 1679 1578 1679 1593 1726 1580 1899 1723 1816 1655 1792 1624 1748 1581 1853 1731 1765 1609 1897 1762 1779 1682 1720 1620 1708 1567 1718 1573 1855 1736 1775 1684 1850 1701 1738 1644 1747 1591 1819 1663 1881 1777 1843 1731 1636 1537 1852 1735 1876 1750 1781 1695 1859 1698 1695 1597 1719 1631 1669 1586 1897 1760 1851 1700 1766 1689 1683 1568 1859 1756 1879 1717 1832 1730 1616 1478 1855 1745 1774 1616 1777 1621 1839 1689 1703 1572 1661 1575 1844 1732 1705 1612 1849 1700 1698 1584 1688 1565 1705 1599 1885 1755 1726 1627 1884 1738 1839 1731 1897 1759 1831 1736 1825 1725 1655 1524 1717 1574 1810 1716 1741 1565 1872 1750 1814 1711 1778 1619 1718 1577 1752 1664 1797 1642 1696 1557 1685 1595 1714 1615 1916 1775 1857 1716 1691 1594 1754 1662 1758 1602 1674 1552 1781 1615 1904 1778 1910 1795 1743 1594 1865 1763 1871 1724 1696 1576 1883 1756 1667 1557 1886 1747 1660 1513 1862 1735 1864 1725 1942 1793 1876 1738 1801 1708 1815 1661 1764 1672 1661 1552 1734 1636 1736 1569 1876 1727 1739 1640 1785 1618 1683 1521 1730 1642 1910 1753 1851 1697 1739 1663 1823 1727 1707 1605 1866 1710 1672 1567 1797 1637 1911 1798 1820 1717 1712 1569 1794 1635 1694 1571 1685 1572 1861 1715 1856 1730 1743 1644 1858 1706 1677 1586 1854 1736 1755 1664 1749 1661 1781 1620 1814 1738 1741 1644 1734 1584 1922 1777 1868 1746 1821 1667 1800 1637 1825 1665 1678 1520 1891 1747 1766 1678 1863 1745 1650 1547 1756 1605 1826 1673 1687 1590 1684 1535 1686 1569 1729 1580 1672 1560 1903 1787 1764 1675 1812 1649 1897 1758 1764 1603 1846 1739 1694 1572 1889 1760 1799 1705 1688 1570 1880 1741 1789 1630 1856 1755 1858 1732 1770 1614 1720 1618 1753 1654 1693 1561 1693 1612 1688 1580 1694 1591 1637 1525 1791 1694 1902 1776 1874 1735 1703 1596 1664 1554 1693 1608 1815 1651 1862 1771 1704 1597 1723 1624 1869 1717 1875 1733 1840 1690 1858 1712 1771 1615 1786 1625 1738 1639 1672 1570 1858 1745 1762 1663 1874 1719 1752 1596 1880 1735 1707 1623 1723 1573 1764 1665 1810 1708 1719 1576 1870 1725 1818 1657 1863 1731 1843 1745 1819 1715 1786 1702 1831 1663 1714 1617 1661 1556 1897 1757 1789 1630 1837 1728 1701 1550 1864 1706 1811 1646 1872 1740 1842 1746" fill="none" stroke="none" marker-start="url(#ring)" marker-mid="url(#ring)" marker-end="url(#ring)"/><g fill="none" stroke="#8aaccd" stroke-width="4.8"><ellipse cx="1777.6" cy="1650.7" rx="159.1" ry="39.9" transform="rotate(44.10 1777.6 1650.7)"/><ellipse cx="1777.6" cy="1650.7" rx="131.6" ry="33" transform="rotate(44.10 1777.6 1650.7)"/><ellipse cx="1777.6" cy="1650.7" rx="112.5" ry="28.2" transform="rotate(44.10 1777.6 1650.7)"/><ellipse cx="1777.6" cy="1650.7" rx="96.4" ry="24.2" transform="rotate(44.10 1777.6 1650.7)"/><ellipse cx="1777.6" cy="1650.7" rx="81.1" ry="20.4" transform="rotate(44.10 1777.6 1650.7)"/><ellipse cx="1777.6" cy="1650.7" rx="66.6" ry="16.7" transform="rotate(44.10 1777.6 1650.7)"/><ellipse cx="1777.6" cy="1650.7" rx="50.5" ry="12.7" transform="rotate(44.10 1777.6 1650.7)"/><ellipse cx="1777.6" cy="1650.7" rx="30.6" ry="7.7" transform="rotate(44.10 1777.6 1650.7)"/></g><g fill="none" stroke="#3a6a9a" stroke-width="3.3"><ellipse cx="1777.6" cy="1650.7" rx="159.1" ry="39.9" transform="rotate(44.10 1777.6 1650.7)"/><ellipse cx="1777.6" cy="1650.7" rx="131.6" ry="33" transform="rotate(44.10 1777.6 1650.7)"/><ellipse cx="1777.6" cy="1650.7" rx="112.5" ry="28.2" transform="rotate(44.10 1777.6 1650.7)"/><ellipse cx="1777.6" cy="1650.7" rx="96.4" ry="24.2" transform="rotate(44.10 1777.6 1650.7)"/><ellipse cx="1777.6" cy="1650.7" rx="81.1" ry="20.4" transform="rotate(44.10 1777.6 1650.7)"/><ellipse cx="1777.6" cy="1650.7" rx="66.6" ry="16.7" transform="rotate(44.10 1777.6 1650.7)"/><ellipse cx="1777.6" cy="1650.7" rx="50.5" ry="12.7" transform="rotate(44.10 1777.6 1650.7)"/><ellipse cx="1777.6" cy="1650.7" rx="30.6" ry="7.7" transform="rotate(44.10 1777.6 1650.7)"/></g></g><line x1="1512.5" y1="1649.5" x2="2046.6" y2="1649.5" stroke="#000" stroke-width="2.8" stroke-dasharray="10 10.6" stroke-dashoffset="-1"/><line x1="1779.5" y1="1399.5" x2="1779.5" y2="1432" stroke="#000" stroke-width="2.8" stroke-linecap="round"/><line x1="1779.5" y1="1441.6" x2="1779.5" y2="1906.6" stroke="#000" stroke-width="2.8" stroke-dasharray="10 10.6" stroke-linecap="round"/><circle cx="1929.6" cy="1784.5" r="15" fill="none" stroke="#b8860b" stroke-width="4"/><path d="M1922.6,1777.5L1936.6,1791.5M1936.6,1777.5L1922.6,1791.5" stroke="#b8860b" stroke-width="4"/><rect x="1512.5" y="1392" width="534.1" height="514.6" fill="none" stroke="#000" stroke-width="2.6"/><line x1="1595.1" y1="1906.6" x2="1595.1" y2="1923.9" stroke="#000" stroke-width="2.6"/><text x="1595.1" y="1966.6" font-size="52.5" text-anchor="middle" font-weight="normal" fill="#000" >-2</text><line x1="1687.3" y1="1906.6" x2="1687.3" y2="1923.9" stroke="#000" stroke-width="2.6"/><text x="1687.3" y="1966.6" font-size="52.5" text-anchor="middle" font-weight="normal" fill="#000" >-1</text><line x1="1779.5" y1="1906.6" x2="1779.5" y2="1923.9" stroke="#000" stroke-width="2.6"/><text x="1779.5" y="1966.6" font-size="52.5" text-anchor="middle" font-weight="normal" fill="#000" >0</text><line x1="1871.7" y1="1906.6" x2="1871.7" y2="1923.9" stroke="#000" stroke-width="2.6"/><text x="1871.7" y="1966.6" font-size="52.5" text-anchor="middle" font-weight="normal" fill="#000" >1</text><line x1="1963.9" y1="1906.6" x2="1963.9" y2="1923.9" stroke="#000" stroke-width="2.6"/><text x="1963.9" y="1966.6" font-size="52.5" text-anchor="middle" font-weight="normal" fill="#000" >2</text><line x1="1495.1" y1="1505.7" x2="1512.5" y2="1505.7" stroke="#000" stroke-width="2.6"/><text x="1480.8" y="1524.7" font-size="52.5" text-anchor="end" font-weight="normal" fill="#000" >2</text><line x1="1495.1" y1="1577.6" x2="1512.5" y2="1577.6" stroke="#000" stroke-width="2.6"/><text x="1480.8" y="1596.6" font-size="52.5" text-anchor="end" font-weight="normal" fill="#000" >1</text><line x1="1495.1" y1="1649.5" x2="1512.5" y2="1649.5" stroke="#000" stroke-width="2.6"/><text x="1480.8" y="1668.5" font-size="52.5" text-anchor="end" font-weight="normal" fill="#000" >0</text><line x1="1495.1" y1="1721.4" x2="1512.5" y2="1721.4" stroke="#000" stroke-width="2.6"/><text x="1480.8" y="1740.4" font-size="52.5" text-anchor="end" font-weight="normal" fill="#000" >-1</text><line x1="1495.1" y1="1793.3" x2="1512.5" y2="1793.3" stroke="#000" stroke-width="2.6"/><text x="1480.8" y="1812.3" font-size="52.5" text-anchor="end" font-weight="normal" fill="#000" >-2</text><text x="1780" y="1424.3" font-size="33.3" text-anchor="middle" font-weight="normal" fill="#000" >Reshuffled years</text><text x="1534.8" y="1468.3" font-size="83" text-anchor="start" font-weight="bold" fill="#000" >e</text><text x="1497.5" y="2020.7" font-size="49.58">Precipitation coef. (×10</text><text x="2005.0" y="1995.7" font-size="35.09">−4</text><text x="2045.2" y="2020.7" font-size="50.00">)</text><text transform="translate(1397.4,1955.0) rotate(-90)" xml:space="preserve"><tspan x="9.1" y="0.0" font-size="49.71">Precipitation</tspan><tspan x="281.3" y="-25.0" font-size="35.50">2</tspan><tspan x="312.8" y="0.0" font-size="49.60">coef.  (×10</tspan><tspan x="547.2" y="-25.0" font-size="35.58">−7</tspan><tspan x="587.8" y="0.0" font-size="50.70">)</tspan></text><clipPath id="clipf"><rect x="1512.5" y="2070.5" width="534.0999999999999" height="514.6"/></clipPath><g clip-path="url(#clipf)"><polygon points="1512.5,2585.1 1512.5,2585.1 1517,2585.1 1521.5,2585.1 1526,2585.1 1530.5,2585.1 1534.9,2585.1 1539.4,2585.1 1543.9,2585.1 1548.4,2585.1 1552.9,2585.1 1557.4,2585.1 1561.9,2585.1 1566.4,2585.1 1570.8,2585 1575.3,2585 1579.8,2585 1584.3,2584.9 1588.8,2584.9 1593.3,2584.8 1597.8,2584.7 1602.3,2584.6 1606.8,2584.5 1611.2,2584.3 1615.7,2584 1620.2,2583.8 1624.7,2583.4 1629.2,2583 1633.7,2582.4 1638.2,2581.8 1642.7,2581 1647.1,2580.1 1651.6,2579 1656.1,2577.7 1660.6,2576.2 1665.1,2574.5 1669.6,2572.5 1674.1,2570.3 1678.6,2567.8 1683.1,2565 1687.5,2561.9 1692,2558.6 1696.5,2554.9 1701,2551 1705.5,2546.9 1710,2542.5 1714.5,2537.9 1719,2533.2 1723.4,2528.5 1727.9,2523.7 1732.4,2518.9 1736.9,2514.3 1741.4,2509.8 1745.9,2505.7 1750.4,2501.8 1754.9,2498.4 1759.4,2495.4 1763.8,2492.9 1768.3,2491.1 1772.8,2489.8 1777.3,2489.2 1781.8,2489.2 1786.3,2489.9 1790.8,2491.2 1795.3,2493.1 1799.7,2495.6 1804.2,2498.6 1808.7,2502 1813.2,2505.9 1817.7,2510.1 1822.2,2514.6 1826.7,2519.2 1831.2,2524 1835.7,2528.8 1840.1,2533.5 1844.6,2538.2 1849.1,2542.8 1853.6,2547.1 1858.1,2551.3 1862.6,2555.2 1867.1,2558.8 1871.6,2562.2 1876,2565.2 1880.5,2568 1885,2570.5 1889.5,2572.7 1894,2574.6 1898.5,2576.3 1903,2577.8 1907.5,2579 1912,2580.1 1916.4,2581 1920.9,2581.8 1925.4,2582.5 1929.9,2583 1934.4,2583.4 1938.9,2583.8 1943.4,2584.1 1947.9,2584.3 1952.3,2584.5 1956.8,2584.6 1961.3,2584.7 1965.8,2584.8 1970.3,2584.9 1974.8,2584.9 1979.3,2585 1983.8,2585 1988.3,2585 1992.7,2585.1 1997.2,2585.1 2001.7,2585.1 2006.2,2585.1 2010.7,2585.1 2015.2,2585.1 2019.7,2585.1 2024.2,2585.1 2028.6,2585.1 2033.1,2585.1 2037.6,2585.1 2042.1,2585.1 2046.6,2585.1 2046.6,2585.1" fill="#cccccc"/><polygon points="2046.6,2070.5 2046.6,2070.5 2046.6,2074.8 2046.6,2079.1 2046.6,2083.5 2046.6,2087.8 2046.6,2092.1 2046.6,2096.4 2046.6,2100.8 2046.6,2105.1 2046.6,2109.4 2046.6,2113.7 2046.6,2118.1 2046.6,2122.4 2046.6,2126.7 2046.5,2131 2046.5,2135.4 2046.5,2139.7 2046.4,2144 2046.4,2148.3 2046.3,2152.7 2046.2,2157 2046.1,2161.3 2045.9,2165.6 2045.7,2170 2045.5,2174.3 2045.2,2178.6 2044.8,2182.9 2044.3,2187.3 2043.7,2191.6 2042.9,2195.9 2042.1,2200.2 2041,2204.6 2039.8,2208.9 2038.4,2213.2 2036.7,2217.5 2034.7,2221.9 2032.5,2226.2 2030,2230.5 2027.2,2234.8 2024.1,2239.2 2020.7,2243.5 2016.9,2247.8 2012.9,2252.1 2008.6,2256.4 2004,2260.8 1999.2,2265.1 1994.3,2269.4 1989.2,2273.7 1984.1,2278.1 1979.1,2282.4 1974.2,2286.7 1969.4,2291 1965,2295.4 1960.9,2299.7 1957.2,2304 1954.1,2308.3 1951.5,2312.7 1949.5,2317 1948.2,2321.3 1947.6,2325.6 1947.8,2330 1948.6,2334.3 1950.1,2338.6 1952.2,2342.9 1955,2347.3 1958.3,2351.6 1962.2,2355.9 1966.4,2360.2 1970.9,2364.6 1975.7,2368.9 1980.7,2373.2 1985.8,2377.5 1990.9,2381.9 1995.9,2386.2 2000.8,2390.5 2005.5,2394.8 2010,2399.2 2014.2,2403.5 2018.2,2407.8 2021.8,2412.1 2025.2,2416.4 2028.2,2420.8 2030.9,2425.1 2033.3,2429.4 2035.4,2433.7 2037.2,2438.1 2038.8,2442.4 2040.2,2446.7 2041.4,2451 2042.4,2455.4 2043.2,2459.7 2043.9,2464 2044.4,2468.3 2044.9,2472.7 2045.3,2477 2045.6,2481.3 2045.8,2485.6 2046,2490 2046.1,2494.3 2046.2,2498.6 2046.3,2502.9 2046.4,2507.3 2046.5,2511.6 2046.5,2515.9 2046.5,2520.2 2046.5,2524.6 2046.6,2528.9 2046.6,2533.2 2046.6,2537.5 2046.6,2541.9 2046.6,2546.2 2046.6,2550.5 2046.6,2554.8 2046.6,2559.2 2046.6,2563.5 2046.6,2567.8 2046.6,2572.1 2046.6,2576.5 2046.6,2580.8 2046.6,2585.1 2046.6,2585.1" fill="#cccccc"/><polygon points="1873.8,2414.8 1873.9,2417.2 1871.3,2417.1 1869.1,2417.3 1869.5,2420.2 1868.4,2421.6 1864.8,2420.4 1863.8,2422 1859.6,2420.1 1855.9,2418.6 1851.2,2415.9 1847,2413.9 1843.1,2412 1839.3,2410.4 1835.6,2408.8 1832.2,2407.8 1828.2,2406.1 1823.4,2403.1 1818.3,2399.6 1813.2,2395.9 1808.2,2392.4 1803.3,2389 1798,2384.5 1793.1,2381.3 1788,2377.6 1782.8,2371.9 1777.7,2368.5 1772.6,2364.4 1767.4,2360.1 1762.6,2355 1757,2351.2 1752.2,2346.3 1747.2,2341.6 1742,2336.8 1736.5,2332 1732,2327 1727.5,2322.1 1723.3,2317.2 1720.6,2312.7 1717.3,2308.2 1713.3,2303.5 1709.9,2299 1705.8,2294.3 1702.9,2290 1698.5,2285 1695.3,2280.6 1692.9,2276.6 1690,2272.3 1686.3,2267.4 1684.7,2263.8 1683.6,2260.7 1682.5,2257.5 1682.1,2254.8 1681.5,2252.1 1682.3,2250.5 1681.5,2247.6 1681.2,2245.1 1681,2242.6 1680.7,2240.1 1680.2,2237.3 1681.4,2236 1682.3,2234.5 1683.7,2233.4 1684.9,2232.1 1687.3,2232 1690.2,2232.4 1692.9,2232.7 1696.3,2233.7 1701,2236.2 1702.6,2235.2 1705.5,2235.6 1709.2,2237.1 1712.8,2238.3 1716.4,2239.6 1721.6,2243 1726.7,2246.4 1731.1,2248.8 1736.2,2252.4 1740.9,2255.4 1745.8,2258.7 1750.7,2262.1 1755.7,2265.9 1760.5,2268.6 1765.6,2272.4 1770.8,2276.9 1775.9,2280 1781.2,2284 1786.4,2288.9 1791.7,2293.3 1797.4,2297.1 1802.6,2302.1 1807.9,2307 1812.7,2312.2 1817.5,2317.2 1822.1,2322.2 1826.7,2327.2 1831,2332.1 1835.9,2337.1 1841.6,2342.3 1844.3,2346.9 1847.6,2351.4 1851.1,2356 1855.4,2361 1857.4,2364.9 1861.5,2369.8 1864.5,2374.2 1866.5,2378 1868,2381.5 1869.7,2385 1871,2388.3 1875.6,2393.8 1877.7,2397.7 1878.8,2400.9 1879.8,2404 1881.4,2407.7 1877.5,2406.8 1876.8,2408.4 1876.8,2410.7 1877.4,2413.5 1873.6,2412.4" fill="#a2a2a2" stroke="#a2a2a2" stroke-width="3" stroke-linejoin="round"/><path d="M1591 2152 1592 2219 1605 2140 1625 2150 1950 2500 1935 2506 1960 2470 1816 2335 1846 2407 1728 2308 1650 2193 1726 2327 1628 2189 1835 2395 1813 2380 1732 2257 1664 2213 1686 2255 1835 2397 1723 2248 1689 2280 1787 2359 1829 2397 1850 2364 1835 2398 1835 2395 1740 2268 1689 2272 1647 2214 1791 2386 1771 2273 1688 2228 1920 2465 1647 2214 1664 2230 1705 2287 1838 2358 1775 2364 1670 2247 1858 2366 1886 2413 1690 2269 1849 2436 1834 2402 1892 2449 1871 2404 1802 2386 1706 2242 1769 2284 1763 2286 1875 2406 1796 2313 1683 2264 1838 2396 1893 2429 1937 2472 1705 2234 1883 2409 1896 2397 1792 2369 1695 2248 1687 2252 1691 2239 1777 2296 1747 2266 1677 2251 1772 2291 1697 2276 1747 2330 1660 2191 1841 2407 1849 2372 1776 2356 1875 2427 1860 2417 1673 2268 1673 2209 1685 2244 1800 2317 1761 2283 1757 2338 1725 2298 1860 2374 1734 2255 1840 2356 1839 2361 1696 2279 1696 2235 1838 2405 1683 2228 1656 2234 1864 2406 1807 2325 1693 2241 1701 2241 1748 2326 1753 2263 1753 2278 1700 2258 1894 2444 1691 2247 1709 2277 1651 2210 1752 2275 1823 2393 1735 2310 1757 2339 1870 2400 1685 2221 1829 2401 1746 2354 1745 2327 1860 2416 1715 2250 1833 2394 1895 2425 1701 2266 1740 2260 1667 2225 1706 2288 1806 2312 1699 2244 1767 2286 1707 2286 1740 2268 1685 2236 1861 2382 1861 2402 1658 2213 1700 2254 1821 2331 1913 2462 1832 2396 1856 2421 1757 2335 1763 2342 1665 2240 1843 2398 1614 2193 1731 2241 1832 2402 1752 2273 1682 2261 1874 2381 1831 2334 1900 2416 1883 2440 1961 2485 1822 2390 1879 2408 1872 2398 1789 2365 1723 2334 1888 2423 1696 2272 1684 2243 1892 2397 1779 2284 1719 2255 1836 2358 1865 2382 1867 2432 1885 2424 1859 2405 1898 2418 1687 2237 1696 2263 1719 2306 1921 2464 1753 2275 1666 2215 1824 2343 1841 2361 1776 2287 1670 2240 1780 2357 1856 2415 1785 2364 1855 2384 1676 2202 1702 2282 1751 2340 1790 2301 1664 2237 1855 2409 1842 2340 1861 2402 1816 2382 1697 2226 1877 2415 1705 2283 1779 2291 1802 2310 1873 2406 1820 2330 1880 2402 1867 2390 1865 2367 1674 2262 1718 2307 1894 2431 1812 2328 1845 2370 1806 2317 1855 2407 1886 2432 1707 2284 1868 2388 1822 2400 1655 2181 1812 2324 1828 2344 1662 2207 1720 2258 1827 2394 1699 2252 1803 2311 1817 2396 1822 2329 1789 2300 1869 2405 1776 2354 1837 2396 1901 2441 1821 2338 1922 2424 1880 2432 1917 2455 1704 2246 1691 2236 1755 2348 1854 2367 1880 2396 1681 2251 1794 2373 1695 2235 1764 2340 1875 2392 1744 2273 1742 2327 1797 2369 1699 2253 1848 2420 1805 2379 1843 2351 1799 2309 1660 2230 1806 2326 1758 2353 1798 2302 1914 2457 1696 2249 1745 2265 1694 2241 1808 2318 1901 2429 1773 2286 1710 2252 1845 2359 1897 2439 1802 2314 1672 2218 1902 2435 1773 2352 1707 2231 1694 2249 1626 2181 1688 2253 1838 2345 1697 2260 1792 2370 1757 2283 1822 2338 1875 2407 1816 2410 1732 2307 1784 2304 1687 2238 1845 2404 1733 2318 1857 2398 1789 2369 1752 2279 1686 2260 1745 2330 1916 2424 1707 2289 1880 2422 1856 2400 1880 2450 1707 2245 1795 2310 1872 2419 1726 2323 1715 2290 1859 2400 1878 2404 1828 2330 1890 2415 1672 2231 1886 2402 1875 2402 1771 2293 1865 2395 1711 2236 1880 2420 1727 2254 1858 2384 1713 2290 1676 2278 1736 2261 1805 2378 1791 2298 1690 2229 1823 2342 1813 2327 1747 2326 1813 2399 1837 2400 1785 2298 1629 2200 1747 2275 1897 2417 1869 2386 1838 2407 1930 2463 1740 2338 1852 2406 1835 2355 1734 2265 1814 2396 1701 2277 1886 2438 1694 2271 1886 2414 1835 2351 1687 2256 1844 2423 1709 2246 1848 2367 1811 2331 1685 2232 1748 2325 1749 2264 1865 2384 1818 2392 1735 2264 1922 2462 1844 2366 1717 2245 1781 2288 1891 2433 1693 2234 1869 2388 1690 2253 1869 2405 1816 2386 1821 2342 1692 2240 1762 2281 1896 2427 1817 2392 1806 2316 1698 2255 1733 2331 1865 2405 1750 2272 1784 2378 1918 2443 1665 2249 1656 2229 1831 2345 1771 2352 1790 2369 1790 2307 1854 2365 1868 2420 1780 2360 1857 2371 1703 2253 1701 2254 1648 2224 1736 2311 1813 2386 1913 2440 1719 2295 1820 2398 1674 2243 1689 2244 1863 2406 1698 2226 1864 2411 1707 2233 1710 2230 1683 2245 1737 2268 1798 2310 1679 2238 1748 2275 1674 2265 1700 2235 1816 2385 1879 2417 1682 2219 1717 2256 1841 2400 1778 2276 1730 2262 1790 2302 1709 2294 1852 2372 1649 2236 1781 2364 1763 2345 1849 2374 1654 2198 1864 2414 1659 2211 1856 2386 1691 2254 1778 2358 1702 2271 1875 2382 1727 2260 1869 2395 1612 2164 1679 2220 1889 2417 1808 2326 1877 2429 1830 2341 1729 2254 1871 2385 1868 2384 1895 2465 1835 2404 1726 2259 1706 2277 1779 2356 1663 2202 1851 2354 1714 2246 1891 2395 1657 2231 1868 2409 1705 2286 1761 2270 1674 2232 1858 2392 1818 2393 1731 2305 1894 2408 1771 2281 1734 2317 1756 2278 1863 2406 1741 2345 1800 2312 1711 2235 1751 2342 1725 2329 1706 2240 1655 2199 1759 2285 1711 2247 1795 2310 1679 2253 1726 2257 1867 2387 1866 2368 1860 2420 1737 2245 1696 2263 1765 2354 1755 2268 1890 2408 1807 2305 1709 2234 1730 2312 1685 2276 1728 2263 1711 2255 1869 2425 1780 2294 1815 2325 1772 2350 1827 2394 1875 2442 1713 2284 1853 2371 1749 2341 1729 2334 1865 2426 1717 2250 1874 2412 1696 2239 1744 2324 1721 2256 1755 2274 1819 2415 1686 2261 1704 2271 1781 2358 1776 2355 1894 2420 1835 2355 1803 2323 1847 2423 1856 2378 1749 2326 1750 2329 1714 2315 1753 2254 1734 2263 1772 2348 1752 2271 1754 2278 1857 2417 1656 2202 1877 2378 1723 2248 1780 2354 1729 2311 1805 2324 1901 2455 1708 2239 1696 2285 1669 2226 1707 2234 1760 2283 1785 2306 1863 2386 1776 2354 1871 2399 1817 2393 1660 2247 1692 2228 1773 2293 1883 2408 1684 2239 1653 2229 1703 2248 1820 2340 1784 2377 1686 2260 1851 2376 1695 2267 1691 2259 1801 2385 1700 2265 1864 2380 1721 2247 1798 2375 1883 2443 1778 2356 1672 2237 1741 2271 1794 2314 1669 2231 1883 2433 1845 2356 1912 2445 1735 2263 1749 2325 1862 2405 1688 2206 1775 2297 1755 2280 1700 2252 1891 2434 1836 2414 1743 2327 1719 2295 1878 2389 1813 2331 1847 2345 1794 2387 1914 2399 1857 2422 1693 2258 1841 2412 1898 2455 1696 2233 1871 2423 1780 2359 1732 2258 1857 2414 1878 2416 1659 2210 1682 2251 1698 2240 1856 2424 1694 2234 1853 2382 1694 2252 1737 2265 1870 2391 1931 2491 1685 2226 1807 2322 1718 2295 1905 2424 1828 2331 1874 2438 1729 2307 1721 2321 1831 2348 1677 2242 1750 2265 1873 2396 1817 2325 1863 2416 1769 2286 1751 2268 1752 2274 1719 2305 1848 2342 1776 2351 1807 2381 1878 2401 1826 2397 1707 2225 1728 2310 1759 2258 1831 2350 1821 2328 1699 2242 1811 2389 1858 2400 1735 2267 1882 2434 1756 2271 1813 2333 1851 2378 1878 2389 1897 2454 1690 2256 1819 2394 1829 2406 1708 2280 1805 2303 1686 2272 1745 2321 1684 2238 1676 2250 1902 2439 1897 2425 1860 2388 1770 2277 1834 2395 1843 2398 1737 2266 1864 2369 1890 2426 1854 2409 1875 2396 1844 2355 1903 2403 1771 2346 1820 2326 1669 2244 1860 2412 1747 2273 1900 2436 1688 2261 1807 2380 1813 2325 1793 2309 1725 2249 1883 2437 1759 2353 1638 2168 1652 2209 1879 2429 1717 2248 1771 2292 1694 2256 1865 2396 1879 2424 1799 2378 1731 2314 1881 2430 1821 2339 1856 2377 1755 2344 1797 2316 1727 2321 1903 2438 1707 2292 1713 2255 1710 2252 1775 2355 1648 2190 1683 2232 1820 2394 1753 2336 1740 2327 1878 2409 1724 2298 1651 2189 1702 2222 1675 2249 1794 2366 1926 2487 1795 2369 1919 2444 1683 2229 1888 2417 1695 2280 1697 2235 1832 2350 1700 2252 1677 2214 1821 2390 1847 2348 1701 2241 1709 2279 1735 2266 1866 2420 1739 2314 1909 2468 1891 2449 1845 2367 1702 2284 1907 2411 1719 2255 1743 2319 1829 2326 1862 2384 1858 2399 1738 2266 1837 2351 1761 2280 1774 2353 1866 2398 1850 2428 1724 2260 1871 2412 1755 2280 1769 2351 1680 2235 1741 2320 1644 2223 1827 2397 1860 2430 1837 2403 1803 2323 1724 2311 1859 2412 1724 2253 1918 2438 1783 2361 1752 2267 1714 2245 1737 2259 1754 2279 1707 2247 1899 2433 1801 2315 1889 2419 1749 2270 1661 2222 1796 2314 1883 2399 1841 2364 1880 2430 1687 2242 1856 2407 1738 2327 1866 2428 1818 2322 1924 2437 1683 2271 1783 2294 1837 2402 1809 2378 1705 2240 1710 2253 1701 2242 1829 2400 1799 2315 1708 2246 1697 2266 1859 2391 1710 2288 1676 2235 1862 2409 1694 2263 1689 2228 1871 2387 1876 2377 1723 2299 1674 2254 1859 2382 1902 2423 1867 2418 1858 2395 1734 2257 1850 2374 1704 2273 1703 2274 1851 2379 1673 2239 1871 2421 1860 2389 1865 2391 1799 2281 1863 2373 1731 2317 1775 2349 1866 2398 1858 2378 1671 2263 1673 2245 1755 2275 1703 2230 1697 2286 1802 2373 1688 2238 1701 2253 1720 2309 1816 2337 1792 2364 1710 2244 1701 2254 1866 2434 1847 2415 1859 2391 1858 2379 1852 2412 1853 2417 1685 2212 1813 2332 1905 2419 1870 2412 1819 2397 1710 2244 1738 2323 1676 2242 1701 2234 1732 2323 1871 2413 1858 2384 1856 2442 1694 2279 1727 2322 1824 2342 1761 2342 1688 2244 1869 2405 1886 2402 1866 2414 1743 2327 1762 2338 1699 2258 1845 2363 1918 2445 1850 2376 1786 2365 1762 2351 1896 2451 1856 2371 1669 2225 1815 2388 1852 2365 1893 2448 1725 2247 1688 2259 1823 2387 1825 2343 1634 2190 1759 2282 1707 2243 1704 2296 1786 2305 1732 2265 1736 2315 1830 2351 1857 2354 1831 2399 1842 2402 1680 2197 1765 2283 1859 2401 1762 2341 1714 2285 1687 2251 1645 2211 1736 2317 1819 2325 1866 2443 1941 2486 1834 2355 1815 2327 1876 2415 1685 2263 1851 2375 1872 2367 1913 2462 1705 2288 1844 2368 1729 2255 1855 2421 1858 2377 1707 2279 1664 2217 1711 2288 1764 2339 1777 2351 1674 2234 1670 2216 1694 2240 1920 2416 1781 2359 1658 2261 1765 2353 1717 2296 1743 2320 1812 2327 1727 2261 1872 2406 1812 2385 1779 2352 1633 2186 1860 2416 1815 2389 1884 2438 1701 2262 1885 2446 1891 2439 1847 2416 1822 2388 1747 2331 1725 2316 1692 2252 1765 2348 1862 2400 1677 2237 1853 2408 1745 2324 1854 2409 1669 2243 1706 2253 1726 2305 1868 2401 1726 2304 1727 2303 1850 2373 1672 2233 1865 2392 1815 2384 1875 2440 1764 2284 1669 2228 1694 2246 1844 2365 1802 2317 1714 2306 1840 2364 1866 2366 1713 2254 1709 2283 1892 2429 1699 2249 1867 2386 1802 2382 1903 2387 1642 2221 1851 2434 1799 2314 1762 2277 1705 2281 1824 2337 1750 2255 1784 2360 1754 2359 1797 2300 1788 2292 1860 2388 1864 2373 1926 2456 1845 2371 1639 2172 1855 2372 1711 2254 1715 2298 1705 2240 1867 2411 1745 2322 1730 2259 1878 2406 1772 2292 1844 2399 1750 2338 1855 2427 1724 2313 1826 2331 1886 2416 1745 2255 1662 2231 1746 2330 1865 2399 1764 2365 1754 2331 1816 2334 1694 2221 1712 2247 1845 2406 1689 2228 1805 2319 1894 2409 1882 2407 1843 2361 1632 2209 1700 2275 1816 2329 1698 2289 1858 2386 1886 2394 1848 2400 1866 2408 1706 2226 1706 2242 1777 2351 1780 2356 1712 2241 1805 2319 1887 2458 1857 2436 1863 2390 1755 2273 1905 2432 1850 2357 1877 2418 1901 2425 1678 2207 1756 2277 1697 2291 1694 2229 1677 2254 1729 2261 1774 2294 1732 2263 1776 2370 1821 2342 1873 2437 1713 2285 1891 2431 1850 2373 1772 2290 1717 2249 1712 2298 1761 2283 1898 2442 1665 2207 1906 2431 1710 2233 1805 2322 1649 2225 1739 2330 1775 2352 1797 2380 1784 2370 1745 2331 1838 2325 1819 2338 1778 2295 1870 2409 1855 2374 1682 2237 1673 2223 1870 2430 1848 2406 1779 2354 1789 2372 1740 2265 1907 2437 1869 2398 1856 2377 1704 2246 1681 2252 1714 2285 1808 2377 1888 2444 1661 2233 1707 2250 1736 2257 1716 2237 1724 2249 1826 2390 1701 2253 1767 2347 1805 2320 1632 2190 1871 2407 1699 2270 1657 2221 1867 2435 1880 2402 1802 2319 1721 2249 1799 2381 1802 2382 1720 2295 1809 2320 1838 2354 1649 2243 1863 2404 1890 2435 1704 2287 1717 2255 1795 2311 1666 2226 1745 2321 1704 2287 1857 2432 1888 2410 1623 2157 1695 2286 1854 2383 1862 2427 1860 2419 1742 2270 1713 2255 1757 2280 1803 2321 1707 2291 1652 2247 1890 2423 1871 2438 1753 2273 1845 2351 1692 2240 1712 2255 1679 2238 1868 2419 1786 2304 1702 2244 1722 2294 1661 2198 1622 2183 1780 2366 1602 2190 1729 2247 1803 2314 1700 2264 1848 2415 1727 2245 1776 2364 1688 2264 1873 2417 1700 2260 1697 2241 1694 2218 1691 2232 1730 2260 1655 2211 1746 2333 1681 2247 1840 2363 1880 2422 1838 2357 1884 2407 1749 2330 1636 2195 1896 2442 1754 2332 1794 2365 1722 2304 1858 2404 1852 2377 1662 2209 1864 2421 1795 2312 1736 2315 1866 2377 1801 2319 1857 2404 1816 2396 1865 2416 1863 2392 1672 2257 1835 2397 1690 2234 1826 2342 1690 2246 1702 2256 1802 2372 1808 2325 1729 2304 1678 2248 1796 2314 1747 2346 1705 2273 1704 2241 1687 2269 1825 2324 1790 2303 1827 2337 1948 2473 1667 2183 1637 2208 1701 2269 1728 2302 1721 2257 1752 2329 1816 2382 1855 2409 1715 2250 1699 2274 1649 2239 1745 2272 1854 2406 1706 2274 1777 2286 1852 2422 1918 2435 1855 2387 1702 2269 1845 2402 1875 2418 1690 2244 1690 2274 1865 2411 1855 2412 1699 2279 1674 2240 1741 2270 1672 2208 1662 2252 1743 2325 1819 2333 1857 2392 1852 2377 1677 2245 1681 2245 1677 2229 1823 2390 1860 2397 1747 2254 1704 2277 1815 2325 1706 2296 1691 2275 1859 2386 1743 2268 1880 2422 1764 2343 1850 2374 1674 2257 1869 2391 1684 2229 1736 2254 1808 2390 1671 2248 1686 2282 1818 2383 1864 2381 1796 2368 1782 2356 1784 2373 1829 2350 1687 2269 1777 2294 1735 2253 1884 2450 1798 2315 1706 2253 1720 2295 1687 2224 1690 2266 1886 2415 1691 2253 1700 2238 1694 2254 1686 2272 1818 2334 1652 2207 1675 2253 1692 2248 1696 2230 1597 2176 1713 2226 1850 2371 1702 2252 1740 2345 1732 2259 1736 2324 1729 2307 1882 2430 1707 2281 1823 2342 1839 2405 1724 2301 1857 2381 1687 2234 1868 2368 1790 2310 1840 2416 1679 2221 1729 2248 1780 2360 1780 2298 1660 2242 1860 2399 1863 2373 1849 2365 1721 2311 1700 2249 1755 2276 1707 2274 1810 2387 1849 2412 1686 2229 1706 2272 1709 2253 1683 2254 1844 2412 1835 2356 1626 2217 1774 2362 1701 2279 1685 2248 1687 2234 1810 2383 1725 2299 1698 2261 1845 2408 1742 2266 1828 2390 1727 2250 1704 2270 1765 2288 1895 2445 1857 2364 1855 2371 1809 2384 1818 2328 1873 2397 1793 2389 1857 2389 1896 2428 1704 2271 1784 2303 1806 2382 1770 2350 1705 2276 1724 2298 1720 2300 1863 2392 1840 2362 1762 2343 1721 2252 1881 2417 1860 2381 1713 2232 1689 2242 1827 2409 1757 2336 1863 2423 1728 2245 1877 2415 1927 2481 1831 2350 1830 2349 1909 2422 1721 2246 1857 2386 1891 2436 1778 2273 1761 2344 1844 2362 1723 2318 1840 2410 1754 2330 1767 2345 1856 2412 1795 2367 1689 2246 1823 2393 1702 2230 1796 2369 1848 2373 1674 2231 1889 2426 1733 2317 1685 2215 1737 2323 1668 2229 1824 2323 1782 2359 1699 2254 1824 2394 1703 2266 1747 2271 1816 2325 1646 2241 1864 2405 1749 2344 1752 2335 1736 2315 1711 2239 1779 2367 1676 2227 1785 2293 1692 2225 1656 2210 1716 2293 1809 2382 1663 2242 1712 2250 1879 2425 1843 2407 1783 2301 1860 2359 1676 2273 1800 2376 1694 2247 1871 2375 1772 2346 1687 2249 1738 2316 1842 2405 1860 2399 1688 2251 1791 2309 1843 2360 1815 2382 1674 2250 1785 2289 1785 2368 1887 2432 1830 2402 1887 2414 1784 2295 1827 2329 1730 2253 1861 2418 1781 2301 1762 2282 1855 2407 1860 2430 1841 2364 1892 2411 1862 2398 1772 2292 1806 2384 1801 2318 1777 2355 1859 2408 1751 2276 1635 2209 1765 2357 1886 2413 1848 2407 1783 2304 1793 2302 1854 2378 1689 2253 1700 2260 1860 2388 1780 2274 1918 2469 1865 2377 1873 2418 1894 2430 1870 2410 1831 2395 1857 2378 1836 2403 1703 2252 1653 2202 1693 2230 1829 2349 1702 2241 1727 2307 1773 2360 1739 2261 1779 2362 1803 2390 1888 2431 1819 2334 1653 2189 1736 2337 1909 2468 1903 2459 1867 2399 1730 2311 1778 2293 1925 2466 1748 2275 1870 2420 1809 2329 1803 2317 1806 2375 1774 2358 1723 2315 1916 2473 1816 2333 1793 2297 1688 2236 1658 2235 1817 2335 1701 2246 1793 2297 1886 2445 1696 2266 1865 2412 1846 2370 1855 2381 1727 2303 1826 2343 1675 2210 1703 2276 1716 2294 1700 2273 1777 2278 1735 2327 1662 2213 1920 2454 1698 2268 1720 2292 1673 2236 1869 2372 1718 2299 1712 2295 1688 2236 1778 2296 1801 2377 1604 2163 1809 2328 1761 2341 1865 2407 1825 2393 1782 2301 1897 2433 1841 2414 1710 2250 1886 2397 1814 2383 1784 2304 1918 2405 1723 2255 1743 2324 1881 2411 1855 2409 1696 2251 1670 2205 1843 2346 1742 2317 1857 2412 1864 2410 1861 2400 1798 2392 1803 2384 1705 2279 1815 2402 1659 2244 1886 2430 1885 2442 1866 2399 1804 2383 1859 2393 1855 2368 1640 2249 1709 2285 1875 2426 1693 2259 1750 2265 1744 2321 1830 2397 1779 2361 1841 2353 1734 2311 1860 2381 1704 2244 1686 2256 1799 2319 1862 2393 1797 2310 1702 2234 1857 2411 1858 2416 1806 2319 1878 2414 1716 2312 1738 2313 1723 2258 1701 2279 1861 2397 1863 2382 1916 2450 1715 2245 1728 2311 1763 2358 1734 2311 1762 2282 1866 2384 1852 2378 1679 2250 1883 2405 1806 2321 1703 2253 1793 2292 1790 2379 1752 2336 1801 2382 1759 2338 1864 2408 1867 2424 1831 2340 1727 2302 1843 2365 1690 2260 1858 2409 1786 2367 1841 2401 1770 2293 1872 2436 1768 2278 1875 2425 1841 2401 1682 2238 1862 2375 1698 2243 1779 2298 1772 2279 1662 2241 1772 2293 1792 2369 1906 2415 1840 2356 1809 2377 1770 2355 1704 2295 1902 2416 1911 2419 1671 2227 1860 2395 1851 2406 1712 2306 1831 2345 1714 2291 1800 2377 1840 2402 1749 2330 1780 2293 1703 2254 1707 2278 1821 2339 1873 2388 1759 2350 1815 2400 1900 2442 1800 2375 1705 2245 1878 2413 1750 2256 1845 2402 1716 2246 1819 2339 1721 2300 1811 2387 1907 2449 1786 2292 1846 2361 1843 2401 1782 2361 1736 2336 1863 2388 1879 2393 1767 2288 1785 2299 1841 2359 1845 2406 1871 2408 1871 2422 1703 2222 1706 2253 1817 2387 1891 2425 1786 2299 1712 2284 1823 2325 1772 2287 1695 2244 1773 2292 1735 2314 1793 2371 1699 2267 1686 2260 1670 2208 1888 2429 1861 2355 1695 2265 1726 2243 1868 2424 1837 2353 1685 2282 1719 2247 1756 2278 1711 2299 1845 2368 1820 2394 1833 2404 1748 2268 1688 2250 1627 2202 1681 2246 1741 2320 1799 2378 1861 2412 1856 2386 1859 2429 1818 2388 1835 2349 1829 2399 1739 2320 1781 2297 1766 2344 1874 2411 1750 2267 1803 2306 1724 2258 1734 2317 1844 2365 1839 2356 1740 2270 1735 2311 1678 2234 1708 2249 1747 2324 1771 2355 1871 2392 1715 2288 1750 2272 1832 2404 1915 2411 1898 2389 1860 2386 1745 2349 1877 2420 1735 2322 1875 2406 1732 2262 1710 2229 1826 2395 1809 2379 1832 2344 1698 2273 1764 2372 1726 2255 1780 2355 1913 2429 1782 2299 1864 2420 1629 2180 1721 2319 1832 2345 1769 2345 1769 2344 1905 2413 1788 2306 1718 2246 1796 2375 1839 2402 1831 2350 1921 2448 1705 2254 1860 2378 1639 2207 1701 2252 1839 2348 1846 2365 1748 2327 1880 2423 1695 2237 1738 2265 1829 2392 1717 2250 1910 2409 1809 2328 1877 2391 1660 2224 1843 2368 1850 2364 1712 2251 1742 2271 1714 2298 1715 2232 1814 2325 1674 2225 1801 2314 1721 2251 1882 2402 1706 2242 1892 2397 1837 2354 1782 2303 1682 2208 1714 2296 1690 2238 1698 2247 1864 2417 1733 2314 1654 2245 1697 2241 1806 2323 1658 2196 1781 2296 1849 2372 1774 2296 1682 2234 1764 2284 1693 2284 1679 2225 1809 2330 1691 2231 1716 2232 1871 2406 1852 2360 1742 2318 1827 2345 1866 2409 1781 2298 1828 2345 1742 2322 1735 2267 1840 2359 1791 2301 1783 2364 1706 2226 1679 2236 1775 2296 1688 2240 1696 2284 1851 2368 1837 2404 1858 2410 1752 2329 1737 2252 1875 2421 1867 2392 1696 2231 1832 2350 1679 2247 1672 2225 1710 2241 1814 2331 1819 2398 1845 2400 1716 2235 1837 2344 1798 2372 1674 2224 1649 2206 1691 2246 1691 2244 1857 2419 1725 2251 1725 2302 1877 2403 1866 2382 1698 2253 1796 2382 1873 2418 1775 2296 1877 2413 1905 2437 1866 2394 1710 2285 1704 2278 1678 2212 1903 2429 1880 2402 1810 2387 1851 2401 1643 2236 1804 2390 1763 2285 1865 2407 1899 2416 1853 2410 1833 2347 1843 2418 1717 2290 1663 2246 1730 2306 1863 2383 1711 2245 1729 2303 1713 2292 1851 2362 1871 2403 1593 2180 1886 2434 1727 2255 1846 2367 1785 2307 1703 2254 1744 2258 1857 2352 1852 2409 1672 2263 1882 2414 1839 2363 1865 2400 1826 2394 1696 2250 1746 2329 1755 2334 1732 2241 1676 2241 1769 2287 1851 2420 1694 2274 1756 2332 1682 2215 1659 2246 1603 2163 1731 2264 1688 2241 1893 2444 1885 2425 1900 2461 1662 2226 1766 2287 1844 2408 1685 2220 1805 2325 1867 2413 1729 2263 1687 2259 1691 2250 1870 2398 1791 2368 1888 2447 1728 2305 1728 2255 1908 2457 1744 2266 1890 2430 1786 2306 1801 2381 1807 2386 1697 2244 1776 2358 1786 2307 1708 2280 1779 2300 1758 2338 1842 2362 1658 2211 1828 2408 1883 2437 1902 2432 1660 2225 1671 2204 1665 2215 1908 2449 1855 2373 1725 2261 1727 2307 1691 2263 1860 2388 1769 2279 1720 2306 1768 2353 1688 2213 1727 2261 1727 2262 1831 2345 1863 2377 1716 2252 1920 2488 1765 2351 1646 2199 1691 2258 1899 2429 1744 2324 1747 2324 1758 2269 1839 2333 1806 2311 1670 2252 1728 2325 1642 2195 1831 2352 1757 2335 1934 2481 1850 2400 1814 2332 1849 2357 1688 2254 1734 2341 1926 2454 1876 2401 1799 2382 1857 2405 1750 2337 1710 2250 1668 2223 1854 2374 1868 2415 1653 2198 1686 2274 1687 2268 1741 2266 1676 2243 1854 2407 1792 2292 1723 2318 1725 2304 1648 2195 1703 2267 1871 2400 1693 2249 1768 2348 1790 2289 1814 2382 1898 2425 1907 2402 1852 2370 1729 2247 1833 2353 1856 2361 1735 2313 1690 2242 1859 2383 1715 2291 1788 2301 1788 2361 1903 2433 1715 2310 1736 2318 1704 2252 1752 2328 1722 2253 1885 2424 1864 2418 1859 2404 1863 2402 1735 2257 1698 2281 1839 2403 1740 2268 1811 2302 1824 2396 1732 2314 1891 2415 1759 2338 1871 2434 1846 2402 1712 2294 1855 2350 1829 2339 1766 2289 1865 2399 1884 2428 1684 2248 1677 2244 1804 2321 1801 2377 1746 2329 1760 2344 1868 2360 1786 2361 1737 2312 1787 2363 1768 2346 1850 2404 1739 2252 1925 2464 1694 2198 1775 2291 1768 2345 1703 2236 1711 2285 1714 2302 1842 2360 1801 2371 1685 2252 1773 2351 1758 2278 1789 2367 1910 2441 1751 2276 1690 2256 1688 2237 1895 2429 1681 2205 1685 2243 1758 2342 1650 2210 1773 2351 1717 2292 1654 2202 1767 2284 1768 2281 1682 2252 1847 2425 1861 2369 1667 2227 1716 2255 1691 2271 1841 2403 1862 2389 1866 2442 1771 2278 1878 2423 1735 2259 1862 2388 1798 2371 1637 2189 1813 2323 1864 2424 1667 2230 1636 2213 1666 2209 1909 2449 1895 2457 1747 2273 1700 2236 1717 2255 1817 2394 1820 2389 1868 2408 1686 2242 1753 2276 1851 2370 1836 2397 1665 2205 1949 2457 1821 2394 1885 2415 1721 2254 1709 2279 1813 2332 1890 2427 1703 2276 1892 2419 1748 2269 1734 2265 1883 2424 1734 2261 1763 2343 1668 2252 1868 2430 1838 2400 1809 2315 1775 2290 1705 2274 1824 2344 1871 2434 1707 2281 1759 2284 1693 2262 1717 2292 1867 2416 1816 2399 1872 2400 1852 2400 1881 2423 1723 2307 1924 2450 1782 2302 1849 2365 1697 2251 1704 2243 1841 2365 1692 2259 1690 2276 1864 2387 1864 2370 1736 2261 1847 2367 1888 2420 1712 2288 1706 2235 1802 2321 1696 2281 1686 2233 1671 2249 1689 2234 1708 2279 1895 2439 1863 2381 1872 2418 1694 2267 1768 2356 1873 2404 1701 2271 1785 2360 1680 2259 1675 2232 1673 2238 1700 2238 1729 2306 1877 2433 1898 2412 1700 2254 1817 2393 1786 2367 1715 2221 1741 2267 1734 2313 1767 2345 1872 2423 1947 2474 1877 2428 1827 2345 1700 2291 1864 2421 1798 2380 1700 2239 1729 2261 1680 2250 1701 2288 1748 2332 1840 2426 1772 2294 1778 2369 1797 2315 1717 2256 1767 2278 1831 2393 1766 2287 1667 2240 1830 2399 1818 2332 1842 2397 1687 2262 1877 2404 1658 2222 1698 2270 1837 2347 1723 2242 1691 2276 1795 2312 1700 2279 1804 2392 1878 2420 1733 2260 1868 2435 1695 2234 1707 2289 1875 2419 1866 2390 1858 2399 1902 2426 1656 2191 1773 2347 1685 2261 1797 2313 1830 2344 1871 2409 1817 2394 1660 2232 1687 2240 1764 2347 1755 2333 1823 2341 1683 2228 1758 2348 1928 2447 1813 2397 1712 2308 1731 2315 1663 2255 1887 2409 1733 2325 1901 2430 1862 2396 1880 2443 1833 2341 1810 2323 1710 2284 1745 2346 1876 2406 1756 2332 1875 2401 1677 2252 1837 2404 1857 2382 1686 2267 1753 2332 1861 2411 1798 2374 1690 2266 1684 2226 1875 2418 1660 2218 1839 2404 1854 2378 1869 2391 1778 2358 1703 2285 1659 2218 1785 2365 1855 2400 1718 2256 1729 2262 1724 2241 1850 2403 1856 2412 1711 2300 1779 2357 1683 2232 1800 2371 1691 2236 1640 2229 1793 2311 1857 2409 1750 2345 1677 2249 1688 2237 1885 2438 1878 2451 1688 2257 1884 2407 1802 2375 1745 2337 1713 2241 1858 2402 1674 2237 1738 2315 1827 2394 1807 2379 1795 2371 1842 2357 1669 2230 1733 2312 1857 2370 1702 2235 1695 2245 1839 2405 1864 2383 1700 2238 1704 2248 1683 2233 1828 2342 1820 2400 1856 2388 1734 2327 1871 2409 1686 2259 1858 2444 1726 2310 1774 2352 1712 2315 1708 2252 1823 2401 1849 2353 1701 2282 1813 2382 1649 2213 1922 2439 1911 2428 1698 2286 1831 2349 1770 2362 1891 2442 1710 2232 1832 2327 1753 2274 1723 2307 1865 2398 1868 2404 1802 2320 1879 2398 1809 2384 1700 2218 1711 2253 1841 2412 1849 2400 1699 2216 1714 2291 1686 2276 1862 2400 1835 2350 1752 2330 1853 2403 1652 2218 1784 2370 1850 2401 1751 2327 1687 2241 1870 2405 1829 2398 1789 2299 1866 2420 1836 2357 1792 2309 1773 2283 1766 2344 1864 2406 1708 2294 1873 2433 1747 2268 1724 2244 1877 2422 1796 2309 1766 2277 1856 2372 1870 2409 1883 2413 1705 2254 1955 2489 1851 2406 1898 2415 1754 2279 1846 2344 1735 2256 1805 2312 1812 2389 1821 2404 1872 2399 1753 2330 1706 2239 1700 2260 1825 2320 1711 2245 1859 2397 1813 2323 1803 2385 1707 2302 1781 2300 1890 2422 1864 2424 1888 2438 1839 2399 1665 2247 1888 2382 1847 2341 1873 2424 1855 2404 1881 2408 1858 2398 1664 2230 1831 2344 1697 2274 1701 2262 1896 2429 1688 2236 1669 2230 1832 2397 1865 2391 1873 2409 1860 2429 1897 2443 1701 2244 1683 2226 1803 2391 1736 2261 1681 2240 1767 2288 1680 2235 1832 2346 1800 2307 1765 2281 1687 2259 1860 2432 1699 2260 1782 2302 1719 2296 1832 2396 1777 2355 1857 2424 1828 2398 1772 2295 1859 2394 1788 2366 1856 2379 1761 2337 1827 2332 1848 2418 1763 2338 1702 2273 1777 2354 1792 2300 1713 2245 1733 2313 1828 2391 1882 2440 1814 2318 1741 2269 1659 2194 1701 2299 1832 2397 1843 2366 1838 2401 1873 2406 1837 2354 1686 2246 1897 2402 1743 2322 1860 2391 1845 2356 1775 2289 1750 2276 1889 2439 1797 2314 1672 2223 1787 2396 1790 2369 1787 2298 1719 2313 1735 2264 1680 2270 1841 2398 1785 2367 1758 2350 1748 2273 1727 2262 1667 2226 1853 2402 1702 2277 1714 2248 1867 2378 1867 2425 1811 2316 1867 2410 1860 2404 1831 2396 1849 2401 1867 2420 1723 2252 1776 2353 1699 2257 1839 2350 1845 2399 1699 2251 1858 2380 1944 2490 1757 2333 1840 2410 1775 2295 1821 2396 1732 2308 1837 2353 1877 2375 1870 2414 1839 2398 1688 2275 1727 2256 1767 2272 1732 2264 1700 2274 1832 2350 1750 2266 1835 2338 1831 2407 1808 2385 1717 2300 1747 2338 1670 2244 1870 2407 1694 2235 1703 2247 1856 2400 1835 2334 1688 2247 1784 2296 1732 2316 1890 2446 1882 2416 1904 2428 1741 2266 1688 2239 1868 2395 1707 2250 1666 2244 1742 2328 1812 2383 1831 2397 1883 2409 1828 2342 1642 2230 1715 2289 1640 2226 1730 2311 1871 2432 1858 2378 1700 2234 1818 2398 1766 2281 1829 2401 1720 2252 1891 2419 1851 2428 1743 2330 1897 2456 1884 2454 1740 2319 1855 2364 1792 2382 1740 2323 1734 2310 1940 2474 1730 2260 1852 2401 1739 2270 1851 2375 1871 2414 1755 2333 1689 2241 1693 2244 1831 2397 1786 2287 1810 2395 1759 2339 1767 2344 1788 2393 1665 2232 1699 2255 1825 2326 1616 2186 1846 2418 1882 2375 1843 2352 1756 2342 1712 2244 1846 2360 1948 2450 1749 2259 1879 2423 1728 2323 1701 2282 1723 2252 1891 2454 1703 2268 1889 2419 1888 2446 1759 2337 1895 2443 1855 2408 1872 2396 1770 2288 1736 2263 1860 2413 1689 2259 1833 2398 1810 2380 1767 2277 1706 2242 1684 2295 1857 2392 1766 2289 1731 2317 1693 2239 1663 2201 1691 2235 1738 2323 1711 2254 1738 2315 1691 2224 1740 2263 1859 2401 1827 2346 1858 2394 1796 2308 1699 2282 1936 2481 1753 2273 1699 2259 1864 2410 1866 2412 1867 2383 1656 2201 1827 2332 1848 2402 1702 2275 1668 2209 1872 2445 1752 2271 1736 2267 1751 2274 1874 2406 1839 2360 1738 2318 1825 2409 1688 2234 1674 2235 1839 2341 1737 2266 1855 2384 1739 2262 1680 2256 1785 2297 1780 2355 1849 2365 1846 2404 1709 2236 1852 2380 1901 2419 1707 2292 1822 2329 1711 2254 1879 2397 1883 2443 1774 2290 1761 2348 1745 2258 1769 2288 1734 2317 1728 2307 1794 2304 1669 2233 1863 2383 1907 2439 1858 2400 1870 2387 1747 2264 1688 2286 1860 2412 1846 2358 1823 2390 1836 2399 1890 2420 1896 2440 1822 2341 1834 2352 1679 2236 1690 2237 1857 2377 1711 2301 1847 2365 1740 2267 1803 2314 1825 2344 1858 2380 1769 2290 1685 2256 1887 2426 1860 2412 1696 2250 1756 2282 1671 2199 1854 2385 1798 2306 1892 2419 1758 2274 1766 2355 1778 2357 1817 2308 1725 2306 1686 2274 1676 2208 1833 2341 1650 2222 1711 2249 1844 2399 1864 2384 1777 2355 1864 2397 1735 2264 1801 2379 1819 2316 1794 2380 1773 2284 1836 2411 1795 2390 1876 2402 1695 2281 1780 2298 1773 2351 1862 2394 1690 2254 1729 2306 1721 2258 1832 2329 1735 2312 1658 2222 1707 2238 1837 2411 1709 2291 1850 2361 1825 2391 1691 2228 1727 2243 1802 2378 1889 2412 1864 2405 1888 2429 1877 2406 1727 2304 1777 2353 1792 2364 1699 2261 1883 2438 1705 2271 1869 2448 1665 2257 1885 2422 1884 2427 1892 2430 1850 2365 1711 2297 1788 2390 1792 2380 1793 2310 1722 2239 1725 2241 1875 2386 1855 2412 1717 2301 1796 2372 1846 2409 1854 2372 1790 2367 1713 2285 1741 2260 1818 2330 1832 2325 1848 2402 1681 2250 1882 2401 1796 2376 1854 2366 1751 2330 1683 2251 1770 2278 1916 2445 1813 2322 1700 2239 1869 2393 1859 2378 1844 2345 1696 2263 1708 2292 1679 2244 1860 2412 1859 2403 1887 2458 1851 2411 1773 2291 1703 2267 1689 2251 1869 2440 1824 2344 1709 2281 1760 2339 1763 2271 1700 2264 1829 2333 1699 2259 1833 2352 1673 2266 1722 2254 1779 2297 1709 2254 1801 2303 1791 2294 1830 2326 1704 2251 1798 2371 1681 2247 1690 2237 1705 2291 1810 2380 1692 2231 1766 2354 1730 2255 1699 2243 1721 2309 1843 2348 1865 2419 1750 2270 1779 2289 1670 2231 1786 2304 1691 2266 1851 2379 1883 2404 1735 2255 1789 2365 1801 2316 1739 2251 1692 2276 1806 2377 1763 2269 1773 2289 1712 2288 1692 2270 1926 2433 1813 2382 1855 2375 1753 2275 1813 2331 1683 2215 1780 2297 1758 2348 1880 2416 1690 2256 1837 2359 1710 2241 1861 2404 1877 2420 1895 2396 1869 2407 1696 2224 1707 2284 1705 2277 1873 2364 1782 2357 1660 2196 1712 2287 1745 2273 1724 2256 1704 2244 1729 2304 1869 2403 1870 2401 1846 2362 1652 2208 1793 2312 1782 2358 1873 2404 1695 2271 1886 2419 1860 2417 1852 2368 1861 2397 1682 2229 1710 2313 1878 2386 1757 2278 1690 2236 1868 2410 1810 2328 1864 2401 1824 2342 1706 2285 1702 2276 1864 2420 1797 2378 1827 2395 1844 2352 1753 2278 1776 2352 1704 2214 1837 2356 1848 2407 1678 2221 1714 2293 1844 2352 1845 2367 1616 2182 1878 2412 1725 2305 1739 2268 1809 2310 1727 2226 1864 2396 1861 2412 1726 2308 1679 2256 1705 2244 1674 2244 1703 2228 1698 2272 1875 2421 1672 2229 1686 2244 1801 2319 1698 2223 1696 2257 1692 2236 1834 2353 1700 2255 1733 2317 1672 2226 1722 2297 1815 2382 1832 2352 1646 2214 1740 2265 1781 2375 1730 2254 1845 2422 1855 2411 1906 2438 1714 2235 1749 2340 1703 2252 1665 2214 1892 2436 1877 2410 1788 2304 1795 2367 1814 2384 1734 2319 1862 2401 1864 2391 1656 2198 1655 2246 1795 2314 1725 2321 1798 2301 1696 2273 1872 2412 1721 2303 1854 2379 1866 2436 1861 2424 1722 2259 1645 2228 1682 2241 1866 2413 1695 2239 1736 2266 1862 2395 1735 2314 1884 2424 1867 2389 1783 2300 1907 2429 1732 2319 1739 2331 1760 2359 1893 2430 1862 2405 1704 2270 1681 2252 1729 2256 1715 2242 1890 2424 1850 2347 1730 2234 1660 2214 1641 2214 1839 2404 1821 2335 1824 2344 1698 2282 1793 2373 1791 2300 1662 2201 1872 2424 1722 2314 1689 2236 1716 2287 1869 2413 1880 2441 1749 2258 1839 2359 1681 2262 1860 2400 1883 2423 1841 2358 1628 2195 1825 2335 1872 2448 1713 2254 1679 2245 1772 2353 1860 2396 1843 2399 1658 2226 1684 2218 1728 2302 1798 2305 1844 2411 1867 2389 1723 2241 1873 2443 1676 2233 1726 2250 1850 2402 1867 2395 1751 2344 1712 2303 1746 2328 1845 2402 1807 2314 1787 2360 1718 2250 1617 2167 1802 2321 1699 2255 1711 2292 1782 2375 1775 2352 1753 2276 1735 2312 1756 2331 1824 2339 1669 2236 1755 2280 1688 2240 1905 2434 1865 2378 1688 2239 1653 2214 1683 2231 1853 2370 1799 2315 1798 2377 1800 2375 1750 2271 1663 2222 1828 2334 1686 2237 1815 2383 1719 2295 1716 2256 1820 2395 1707 2247 1915 2477 1752 2279 1736 2260 1880 2439 1716 2252 1831 2352 1764 2351 1888 2419 1816 2383 1778 2355 1815 2321 1789 2302 1730 2242 1742 2335 1893 2415 1695 2279 1795 2374 1826 2346 1881 2442 1754 2276 1859 2379 1666 2218 1826 2393 1859 2404 1691 2242 1677 2256 1697 2252 1781 2362 1801 2320 1830 2392 1812 2320 1768 2367 1677 2230 1907 2414 1850 2400 1721 2298 1897 2469 1846 2369 1821 2320 1817 2387 1729 2258 1746 2327 1852 2376 1722 2317 1850 2367 1828 2399 1652 2205 1809 2386 1662 2251 1860 2402 1890 2403 1853 2403 1905 2432 1702 2253 1863 2398 1780 2356 1836 2357 1866 2393 1889 2436 1681 2247 1765 2288 1773 2348 1840 2406 1864 2412 1804 2378 1878 2431 1686 2238 1749 2324 1786 2361 1878 2415 1822 2340 1874 2390 1824 2322 1743 2318 1853 2365 1721 2295 1921 2449 1901 2445 1694 2271 1699 2234 1698 2260 1754 2335 1646 2194 1766 2277 1741 2323 1768 2288 1902 2427 1889 2417 1731 2253 1680 2218 1690 2211 1636 2183 1709 2250 1854 2404 1858 2403 1808 2327 1888 2403 1866 2407 1883 2429 1867 2393 1669 2212 1806 2324 1889 2434 1750 2274 1879 2421 1800 2314 1872 2418 1781 2281 1665 2238 1780 2284 1847 2343 1879 2431 1746 2269 1840 2356 1841 2352 1683 2249 1840 2402 1823 2407 1713 2286 1888 2442 1742 2320 1622 2193 1851 2376 1863 2406 1723 2257 1736 2245 1861 2387 1700 2267 1894 2445 1778 2296 1697 2234 1735 2254 1772 2294 1867 2414 1702 2272 1827 2339" fill="none" stroke="none" marker-start="url(#ring)" marker-mid="url(#ring)" marker-end="url(#ring)"/><g fill="none" stroke="#8aaccd" stroke-width="4.8"><ellipse cx="1779.4" cy="2327.1" rx="150.4" ry="38.9" transform="rotate(42.90 1779.4 2327.1)"/><ellipse cx="1779.4" cy="2327.1" rx="124.4" ry="32.2" transform="rotate(42.90 1779.4 2327.1)"/><ellipse cx="1779.4" cy="2327.1" rx="106.3" ry="27.5" transform="rotate(42.90 1779.4 2327.1)"/><ellipse cx="1779.4" cy="2327.1" rx="91.1" ry="23.6" transform="rotate(42.90 1779.4 2327.1)"/><ellipse cx="1779.4" cy="2327.1" rx="76.6" ry="19.8" transform="rotate(42.90 1779.4 2327.1)"/><ellipse cx="1779.4" cy="2327.1" rx="62.9" ry="16.3" transform="rotate(42.90 1779.4 2327.1)"/><ellipse cx="1779.4" cy="2327.1" rx="47.7" ry="12.3" transform="rotate(42.90 1779.4 2327.1)"/><ellipse cx="1779.4" cy="2327.1" rx="28.9" ry="7.5" transform="rotate(42.90 1779.4 2327.1)"/></g><g fill="none" stroke="#3a6a9a" stroke-width="3.3"><ellipse cx="1779.4" cy="2327.1" rx="150.4" ry="38.9" transform="rotate(42.90 1779.4 2327.1)"/><ellipse cx="1779.4" cy="2327.1" rx="124.4" ry="32.2" transform="rotate(42.90 1779.4 2327.1)"/><ellipse cx="1779.4" cy="2327.1" rx="106.3" ry="27.5" transform="rotate(42.90 1779.4 2327.1)"/><ellipse cx="1779.4" cy="2327.1" rx="91.1" ry="23.6" transform="rotate(42.90 1779.4 2327.1)"/><ellipse cx="1779.4" cy="2327.1" rx="76.6" ry="19.8" transform="rotate(42.90 1779.4 2327.1)"/><ellipse cx="1779.4" cy="2327.1" rx="62.9" ry="16.3" transform="rotate(42.90 1779.4 2327.1)"/><ellipse cx="1779.4" cy="2327.1" rx="47.7" ry="12.3" transform="rotate(42.90 1779.4 2327.1)"/><ellipse cx="1779.4" cy="2327.1" rx="28.9" ry="7.5" transform="rotate(42.90 1779.4 2327.1)"/></g></g><line x1="1512.5" y1="2328" x2="2046.6" y2="2328" stroke="#000" stroke-width="2.8" stroke-dasharray="10 10.6" stroke-dashoffset="-1"/><line x1="1779.5" y1="2078" x2="1779.5" y2="2110.5" stroke="#000" stroke-width="2.8" stroke-linecap="round"/><line x1="1779.5" y1="2120.1" x2="1779.5" y2="2585.1" stroke="#000" stroke-width="2.8" stroke-dasharray="10 10.6" stroke-linecap="round"/><circle cx="1929.6" cy="2463" r="15" fill="none" stroke="#b8860b" stroke-width="4"/><path d="M1922.6,2456L1936.6,2470M1936.6,2456L1922.6,2470" stroke="#b8860b" stroke-width="4"/><rect x="1512.5" y="2070.5" width="534.1" height="514.6" fill="none" stroke="#000" stroke-width="2.6"/><line x1="1595.1" y1="2585.1" x2="1595.1" y2="2602.4" stroke="#000" stroke-width="2.6"/><text x="1595.1" y="2645.1" font-size="52.5" text-anchor="middle" font-weight="normal" fill="#000" >-2</text><line x1="1687.3" y1="2585.1" x2="1687.3" y2="2602.4" stroke="#000" stroke-width="2.6"/><text x="1687.3" y="2645.1" font-size="52.5" text-anchor="middle" font-weight="normal" fill="#000" >-1</text><line x1="1779.5" y1="2585.1" x2="1779.5" y2="2602.4" stroke="#000" stroke-width="2.6"/><text x="1779.5" y="2645.1" font-size="52.5" text-anchor="middle" font-weight="normal" fill="#000" >0</text><line x1="1871.7" y1="2585.1" x2="1871.7" y2="2602.4" stroke="#000" stroke-width="2.6"/><text x="1871.7" y="2645.1" font-size="52.5" text-anchor="middle" font-weight="normal" fill="#000" >1</text><line x1="1963.9" y1="2585.1" x2="1963.9" y2="2602.4" stroke="#000" stroke-width="2.6"/><text x="1963.9" y="2645.1" font-size="52.5" text-anchor="middle" font-weight="normal" fill="#000" >2</text><line x1="1495.1" y1="2184.2" x2="1512.5" y2="2184.2" stroke="#000" stroke-width="2.6"/><text x="1480.8" y="2203.2" font-size="52.5" text-anchor="end" font-weight="normal" fill="#000" >2</text><line x1="1495.1" y1="2256.1" x2="1512.5" y2="2256.1" stroke="#000" stroke-width="2.6"/><text x="1480.8" y="2275.1" font-size="52.5" text-anchor="end" font-weight="normal" fill="#000" >1</text><line x1="1495.1" y1="2328" x2="1512.5" y2="2328" stroke="#000" stroke-width="2.6"/><text x="1480.8" y="2347" font-size="52.5" text-anchor="end" font-weight="normal" fill="#000" >0</text><line x1="1495.1" y1="2399.9" x2="1512.5" y2="2399.9" stroke="#000" stroke-width="2.6"/><text x="1480.8" y="2418.9" font-size="52.5" text-anchor="end" font-weight="normal" fill="#000" >-1</text><line x1="1495.1" y1="2471.8" x2="1512.5" y2="2471.8" stroke="#000" stroke-width="2.6"/><text x="1480.8" y="2490.8" font-size="52.5" text-anchor="end" font-weight="normal" fill="#000" >-2</text><text x="1780" y="2102.8" font-size="33.3" text-anchor="middle" font-weight="normal" fill="#000" >Reshuffled countries</text><text x="1534.8" y="2146.8" font-size="83" text-anchor="start" font-weight="bold" fill="#000" >f</text><text x="1497.5" y="2699.2" font-size="49.58">Precipitation coef. (×10</text><text x="2005.0" y="2674.2" font-size="35.09">−4</text><text x="2045.2" y="2699.2" font-size="50.00">)</text><text transform="translate(1397.4,2633.5) rotate(-90)" xml:space="preserve"><tspan x="9.1" y="0.0" font-size="49.71">Precipitation</tspan><tspan x="281.3" y="-25.0" font-size="35.50">2</tspan><tspan x="312.8" y="0.0" font-size="49.60">coef.  (×10</tspan><tspan x="547.2" y="-25.0" font-size="35.58">−7</tspan><tspan x="587.8" y="0.0" font-size="50.70">)</tspan></text><g font-size="41.3" fill="#4d4d4d" text-anchor="middle"><text x="1903.7" y="149.4">Reshuffled</text><text x="1903.4" y="186.9">estimates</text><text x="1903" y="226.9">(n=10<tspan font-size="27.7" dy="-20">4</tspan><tspan dy="20">)</tspan></text></g><path d="M1901.9,235.2C1890,257 1884,276 1852.4,268.1M1870,263.3L1852.4,268.1L1865.2,281.4" fill="none" stroke="#4d4d4d" stroke-width="3.8" stroke-linecap="round" stroke-linejoin="round"/><g font-size="41.3" fill="#b8860b" text-anchor="middle"><text x="1599.4" y="393.4">Sample</text><text x="1598.8" y="434">estimate</text></g><path d="M1599.7,357.4C1618,318 1630,287 1668.5,286M1652.1,278.2L1668.5,286L1653.4,298.5" fill="none" stroke="#b8860b" stroke-width="4" stroke-linecap="round" stroke-linejoin="round"/></svg></body></html>
